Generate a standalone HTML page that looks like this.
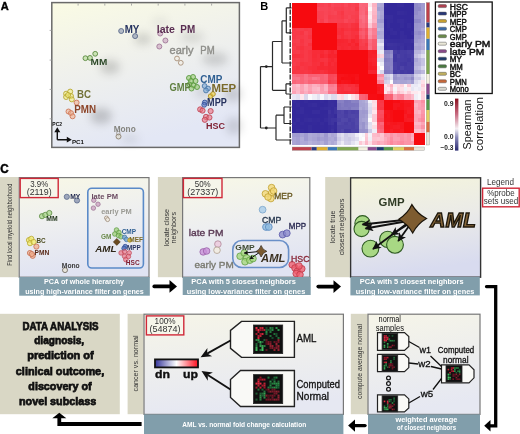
<!DOCTYPE html>
<html><head><meta charset="utf-8"><style>
html,body{margin:0;padding:0;background:#fff;}
body{width:520px;height:434px;overflow:hidden;}
svg{display:block;will-change:transform;font-family:"Liberation Sans", sans-serif;}
</style></head><body>
<svg width="520" height="434" viewBox="0 0 520 434">
<defs>
<linearGradient id="pg" x1="0" y1="0" x2="0.35" y2="1"><stop offset="0" stop-color="#fafbe4"/><stop offset="0.45" stop-color="#f0f1ec"/><stop offset="1" stop-color="#e3e7f5"/></linearGradient>
<filter id="blur4" x="-50%" y="-50%" width="200%" height="200%"><feGaussianBlur stdDeviation="4"/></filter>
<filter id="blur5" x="-50%" y="-50%" width="200%" height="200%"><feGaussianBlur stdDeviation="4.5"/></filter><filter id="blur2" x="-50%" y="-50%" width="200%" height="200%"><feGaussianBlur stdDeviation="2"/></filter>
<linearGradient id="cbar" x1="0" y1="1" x2="0" y2="0"><stop offset="0" stop-color="#2a2a70"/><stop offset="0.25" stop-color="#8888b8"/><stop offset="0.42" stop-color="#f4f0f4"/><stop offset="0.7" stop-color="#c86a80"/><stop offset="1" stop-color="#8a1020"/></linearGradient>
<linearGradient id="dnup" x1="0" y1="0" x2="1" y2="0"><stop offset="0" stop-color="#34349a"/><stop offset="0.5" stop-color="#ffffff"/><stop offset="1" stop-color="#ff1020"/></linearGradient>
</defs>
<text x="0.8" y="10.2" font-size="11.6" font-weight="bold" fill="#000" stroke="#000" stroke-width="0.4" textLength="8" lengthAdjust="spacingAndGlyphs">A</text>
<rect x="51.8" y="2.6" width="187.6" height="144.8" fill="url(#pg)" stroke="#6a6a6a" stroke-width="1.5"/>
<g filter="url(#blur5)">
<ellipse cx="110" cy="67" rx="10" ry="7" fill="#000" opacity="0.16"/>
<ellipse cx="143" cy="39" rx="9" ry="6" fill="#000" opacity="0.14"/>
<ellipse cx="192" cy="37" rx="12" ry="6" fill="#000" opacity="0.1"/>
<ellipse cx="215" cy="59" rx="13" ry="7" fill="#000" opacity="0.14"/>
<ellipse cx="101" cy="116" rx="11" ry="8" fill="#000" opacity="0.18"/>
<ellipse cx="233" cy="94" rx="9" ry="8" fill="#000" opacity="0.14"/>
<ellipse cx="234" cy="126" rx="8" ry="9" fill="#000" opacity="0.13"/>
<ellipse cx="130" cy="139" rx="9" ry="5" fill="#000" opacity="0.08"/>
<ellipse cx="203" cy="92" rx="9" ry="6" fill="#000" opacity="0.1"/>
<ellipse cx="160" cy="22" rx="8" ry="5" fill="#000" opacity="0.06"/>
</g>
<path d="M78.1 3.4v2.2M104.8 3.4v2.2M131.5 3.4v2.2M158.2 3.4v2.2M184.9 3.4v2.2M211.6 3.4v2.2M49.6 30.4h2.2M49.6 60.1h2.2M49.6 89.4h2.2M49.6 118.8h2.2" stroke="#999" stroke-width="0.8"/>
<circle cx="121.2" cy="31" r="2.5" fill="#8894b0" fill-opacity="0.6" stroke="#5a6a8a" stroke-width="0.9"/>
<circle cx="135.1" cy="36.1" r="2.5" fill="#8894b0" fill-opacity="0.6" stroke="#5a6a8a" stroke-width="0.9"/>
<circle cx="160.2" cy="33.5" r="2.5" fill="#c8a0bc" fill-opacity="0.6" stroke="#a07898" stroke-width="0.9"/>
<circle cx="165.4" cy="40.5" r="2.5" fill="#c8a0bc" fill-opacity="0.6" stroke="#a07898" stroke-width="0.9"/>
<circle cx="159.3" cy="46.5" r="2.5" fill="#c8a0bc" fill-opacity="0.6" stroke="#a07898" stroke-width="0.9"/>
<circle cx="177" cy="58.5" r="2.4" fill="#f4eee4" fill-opacity="0.6" stroke="#a89078" stroke-width="0.9"/>
<circle cx="180.8" cy="62.8" r="2.4" fill="#f4eee4" fill-opacity="0.6" stroke="#a89078" stroke-width="0.9"/>
<circle cx="85.4" cy="58.2" r="2.4" fill="#b0d890" fill-opacity="0.6" stroke="#5a8a40" stroke-width="0.9"/>
<circle cx="90" cy="57.9" r="2.4" fill="#b0d890" fill-opacity="0.6" stroke="#5a8a40" stroke-width="0.9"/>
<circle cx="95.2" cy="53.8" r="2.4" fill="#b0d890" fill-opacity="0.6" stroke="#5a8a40" stroke-width="0.9"/>
<circle cx="189" cy="78" r="2.5" fill="#98cc70" fill-opacity="0.6" stroke="#5a9a40" stroke-width="0.9"/>
<circle cx="193" cy="77" r="2.5" fill="#98cc70" fill-opacity="0.6" stroke="#5a9a40" stroke-width="0.9"/>
<circle cx="191" cy="81" r="2.5" fill="#98cc70" fill-opacity="0.6" stroke="#5a9a40" stroke-width="0.9"/>
<circle cx="195.5" cy="81" r="2.5" fill="#98cc70" fill-opacity="0.6" stroke="#5a9a40" stroke-width="0.9"/>
<circle cx="189.5" cy="84.5" r="2.5" fill="#98cc70" fill-opacity="0.6" stroke="#5a9a40" stroke-width="0.9"/>
<circle cx="193.5" cy="85.5" r="2.5" fill="#98cc70" fill-opacity="0.6" stroke="#5a9a40" stroke-width="0.9"/>
<circle cx="197" cy="87" r="2.5" fill="#98cc70" fill-opacity="0.6" stroke="#5a9a40" stroke-width="0.9"/>
<circle cx="191.5" cy="88.5" r="2.5" fill="#98cc70" fill-opacity="0.6" stroke="#5a9a40" stroke-width="0.9"/>
<circle cx="204.6" cy="86" r="2.4" fill="#7aa8d8" fill-opacity="0.6" stroke="#4a78a8" stroke-width="0.9"/>
<circle cx="208" cy="88.5" r="2.4" fill="#7aa8d8" fill-opacity="0.6" stroke="#4a78a8" stroke-width="0.9"/>
<circle cx="206" cy="90.5" r="2.4" fill="#7aa8d8" fill-opacity="0.6" stroke="#4a78a8" stroke-width="0.9"/>
<circle cx="210.6" cy="96.1" r="2.3" fill="#f0d040" fill-opacity="0.6" stroke="#b09020" stroke-width="0.9"/>
<circle cx="213" cy="94" r="2.3" fill="#f0d040" fill-opacity="0.6" stroke="#b09020" stroke-width="0.9"/>
<circle cx="204.8" cy="102.5" r="2.4" fill="#5a78c0" fill-opacity="0.6" stroke="#34509a" stroke-width="0.9"/>
<circle cx="204.2" cy="104.8" r="2.4" fill="#5a78c0" fill-opacity="0.6" stroke="#34509a" stroke-width="0.9"/>
<circle cx="200.2" cy="109.4" r="2.6" fill="#ec7080" fill-opacity="0.6" stroke="#c04858" stroke-width="0.9"/>
<circle cx="202.5" cy="110.6" r="2.6" fill="#ec7080" fill-opacity="0.6" stroke="#c04858" stroke-width="0.9"/>
<circle cx="210.6" cy="111.1" r="2.6" fill="#ec7080" fill-opacity="0.6" stroke="#c04858" stroke-width="0.9"/>
<circle cx="206" cy="116.9" r="2.6" fill="#ec7080" fill-opacity="0.6" stroke="#c04858" stroke-width="0.9"/>
<circle cx="209.4" cy="117.5" r="2.6" fill="#ec7080" fill-opacity="0.6" stroke="#c04858" stroke-width="0.9"/>
<circle cx="204.8" cy="119.8" r="2.6" fill="#ec7080" fill-opacity="0.6" stroke="#c04858" stroke-width="0.9"/>
<circle cx="66.1" cy="93.7" r="2.5" fill="#f4ec80" fill-opacity="0.6" stroke="#b8a830" stroke-width="0.9"/>
<circle cx="70.2" cy="91.6" r="2.5" fill="#f4ec80" fill-opacity="0.6" stroke="#b8a830" stroke-width="0.9"/>
<circle cx="66.1" cy="97" r="2.5" fill="#f4ec80" fill-opacity="0.6" stroke="#b8a830" stroke-width="0.9"/>
<circle cx="71" cy="96.1" r="2.5" fill="#f4ec80" fill-opacity="0.6" stroke="#b8a830" stroke-width="0.9"/>
<circle cx="71.8" cy="99.4" r="2.5" fill="#f4ec80" fill-opacity="0.6" stroke="#b8a830" stroke-width="0.9"/>
<circle cx="68" cy="95" r="2.5" fill="#f4ec80" fill-opacity="0.6" stroke="#b8a830" stroke-width="0.9"/>
<circle cx="76.6" cy="102.6" r="2.5" fill="#f0b090" fill-opacity="0.6" stroke="#d07858" stroke-width="0.9"/>
<circle cx="68.5" cy="111.5" r="2.5" fill="#f0b090" fill-opacity="0.6" stroke="#d07858" stroke-width="0.9"/>
<circle cx="71" cy="113.1" r="2.5" fill="#f0b090" fill-opacity="0.6" stroke="#d07858" stroke-width="0.9"/>
<circle cx="72.6" cy="116.3" r="2.5" fill="#f0b090" fill-opacity="0.6" stroke="#d07858" stroke-width="0.9"/>
<circle cx="118.5" cy="136.5" r="2.5" fill="#ded8c8" fill-opacity="0.6" stroke="#8a8070" stroke-width="0.9"/>
<circle cx="118.3" cy="133.2" r="1.8" fill="none" fill-opacity="0.6" stroke="#8a8070" stroke-width="0.6"/>
<text x="124.7" y="32.7" font-size="10.2" fill="#263360" font-weight="bold" font-style="normal" text-anchor="start" textLength="14.7" lengthAdjust="spacingAndGlyphs" >MY</text>
<text x="156.8" y="32.6" font-size="10.6" fill="#5a2e52" font-weight="bold" font-style="normal" text-anchor="start" textLength="18.2" lengthAdjust="spacingAndGlyphs" >late</text>
<text x="180.3" y="32.6" font-size="10.6" fill="#5a2e52" font-weight="bold" font-style="normal" text-anchor="start" textLength="14.8" lengthAdjust="spacingAndGlyphs" >PM</text>
<text x="169.5" y="54.3" font-size="10.6" fill="#929290" font-weight="normal" font-style="normal" text-anchor="start" textLength="24" lengthAdjust="spacingAndGlyphs"  stroke="#8a8a84" stroke-width="0.4">early</text>
<text x="200.3" y="54.3" font-size="10.6" fill="#929290" font-weight="normal" font-style="normal" text-anchor="start" textLength="14.3" lengthAdjust="spacingAndGlyphs"  stroke="#8a8a84" stroke-width="0.4">PM</text>
<text x="90.6" y="64.8" font-size="9" fill="#2e4a2a" font-weight="bold" font-style="normal" text-anchor="start" textLength="16.7" lengthAdjust="spacingAndGlyphs" >MM</text>
<text x="169.5" y="90.8" font-size="10" fill="#5e7e3e" font-weight="bold" font-style="normal" text-anchor="start" textLength="21.3" lengthAdjust="spacingAndGlyphs" >GMP</text>
<text x="200.3" y="82.9" font-size="10.4" fill="#2f5f92" font-weight="bold" font-style="normal" text-anchor="start" textLength="22" lengthAdjust="spacingAndGlyphs" >CMP</text>
<text x="211.5" y="92.1" font-size="10.4" fill="#7a6a2a" font-weight="bold" font-style="normal" text-anchor="start" textLength="24.7" lengthAdjust="spacingAndGlyphs" >MEP</text>
<text x="207.1" y="106.3" font-size="10.2" fill="#26325e" font-weight="bold" font-style="normal" text-anchor="start" textLength="19.6" lengthAdjust="spacingAndGlyphs" >MPP</text>
<text x="206" y="128.5" font-size="9.8" fill="#7e1e30" font-weight="bold" font-style="normal" text-anchor="start" textLength="19" lengthAdjust="spacingAndGlyphs" >HSC</text>
<text x="77.1" y="97.6" font-size="10" fill="#727238" font-weight="bold" font-style="normal" text-anchor="start" textLength="14" lengthAdjust="spacingAndGlyphs" >BC</text>
<text x="74.2" y="113.2" font-size="10.4" fill="#8c4428" font-weight="bold" font-style="normal" text-anchor="start" textLength="21.8" lengthAdjust="spacingAndGlyphs" >PMN</text>
<text x="113.7" y="132.3" font-size="9" fill="#84847e" font-weight="bold" font-style="normal" text-anchor="start" textLength="22" lengthAdjust="spacingAndGlyphs" >Mono</text>
<text x="52.3" y="126.3" font-size="6.2" font-weight="bold" fill="#111" textLength="9.8" lengthAdjust="spacingAndGlyphs">PC2</text>
<path d="M57.3 139.7 V130.5 M57.3 139.7 H68" stroke="#111" stroke-width="1.4" fill="none"/>
<path d="M57.3 127.2 L54.3 132.2 L60.3 132.2 Z M71.8 139.7 L66.8 136.8 L66.8 142.6 Z" fill="#111"/>
<text x="72" y="143.5" font-size="6.2" font-weight="bold" fill="#111" textLength="12" lengthAdjust="spacingAndGlyphs">PC1</text>
<text x="260.2" y="10.4" font-size="10" font-weight="bold" fill="#000" textLength="8" lengthAdjust="spacingAndGlyphs">B</text>
<g shape-rendering="crispEdges">
<rect x="292.00" y="2.50" width="4.22" height="4.30" fill="#f70a0f"/>
<rect x="295.92" y="2.50" width="4.22" height="4.30" fill="#f70a0f"/>
<rect x="299.84" y="2.50" width="4.22" height="4.30" fill="#f70a0f"/>
<rect x="303.76" y="2.50" width="4.22" height="4.30" fill="#f70a0f"/>
<rect x="307.68" y="2.50" width="4.22" height="4.30" fill="#f70a0f"/>
<rect x="311.60" y="2.50" width="5.50" height="4.30" fill="#f70a0f"/>
<rect x="316.80" y="2.50" width="3.93" height="4.30" fill="#f84151"/>
<rect x="320.43" y="2.50" width="3.93" height="4.30" fill="#f84252"/>
<rect x="324.07" y="2.50" width="3.93" height="4.30" fill="#f84656"/>
<rect x="327.70" y="2.50" width="3.47" height="4.30" fill="#f83f4e"/>
<rect x="330.87" y="2.50" width="3.47" height="4.30" fill="#f9495a"/>
<rect x="334.03" y="2.50" width="3.47" height="4.30" fill="#f84555"/>
<rect x="337.20" y="2.50" width="3.87" height="4.30" fill="#f84455"/>
<rect x="340.77" y="2.50" width="3.87" height="4.30" fill="#f84151"/>
<rect x="344.33" y="2.50" width="3.87" height="4.30" fill="#f94959"/>
<rect x="347.90" y="2.50" width="3.87" height="4.30" fill="#f84050"/>
<rect x="351.47" y="2.50" width="3.87" height="4.30" fill="#f84353"/>
<rect x="355.03" y="2.50" width="3.87" height="4.30" fill="#f83f4e"/>
<rect x="358.60" y="2.50" width="3.33" height="4.30" fill="#fa687c"/>
<rect x="361.63" y="2.50" width="3.33" height="4.30" fill="#fa6579"/>
<rect x="364.67" y="2.50" width="3.33" height="4.30" fill="#f96578"/>
<rect x="367.70" y="2.50" width="4.75" height="4.30" fill="#fee6ec"/>
<rect x="372.15" y="2.50" width="4.75" height="4.30" fill="#fcb2c2"/>
<rect x="376.60" y="2.50" width="3.95" height="4.30" fill="#afabd7"/>
<rect x="380.25" y="2.50" width="3.95" height="4.30" fill="#aba6d5"/>
<rect x="383.90" y="2.50" width="3.40" height="4.30" fill="#362b9b"/>
<rect x="387.00" y="2.50" width="3.40" height="4.30" fill="#33289a"/>
<rect x="390.10" y="2.50" width="3.40" height="4.30" fill="#33289a"/>
<rect x="393.20" y="2.50" width="3.90" height="4.30" fill="#33289a"/>
<rect x="396.80" y="2.50" width="3.90" height="4.30" fill="#362b9b"/>
<rect x="400.40" y="2.50" width="3.90" height="4.30" fill="#372c9c"/>
<rect x="404.00" y="2.50" width="3.70" height="4.30" fill="#33289a"/>
<rect x="407.40" y="2.50" width="3.70" height="4.30" fill="#33289a"/>
<rect x="410.80" y="2.50" width="3.70" height="4.30" fill="#33289a"/>
<rect x="414.20" y="2.50" width="3.73" height="4.30" fill="#908ac8"/>
<rect x="417.63" y="2.50" width="3.73" height="4.30" fill="#9590cb"/>
<rect x="421.07" y="2.50" width="3.73" height="4.30" fill="#a09ad0"/>
<rect x="292.00" y="6.50" width="4.22" height="4.30" fill="#f70a0f"/>
<rect x="295.92" y="6.50" width="4.22" height="4.30" fill="#f70a0f"/>
<rect x="299.84" y="6.50" width="4.22" height="4.30" fill="#f70a0f"/>
<rect x="303.76" y="6.50" width="4.22" height="4.30" fill="#f70a0f"/>
<rect x="307.68" y="6.50" width="4.22" height="4.30" fill="#f70a0f"/>
<rect x="311.60" y="6.50" width="5.50" height="4.30" fill="#f70a0f"/>
<rect x="316.80" y="6.50" width="3.93" height="4.30" fill="#f94859"/>
<rect x="320.43" y="6.50" width="3.93" height="4.30" fill="#f84657"/>
<rect x="324.07" y="6.50" width="3.93" height="4.30" fill="#f84757"/>
<rect x="327.70" y="6.50" width="3.47" height="4.30" fill="#f84353"/>
<rect x="330.87" y="6.50" width="3.47" height="4.30" fill="#f84555"/>
<rect x="334.03" y="6.50" width="3.47" height="4.30" fill="#f84050"/>
<rect x="337.20" y="6.50" width="3.87" height="4.30" fill="#f84050"/>
<rect x="340.77" y="6.50" width="3.87" height="4.30" fill="#f83e4d"/>
<rect x="344.33" y="6.50" width="3.87" height="4.30" fill="#f84454"/>
<rect x="347.90" y="6.50" width="3.87" height="4.30" fill="#f84252"/>
<rect x="351.47" y="6.50" width="3.87" height="4.30" fill="#f84555"/>
<rect x="355.03" y="6.50" width="3.87" height="4.30" fill="#f83947"/>
<rect x="358.60" y="6.50" width="3.33" height="4.30" fill="#f96579"/>
<rect x="361.63" y="6.50" width="3.33" height="4.30" fill="#fa677b"/>
<rect x="364.67" y="6.50" width="3.33" height="4.30" fill="#f95e71"/>
<rect x="367.70" y="6.50" width="4.75" height="4.30" fill="#fefafb"/>
<rect x="372.15" y="6.50" width="4.75" height="4.30" fill="#fcbac9"/>
<rect x="376.60" y="6.50" width="3.95" height="4.30" fill="#a39ed1"/>
<rect x="380.25" y="6.50" width="3.95" height="4.30" fill="#a6a1d3"/>
<rect x="383.90" y="6.50" width="3.40" height="4.30" fill="#33289a"/>
<rect x="387.00" y="6.50" width="3.40" height="4.30" fill="#33289a"/>
<rect x="390.10" y="6.50" width="3.40" height="4.30" fill="#33289a"/>
<rect x="393.20" y="6.50" width="3.90" height="4.30" fill="#33289a"/>
<rect x="396.80" y="6.50" width="3.90" height="4.30" fill="#33289a"/>
<rect x="400.40" y="6.50" width="3.90" height="4.30" fill="#33289a"/>
<rect x="404.00" y="6.50" width="3.70" height="4.30" fill="#33289a"/>
<rect x="407.40" y="6.50" width="3.70" height="4.30" fill="#33289a"/>
<rect x="410.80" y="6.50" width="3.70" height="4.30" fill="#33289a"/>
<rect x="414.20" y="6.50" width="3.73" height="4.30" fill="#8f89c7"/>
<rect x="417.63" y="6.50" width="3.73" height="4.30" fill="#8e88c7"/>
<rect x="421.07" y="6.50" width="3.73" height="4.30" fill="#a19cd0"/>
<rect x="292.00" y="10.50" width="4.22" height="4.30" fill="#f70a0f"/>
<rect x="295.92" y="10.50" width="4.22" height="4.30" fill="#f70a0f"/>
<rect x="299.84" y="10.50" width="4.22" height="4.30" fill="#f70a0f"/>
<rect x="303.76" y="10.50" width="4.22" height="4.30" fill="#f70a0f"/>
<rect x="307.68" y="10.50" width="4.22" height="4.30" fill="#f70a0f"/>
<rect x="311.60" y="10.50" width="5.50" height="4.30" fill="#f70a0f"/>
<rect x="316.80" y="10.50" width="3.93" height="4.30" fill="#f84251"/>
<rect x="320.43" y="10.50" width="3.93" height="4.30" fill="#f84252"/>
<rect x="324.07" y="10.50" width="3.93" height="4.30" fill="#f84656"/>
<rect x="327.70" y="10.50" width="3.47" height="4.30" fill="#f84151"/>
<rect x="330.87" y="10.50" width="3.47" height="4.30" fill="#f84454"/>
<rect x="334.03" y="10.50" width="3.47" height="4.30" fill="#f84757"/>
<rect x="337.20" y="10.50" width="3.87" height="4.30" fill="#f83c4b"/>
<rect x="340.77" y="10.50" width="3.87" height="4.30" fill="#f83745"/>
<rect x="344.33" y="10.50" width="3.87" height="4.30" fill="#f84353"/>
<rect x="347.90" y="10.50" width="3.87" height="4.30" fill="#f84251"/>
<rect x="351.47" y="10.50" width="3.87" height="4.30" fill="#f84252"/>
<rect x="355.03" y="10.50" width="3.87" height="4.30" fill="#f83f4e"/>
<rect x="358.60" y="10.50" width="3.33" height="4.30" fill="#fa667a"/>
<rect x="361.63" y="10.50" width="3.33" height="4.30" fill="#fa6a7e"/>
<rect x="364.67" y="10.50" width="3.33" height="4.30" fill="#f9596c"/>
<rect x="367.70" y="10.50" width="4.75" height="4.30" fill="#fee3e9"/>
<rect x="372.15" y="10.50" width="4.75" height="4.30" fill="#fcb5c5"/>
<rect x="376.60" y="10.50" width="3.95" height="4.30" fill="#b3afd9"/>
<rect x="380.25" y="10.50" width="3.95" height="4.30" fill="#aba6d5"/>
<rect x="383.90" y="10.50" width="3.40" height="4.30" fill="#33289a"/>
<rect x="387.00" y="10.50" width="3.40" height="4.30" fill="#33289a"/>
<rect x="390.10" y="10.50" width="3.40" height="4.30" fill="#33289a"/>
<rect x="393.20" y="10.50" width="3.90" height="4.30" fill="#33289a"/>
<rect x="396.80" y="10.50" width="3.90" height="4.30" fill="#372c9c"/>
<rect x="400.40" y="10.50" width="3.90" height="4.30" fill="#362b9b"/>
<rect x="404.00" y="10.50" width="3.70" height="4.30" fill="#342a9a"/>
<rect x="407.40" y="10.50" width="3.70" height="4.30" fill="#33289a"/>
<rect x="410.80" y="10.50" width="3.70" height="4.30" fill="#33289a"/>
<rect x="414.20" y="10.50" width="3.73" height="4.30" fill="#928cc9"/>
<rect x="417.63" y="10.50" width="3.73" height="4.30" fill="#9c96ce"/>
<rect x="421.07" y="10.50" width="3.73" height="4.30" fill="#a29dd1"/>
<rect x="292.00" y="14.50" width="4.22" height="4.30" fill="#f70a0f"/>
<rect x="295.92" y="14.50" width="4.22" height="4.30" fill="#f70a0f"/>
<rect x="299.84" y="14.50" width="4.22" height="4.30" fill="#f70a0f"/>
<rect x="303.76" y="14.50" width="4.22" height="4.30" fill="#f70a0f"/>
<rect x="307.68" y="14.50" width="4.22" height="4.30" fill="#f70a0f"/>
<rect x="311.60" y="14.50" width="5.50" height="4.30" fill="#f70a0f"/>
<rect x="316.80" y="14.50" width="3.93" height="4.30" fill="#f84151"/>
<rect x="320.43" y="14.50" width="3.93" height="4.30" fill="#f84251"/>
<rect x="324.07" y="14.50" width="3.93" height="4.30" fill="#f94758"/>
<rect x="327.70" y="14.50" width="3.47" height="4.30" fill="#f83d4c"/>
<rect x="330.87" y="14.50" width="3.47" height="4.30" fill="#f83f4e"/>
<rect x="334.03" y="14.50" width="3.47" height="4.30" fill="#f84050"/>
<rect x="337.20" y="14.50" width="3.87" height="4.30" fill="#f83e4d"/>
<rect x="340.77" y="14.50" width="3.87" height="4.30" fill="#f83a48"/>
<rect x="344.33" y="14.50" width="3.87" height="4.30" fill="#f84151"/>
<rect x="347.90" y="14.50" width="3.87" height="4.30" fill="#f84656"/>
<rect x="351.47" y="14.50" width="3.87" height="4.30" fill="#f83f4e"/>
<rect x="355.03" y="14.50" width="3.87" height="4.30" fill="#f83d4c"/>
<rect x="358.60" y="14.50" width="3.33" height="4.30" fill="#fa6c80"/>
<rect x="361.63" y="14.50" width="3.33" height="4.30" fill="#fa6f84"/>
<rect x="364.67" y="14.50" width="3.33" height="4.30" fill="#f96275"/>
<rect x="367.70" y="14.50" width="4.75" height="4.30" fill="#feecf1"/>
<rect x="372.15" y="14.50" width="4.75" height="4.30" fill="#fcaebf"/>
<rect x="376.60" y="14.50" width="3.95" height="4.30" fill="#b0acd8"/>
<rect x="380.25" y="14.50" width="3.95" height="4.30" fill="#a7a2d3"/>
<rect x="383.90" y="14.50" width="3.40" height="4.30" fill="#372c9c"/>
<rect x="387.00" y="14.50" width="3.40" height="4.30" fill="#372d9c"/>
<rect x="390.10" y="14.50" width="3.40" height="4.30" fill="#372c9c"/>
<rect x="393.20" y="14.50" width="3.90" height="4.30" fill="#33289a"/>
<rect x="396.80" y="14.50" width="3.90" height="4.30" fill="#33289a"/>
<rect x="400.40" y="14.50" width="3.90" height="4.30" fill="#33289a"/>
<rect x="404.00" y="14.50" width="3.70" height="4.30" fill="#33289a"/>
<rect x="407.40" y="14.50" width="3.70" height="4.30" fill="#33289a"/>
<rect x="410.80" y="14.50" width="3.70" height="4.30" fill="#34299a"/>
<rect x="414.20" y="14.50" width="3.73" height="4.30" fill="#9893cc"/>
<rect x="417.63" y="14.50" width="3.73" height="4.30" fill="#9a95cd"/>
<rect x="421.07" y="14.50" width="3.73" height="4.30" fill="#9f9acf"/>
<rect x="292.00" y="18.50" width="4.22" height="4.30" fill="#f70a0f"/>
<rect x="295.92" y="18.50" width="4.22" height="4.30" fill="#f70a0f"/>
<rect x="299.84" y="18.50" width="4.22" height="4.30" fill="#f70a0f"/>
<rect x="303.76" y="18.50" width="4.22" height="4.30" fill="#f70a0f"/>
<rect x="307.68" y="18.50" width="4.22" height="4.30" fill="#f70a0f"/>
<rect x="311.60" y="18.50" width="5.50" height="4.30" fill="#f70a0f"/>
<rect x="316.80" y="18.50" width="3.93" height="4.30" fill="#f84454"/>
<rect x="320.43" y="18.50" width="3.93" height="4.30" fill="#f83e4d"/>
<rect x="324.07" y="18.50" width="3.93" height="4.30" fill="#f94a5b"/>
<rect x="327.70" y="18.50" width="3.47" height="4.30" fill="#f84050"/>
<rect x="330.87" y="18.50" width="3.47" height="4.30" fill="#f84151"/>
<rect x="334.03" y="18.50" width="3.47" height="4.30" fill="#f84252"/>
<rect x="337.20" y="18.50" width="3.87" height="4.30" fill="#f8404f"/>
<rect x="340.77" y="18.50" width="3.87" height="4.30" fill="#f83f4e"/>
<rect x="344.33" y="18.50" width="3.87" height="4.30" fill="#f94859"/>
<rect x="347.90" y="18.50" width="3.87" height="4.30" fill="#f84151"/>
<rect x="351.47" y="18.50" width="3.87" height="4.30" fill="#f84252"/>
<rect x="355.03" y="18.50" width="3.87" height="4.30" fill="#f83a49"/>
<rect x="358.60" y="18.50" width="3.33" height="4.30" fill="#f96377"/>
<rect x="361.63" y="18.50" width="3.33" height="4.30" fill="#fa6e82"/>
<rect x="364.67" y="18.50" width="3.33" height="4.30" fill="#f96377"/>
<rect x="367.70" y="18.50" width="4.75" height="4.30" fill="#fddfe7"/>
<rect x="372.15" y="18.50" width="4.75" height="4.30" fill="#fcb4c5"/>
<rect x="376.60" y="18.50" width="3.95" height="4.30" fill="#a39ed1"/>
<rect x="380.25" y="18.50" width="3.95" height="4.30" fill="#a09acf"/>
<rect x="383.90" y="18.50" width="3.40" height="4.30" fill="#33289a"/>
<rect x="387.00" y="18.50" width="3.40" height="4.30" fill="#362c9b"/>
<rect x="390.10" y="18.50" width="3.40" height="4.30" fill="#362b9b"/>
<rect x="393.20" y="18.50" width="3.90" height="4.30" fill="#33289a"/>
<rect x="396.80" y="18.50" width="3.90" height="4.30" fill="#362b9b"/>
<rect x="400.40" y="18.50" width="3.90" height="4.30" fill="#372c9c"/>
<rect x="404.00" y="18.50" width="3.70" height="4.30" fill="#34299a"/>
<rect x="407.40" y="18.50" width="3.70" height="4.30" fill="#33289a"/>
<rect x="410.80" y="18.50" width="3.70" height="4.30" fill="#33289a"/>
<rect x="414.20" y="18.50" width="3.73" height="4.30" fill="#8c86c6"/>
<rect x="417.63" y="18.50" width="3.73" height="4.30" fill="#8e88c7"/>
<rect x="421.07" y="18.50" width="3.73" height="4.30" fill="#a29dd1"/>
<rect x="292.00" y="22.50" width="4.22" height="5.40" fill="#f70a0f"/>
<rect x="295.92" y="22.50" width="4.22" height="5.40" fill="#f70a0f"/>
<rect x="299.84" y="22.50" width="4.22" height="5.40" fill="#f70a0f"/>
<rect x="303.76" y="22.50" width="4.22" height="5.40" fill="#f70a0f"/>
<rect x="307.68" y="22.50" width="4.22" height="5.40" fill="#f70a0f"/>
<rect x="311.60" y="22.50" width="5.50" height="5.40" fill="#f70a0f"/>
<rect x="316.80" y="22.50" width="3.93" height="5.40" fill="#f70a0f"/>
<rect x="320.43" y="22.50" width="3.93" height="5.40" fill="#f70a0f"/>
<rect x="324.07" y="22.50" width="3.93" height="5.40" fill="#f70a0f"/>
<rect x="327.70" y="22.50" width="3.47" height="5.40" fill="#f70a0f"/>
<rect x="330.87" y="22.50" width="3.47" height="5.40" fill="#f70a0f"/>
<rect x="334.03" y="22.50" width="3.47" height="5.40" fill="#f70a0f"/>
<rect x="337.20" y="22.50" width="3.87" height="5.40" fill="#f83543"/>
<rect x="340.77" y="22.50" width="3.87" height="5.40" fill="#f83341"/>
<rect x="344.33" y="22.50" width="3.87" height="5.40" fill="#f83543"/>
<rect x="347.90" y="22.50" width="3.87" height="5.40" fill="#f83948"/>
<rect x="351.47" y="22.50" width="3.87" height="5.40" fill="#f8323f"/>
<rect x="355.03" y="22.50" width="3.87" height="5.40" fill="#f82f3c"/>
<rect x="358.60" y="22.50" width="3.33" height="5.40" fill="#f96477"/>
<rect x="361.63" y="22.50" width="3.33" height="5.40" fill="#fa667a"/>
<rect x="364.67" y="22.50" width="3.33" height="5.40" fill="#f95c6f"/>
<rect x="367.70" y="22.50" width="4.75" height="5.40" fill="#fdc8d5"/>
<rect x="372.15" y="22.50" width="4.75" height="5.40" fill="#fb9db0"/>
<rect x="376.60" y="22.50" width="3.95" height="5.40" fill="#b0abd7"/>
<rect x="380.25" y="22.50" width="3.95" height="5.40" fill="#aeaad7"/>
<rect x="383.90" y="22.50" width="3.40" height="5.40" fill="#33289a"/>
<rect x="387.00" y="22.50" width="3.40" height="5.40" fill="#372c9b"/>
<rect x="390.10" y="22.50" width="3.40" height="5.40" fill="#33289a"/>
<rect x="393.20" y="22.50" width="3.90" height="5.40" fill="#33289a"/>
<rect x="396.80" y="22.50" width="3.90" height="5.40" fill="#33289a"/>
<rect x="400.40" y="22.50" width="3.90" height="5.40" fill="#362c9b"/>
<rect x="404.00" y="22.50" width="3.70" height="5.40" fill="#33289a"/>
<rect x="407.40" y="22.50" width="3.70" height="5.40" fill="#372c9c"/>
<rect x="410.80" y="22.50" width="3.70" height="5.40" fill="#33289a"/>
<rect x="414.20" y="22.50" width="3.73" height="5.40" fill="#9a95cd"/>
<rect x="417.63" y="22.50" width="3.73" height="5.40" fill="#9d98ce"/>
<rect x="421.07" y="22.50" width="3.73" height="5.40" fill="#a09bd0"/>
<rect x="292.00" y="27.60" width="4.22" height="4.03" fill="#f83947"/>
<rect x="295.92" y="27.60" width="4.22" height="4.03" fill="#f83d4c"/>
<rect x="299.84" y="27.60" width="4.22" height="4.03" fill="#f83b4a"/>
<rect x="303.76" y="27.60" width="4.22" height="4.03" fill="#f83846"/>
<rect x="307.68" y="27.60" width="4.22" height="4.03" fill="#f83a49"/>
<rect x="311.60" y="27.60" width="5.50" height="4.03" fill="#f70a0f"/>
<rect x="316.80" y="27.60" width="3.93" height="4.03" fill="#f70a0f"/>
<rect x="320.43" y="27.60" width="3.93" height="4.03" fill="#f70a0f"/>
<rect x="324.07" y="27.60" width="3.93" height="4.03" fill="#f70a0f"/>
<rect x="327.70" y="27.60" width="3.47" height="4.03" fill="#f70a0f"/>
<rect x="330.87" y="27.60" width="3.47" height="4.03" fill="#f70a0f"/>
<rect x="334.03" y="27.60" width="3.47" height="4.03" fill="#f70a0f"/>
<rect x="337.20" y="27.60" width="3.87" height="4.03" fill="#f8303c"/>
<rect x="340.77" y="27.60" width="3.87" height="4.03" fill="#f82b36"/>
<rect x="344.33" y="27.60" width="3.87" height="4.03" fill="#f8313e"/>
<rect x="347.90" y="27.60" width="3.87" height="4.03" fill="#f83340"/>
<rect x="351.47" y="27.60" width="3.87" height="4.03" fill="#f82e3a"/>
<rect x="355.03" y="27.60" width="3.87" height="4.03" fill="#f82c37"/>
<rect x="358.60" y="27.60" width="3.33" height="4.03" fill="#f94d5e"/>
<rect x="361.63" y="27.60" width="3.33" height="4.03" fill="#f95669"/>
<rect x="364.67" y="27.60" width="3.33" height="4.03" fill="#f94a5b"/>
<rect x="367.70" y="27.60" width="4.75" height="4.03" fill="#fb92a6"/>
<rect x="372.15" y="27.60" width="4.75" height="4.03" fill="#fa7c91"/>
<rect x="376.60" y="27.60" width="3.95" height="4.03" fill="#bebbdf"/>
<rect x="380.25" y="27.60" width="3.95" height="4.03" fill="#b7b3db"/>
<rect x="383.90" y="27.60" width="3.40" height="4.03" fill="#33289a"/>
<rect x="387.00" y="27.60" width="3.40" height="4.03" fill="#352a9b"/>
<rect x="390.10" y="27.60" width="3.40" height="4.03" fill="#372c9c"/>
<rect x="393.20" y="27.60" width="3.90" height="4.03" fill="#33289a"/>
<rect x="396.80" y="27.60" width="3.90" height="4.03" fill="#34299a"/>
<rect x="400.40" y="27.60" width="3.90" height="4.03" fill="#33289a"/>
<rect x="404.00" y="27.60" width="3.70" height="4.03" fill="#33289a"/>
<rect x="407.40" y="27.60" width="3.70" height="4.03" fill="#34299a"/>
<rect x="410.80" y="27.60" width="3.70" height="4.03" fill="#33289a"/>
<rect x="414.20" y="27.60" width="3.73" height="4.03" fill="#9c97ce"/>
<rect x="417.63" y="27.60" width="3.73" height="4.03" fill="#9e99cf"/>
<rect x="421.07" y="27.60" width="3.73" height="4.03" fill="#ada9d6"/>
<rect x="292.00" y="31.33" width="4.22" height="4.03" fill="#f83a49"/>
<rect x="295.92" y="31.33" width="4.22" height="4.03" fill="#f83a48"/>
<rect x="299.84" y="31.33" width="4.22" height="4.03" fill="#f83543"/>
<rect x="303.76" y="31.33" width="4.22" height="4.03" fill="#f84150"/>
<rect x="307.68" y="31.33" width="4.22" height="4.03" fill="#f83a48"/>
<rect x="311.60" y="31.33" width="5.50" height="4.03" fill="#f70a0f"/>
<rect x="316.80" y="31.33" width="3.93" height="4.03" fill="#f70a0f"/>
<rect x="320.43" y="31.33" width="3.93" height="4.03" fill="#f70a0f"/>
<rect x="324.07" y="31.33" width="3.93" height="4.03" fill="#f70a0f"/>
<rect x="327.70" y="31.33" width="3.47" height="4.03" fill="#f70a0f"/>
<rect x="330.87" y="31.33" width="3.47" height="4.03" fill="#f70a0f"/>
<rect x="334.03" y="31.33" width="3.47" height="4.03" fill="#f70a0f"/>
<rect x="337.20" y="31.33" width="3.87" height="4.03" fill="#f82e3b"/>
<rect x="340.77" y="31.33" width="3.87" height="4.03" fill="#f82d39"/>
<rect x="344.33" y="31.33" width="3.87" height="4.03" fill="#f83846"/>
<rect x="347.90" y="31.33" width="3.87" height="4.03" fill="#f83846"/>
<rect x="351.47" y="31.33" width="3.87" height="4.03" fill="#f8323f"/>
<rect x="355.03" y="31.33" width="3.87" height="4.03" fill="#f83341"/>
<rect x="358.60" y="31.33" width="3.33" height="4.03" fill="#f9596b"/>
<rect x="361.63" y="31.33" width="3.33" height="4.03" fill="#f95d70"/>
<rect x="364.67" y="31.33" width="3.33" height="4.03" fill="#f94f60"/>
<rect x="367.70" y="31.33" width="4.75" height="4.03" fill="#fb97ab"/>
<rect x="372.15" y="31.33" width="4.75" height="4.03" fill="#fa7f94"/>
<rect x="376.60" y="31.33" width="3.95" height="4.03" fill="#aba7d5"/>
<rect x="380.25" y="31.33" width="3.95" height="4.03" fill="#aeaad7"/>
<rect x="383.90" y="31.33" width="3.40" height="4.03" fill="#34299a"/>
<rect x="387.00" y="31.33" width="3.40" height="4.03" fill="#33289a"/>
<rect x="390.10" y="31.33" width="3.40" height="4.03" fill="#362b9b"/>
<rect x="393.20" y="31.33" width="3.90" height="4.03" fill="#372c9c"/>
<rect x="396.80" y="31.33" width="3.90" height="4.03" fill="#33289a"/>
<rect x="400.40" y="31.33" width="3.90" height="4.03" fill="#372c9c"/>
<rect x="404.00" y="31.33" width="3.70" height="4.03" fill="#33289a"/>
<rect x="407.40" y="31.33" width="3.70" height="4.03" fill="#33289a"/>
<rect x="410.80" y="31.33" width="3.70" height="4.03" fill="#372d9c"/>
<rect x="414.20" y="31.33" width="3.73" height="4.03" fill="#9791cb"/>
<rect x="417.63" y="31.33" width="3.73" height="4.03" fill="#928cc9"/>
<rect x="421.07" y="31.33" width="3.73" height="4.03" fill="#9e99cf"/>
<rect x="292.00" y="35.07" width="4.22" height="4.03" fill="#f83948"/>
<rect x="295.92" y="35.07" width="4.22" height="4.03" fill="#f83d4c"/>
<rect x="299.84" y="35.07" width="4.22" height="4.03" fill="#f83a48"/>
<rect x="303.76" y="35.07" width="4.22" height="4.03" fill="#f83d4d"/>
<rect x="307.68" y="35.07" width="4.22" height="4.03" fill="#f83643"/>
<rect x="311.60" y="35.07" width="5.50" height="4.03" fill="#f70a0f"/>
<rect x="316.80" y="35.07" width="3.93" height="4.03" fill="#f70a0f"/>
<rect x="320.43" y="35.07" width="3.93" height="4.03" fill="#f70a0f"/>
<rect x="324.07" y="35.07" width="3.93" height="4.03" fill="#f70a0f"/>
<rect x="327.70" y="35.07" width="3.47" height="4.03" fill="#f70a0f"/>
<rect x="330.87" y="35.07" width="3.47" height="4.03" fill="#f70a0f"/>
<rect x="334.03" y="35.07" width="3.47" height="4.03" fill="#f70a0f"/>
<rect x="337.20" y="35.07" width="3.87" height="4.03" fill="#f83543"/>
<rect x="340.77" y="35.07" width="3.87" height="4.03" fill="#f82d39"/>
<rect x="344.33" y="35.07" width="3.87" height="4.03" fill="#f83340"/>
<rect x="347.90" y="35.07" width="3.87" height="4.03" fill="#f83744"/>
<rect x="351.47" y="35.07" width="3.87" height="4.03" fill="#f8313e"/>
<rect x="355.03" y="35.07" width="3.87" height="4.03" fill="#f82c38"/>
<rect x="358.60" y="35.07" width="3.33" height="4.03" fill="#f95163"/>
<rect x="361.63" y="35.07" width="3.33" height="4.03" fill="#f9596b"/>
<rect x="364.67" y="35.07" width="3.33" height="4.03" fill="#f94757"/>
<rect x="367.70" y="35.07" width="4.75" height="4.03" fill="#fb8ea2"/>
<rect x="372.15" y="35.07" width="4.75" height="4.03" fill="#fa768b"/>
<rect x="376.60" y="35.07" width="3.95" height="4.03" fill="#b3afd9"/>
<rect x="380.25" y="35.07" width="3.95" height="4.03" fill="#b1add8"/>
<rect x="383.90" y="35.07" width="3.40" height="4.03" fill="#33289a"/>
<rect x="387.00" y="35.07" width="3.40" height="4.03" fill="#352a9b"/>
<rect x="390.10" y="35.07" width="3.40" height="4.03" fill="#33289a"/>
<rect x="393.20" y="35.07" width="3.90" height="4.03" fill="#33289a"/>
<rect x="396.80" y="35.07" width="3.90" height="4.03" fill="#33289a"/>
<rect x="400.40" y="35.07" width="3.90" height="4.03" fill="#372c9b"/>
<rect x="404.00" y="35.07" width="3.70" height="4.03" fill="#362b9b"/>
<rect x="407.40" y="35.07" width="3.70" height="4.03" fill="#33289a"/>
<rect x="410.80" y="35.07" width="3.70" height="4.03" fill="#33289a"/>
<rect x="414.20" y="35.07" width="3.73" height="4.03" fill="#9e99cf"/>
<rect x="417.63" y="35.07" width="3.73" height="4.03" fill="#9d98ce"/>
<rect x="421.07" y="35.07" width="3.73" height="4.03" fill="#a8a3d4"/>
<rect x="292.00" y="38.80" width="4.22" height="4.03" fill="#f83e4d"/>
<rect x="295.92" y="38.80" width="4.22" height="4.03" fill="#f8404f"/>
<rect x="299.84" y="38.80" width="4.22" height="4.03" fill="#f83543"/>
<rect x="303.76" y="38.80" width="4.22" height="4.03" fill="#f83d4c"/>
<rect x="307.68" y="38.80" width="4.22" height="4.03" fill="#f83d4c"/>
<rect x="311.60" y="38.80" width="5.50" height="4.03" fill="#f70a0f"/>
<rect x="316.80" y="38.80" width="3.93" height="4.03" fill="#f70a0f"/>
<rect x="320.43" y="38.80" width="3.93" height="4.03" fill="#f70a0f"/>
<rect x="324.07" y="38.80" width="3.93" height="4.03" fill="#f70a0f"/>
<rect x="327.70" y="38.80" width="3.47" height="4.03" fill="#f70a0f"/>
<rect x="330.87" y="38.80" width="3.47" height="4.03" fill="#f70a0f"/>
<rect x="334.03" y="38.80" width="3.47" height="4.03" fill="#f70a0f"/>
<rect x="337.20" y="38.80" width="3.87" height="4.03" fill="#f7242f"/>
<rect x="340.77" y="38.80" width="3.87" height="4.03" fill="#f72530"/>
<rect x="344.33" y="38.80" width="3.87" height="4.03" fill="#f72732"/>
<rect x="347.90" y="38.80" width="3.87" height="4.03" fill="#f82e3a"/>
<rect x="351.47" y="38.80" width="3.87" height="4.03" fill="#f7242e"/>
<rect x="355.03" y="38.80" width="3.87" height="4.03" fill="#f82a36"/>
<rect x="358.60" y="38.80" width="3.33" height="4.03" fill="#f83d4b"/>
<rect x="361.63" y="38.80" width="3.33" height="4.03" fill="#f84352"/>
<rect x="364.67" y="38.80" width="3.33" height="4.03" fill="#f83e4d"/>
<rect x="367.70" y="38.80" width="4.75" height="4.03" fill="#fa6e82"/>
<rect x="372.15" y="38.80" width="4.75" height="4.03" fill="#f95b6e"/>
<rect x="376.60" y="38.80" width="3.95" height="4.03" fill="#d4d2e9"/>
<rect x="380.25" y="38.80" width="3.95" height="4.03" fill="#cdcae6"/>
<rect x="383.90" y="38.80" width="3.40" height="4.03" fill="#3a309d"/>
<rect x="387.00" y="38.80" width="3.40" height="4.03" fill="#382d9c"/>
<rect x="390.10" y="38.80" width="3.40" height="4.03" fill="#372d9c"/>
<rect x="393.20" y="38.80" width="3.90" height="4.03" fill="#372c9c"/>
<rect x="396.80" y="38.80" width="3.90" height="4.03" fill="#362c9b"/>
<rect x="400.40" y="38.80" width="3.90" height="4.03" fill="#382d9c"/>
<rect x="404.00" y="38.80" width="3.70" height="4.03" fill="#392e9d"/>
<rect x="407.40" y="38.80" width="3.70" height="4.03" fill="#392e9d"/>
<rect x="410.80" y="38.80" width="3.70" height="4.03" fill="#3d329f"/>
<rect x="414.20" y="38.80" width="3.73" height="4.03" fill="#a19cd0"/>
<rect x="417.63" y="38.80" width="3.73" height="4.03" fill="#a7a2d3"/>
<rect x="421.07" y="38.80" width="3.73" height="4.03" fill="#ada9d6"/>
<rect x="292.00" y="42.53" width="4.22" height="4.03" fill="#f83947"/>
<rect x="295.92" y="42.53" width="4.22" height="4.03" fill="#f83d4c"/>
<rect x="299.84" y="42.53" width="4.22" height="4.03" fill="#f83745"/>
<rect x="303.76" y="42.53" width="4.22" height="4.03" fill="#f83e4d"/>
<rect x="307.68" y="42.53" width="4.22" height="4.03" fill="#f83340"/>
<rect x="311.60" y="42.53" width="5.50" height="4.03" fill="#f70a0f"/>
<rect x="316.80" y="42.53" width="3.93" height="4.03" fill="#f70a0f"/>
<rect x="320.43" y="42.53" width="3.93" height="4.03" fill="#f70a0f"/>
<rect x="324.07" y="42.53" width="3.93" height="4.03" fill="#f70a0f"/>
<rect x="327.70" y="42.53" width="3.47" height="4.03" fill="#f70a0f"/>
<rect x="330.87" y="42.53" width="3.47" height="4.03" fill="#f70a0f"/>
<rect x="334.03" y="42.53" width="3.47" height="4.03" fill="#f70a0f"/>
<rect x="337.20" y="42.53" width="3.87" height="4.03" fill="#f72631"/>
<rect x="340.77" y="42.53" width="3.87" height="4.03" fill="#f72833"/>
<rect x="344.33" y="42.53" width="3.87" height="4.03" fill="#f82834"/>
<rect x="347.90" y="42.53" width="3.87" height="4.03" fill="#f7242e"/>
<rect x="351.47" y="42.53" width="3.87" height="4.03" fill="#f82935"/>
<rect x="355.03" y="42.53" width="3.87" height="4.03" fill="#f7212b"/>
<rect x="358.60" y="42.53" width="3.33" height="4.03" fill="#f83e4d"/>
<rect x="361.63" y="42.53" width="3.33" height="4.03" fill="#f83f4e"/>
<rect x="364.67" y="42.53" width="3.33" height="4.03" fill="#f83643"/>
<rect x="367.70" y="42.53" width="4.75" height="4.03" fill="#fa697d"/>
<rect x="372.15" y="42.53" width="4.75" height="4.03" fill="#f95a6d"/>
<rect x="376.60" y="42.53" width="3.95" height="4.03" fill="#e8e6f3"/>
<rect x="380.25" y="42.53" width="3.95" height="4.03" fill="#e7e5f3"/>
<rect x="383.90" y="42.53" width="3.40" height="4.03" fill="#392e9d"/>
<rect x="387.00" y="42.53" width="3.40" height="4.03" fill="#3e349f"/>
<rect x="390.10" y="42.53" width="3.40" height="4.03" fill="#3e339f"/>
<rect x="393.20" y="42.53" width="3.90" height="4.03" fill="#3c329e"/>
<rect x="396.80" y="42.53" width="3.90" height="4.03" fill="#3a309d"/>
<rect x="400.40" y="42.53" width="3.90" height="4.03" fill="#3a2f9d"/>
<rect x="404.00" y="42.53" width="3.70" height="4.03" fill="#372c9c"/>
<rect x="407.40" y="42.53" width="3.70" height="4.03" fill="#382d9c"/>
<rect x="410.80" y="42.53" width="3.70" height="4.03" fill="#362c9b"/>
<rect x="414.20" y="42.53" width="3.73" height="4.03" fill="#aeaad7"/>
<rect x="417.63" y="42.53" width="3.73" height="4.03" fill="#aba7d5"/>
<rect x="421.07" y="42.53" width="3.73" height="4.03" fill="#b5b1da"/>
<rect x="292.00" y="46.27" width="4.22" height="4.03" fill="#f83d4b"/>
<rect x="295.92" y="46.27" width="4.22" height="4.03" fill="#f83644"/>
<rect x="299.84" y="46.27" width="4.22" height="4.03" fill="#f8323f"/>
<rect x="303.76" y="46.27" width="4.22" height="4.03" fill="#f83947"/>
<rect x="307.68" y="46.27" width="4.22" height="4.03" fill="#f83947"/>
<rect x="311.60" y="46.27" width="5.50" height="4.03" fill="#f70a0f"/>
<rect x="316.80" y="46.27" width="3.93" height="4.03" fill="#f70a0f"/>
<rect x="320.43" y="46.27" width="3.93" height="4.03" fill="#f70a0f"/>
<rect x="324.07" y="46.27" width="3.93" height="4.03" fill="#f70a0f"/>
<rect x="327.70" y="46.27" width="3.47" height="4.03" fill="#f70a0f"/>
<rect x="330.87" y="46.27" width="3.47" height="4.03" fill="#f70a0f"/>
<rect x="334.03" y="46.27" width="3.47" height="4.03" fill="#f70a0f"/>
<rect x="337.20" y="46.27" width="3.87" height="4.03" fill="#f82a36"/>
<rect x="340.77" y="46.27" width="3.87" height="4.03" fill="#f72732"/>
<rect x="344.33" y="46.27" width="3.87" height="4.03" fill="#f82935"/>
<rect x="347.90" y="46.27" width="3.87" height="4.03" fill="#f82c38"/>
<rect x="351.47" y="46.27" width="3.87" height="4.03" fill="#f72732"/>
<rect x="355.03" y="46.27" width="3.87" height="4.03" fill="#f72732"/>
<rect x="358.60" y="46.27" width="3.33" height="4.03" fill="#f83a48"/>
<rect x="361.63" y="46.27" width="3.33" height="4.03" fill="#f83b4a"/>
<rect x="364.67" y="46.27" width="3.33" height="4.03" fill="#f83a48"/>
<rect x="367.70" y="46.27" width="4.75" height="4.03" fill="#fa6e82"/>
<rect x="372.15" y="46.27" width="4.75" height="4.03" fill="#f9576a"/>
<rect x="376.60" y="46.27" width="3.95" height="4.03" fill="#dcdaed"/>
<rect x="380.25" y="46.27" width="3.95" height="4.03" fill="#d7d5eb"/>
<rect x="383.90" y="46.27" width="3.40" height="4.03" fill="#362b9b"/>
<rect x="387.00" y="46.27" width="3.40" height="4.03" fill="#3a2f9d"/>
<rect x="390.10" y="46.27" width="3.40" height="4.03" fill="#3b319e"/>
<rect x="393.20" y="46.27" width="3.90" height="4.03" fill="#3b309e"/>
<rect x="396.80" y="46.27" width="3.90" height="4.03" fill="#382d9c"/>
<rect x="400.40" y="46.27" width="3.90" height="4.03" fill="#3b319e"/>
<rect x="404.00" y="46.27" width="3.70" height="4.03" fill="#362b9b"/>
<rect x="407.40" y="46.27" width="3.70" height="4.03" fill="#392e9d"/>
<rect x="410.80" y="46.27" width="3.70" height="4.03" fill="#362c9b"/>
<rect x="414.20" y="46.27" width="3.73" height="4.03" fill="#a7a2d3"/>
<rect x="417.63" y="46.27" width="3.73" height="4.03" fill="#a6a1d2"/>
<rect x="421.07" y="46.27" width="3.73" height="4.03" fill="#b0acd8"/>
<rect x="292.00" y="50.00" width="4.22" height="4.30" fill="#f83a49"/>
<rect x="295.92" y="50.00" width="4.22" height="4.30" fill="#f83c4b"/>
<rect x="299.84" y="50.00" width="4.22" height="4.30" fill="#f83543"/>
<rect x="303.76" y="50.00" width="4.22" height="4.30" fill="#f83a48"/>
<rect x="307.68" y="50.00" width="4.22" height="4.30" fill="#f83442"/>
<rect x="311.60" y="50.00" width="5.50" height="4.30" fill="#f82c38"/>
<rect x="316.80" y="50.00" width="3.93" height="4.30" fill="#f82d39"/>
<rect x="320.43" y="50.00" width="3.93" height="4.30" fill="#f82934"/>
<rect x="324.07" y="50.00" width="3.93" height="4.30" fill="#f8303d"/>
<rect x="327.70" y="50.00" width="3.47" height="4.30" fill="#f72833"/>
<rect x="330.87" y="50.00" width="3.47" height="4.30" fill="#f7232e"/>
<rect x="334.03" y="50.00" width="3.47" height="4.30" fill="#f82b37"/>
<rect x="337.20" y="50.00" width="3.87" height="4.30" fill="#f70a0f"/>
<rect x="340.77" y="50.00" width="3.87" height="4.30" fill="#f70a0f"/>
<rect x="344.33" y="50.00" width="3.87" height="4.30" fill="#f70a0f"/>
<rect x="347.90" y="50.00" width="3.87" height="4.30" fill="#f70a0f"/>
<rect x="351.47" y="50.00" width="3.87" height="4.30" fill="#f70a0f"/>
<rect x="355.03" y="50.00" width="3.87" height="4.30" fill="#f70a0f"/>
<rect x="358.60" y="50.00" width="3.33" height="4.30" fill="#f70a0f"/>
<rect x="361.63" y="50.00" width="3.33" height="4.30" fill="#f70a0f"/>
<rect x="364.67" y="50.00" width="3.33" height="4.30" fill="#f70a0f"/>
<rect x="367.70" y="50.00" width="4.75" height="4.30" fill="#f7212a"/>
<rect x="372.15" y="50.00" width="4.75" height="4.30" fill="#f71e28"/>
<rect x="376.60" y="50.00" width="3.95" height="4.30" fill="#e5e4f2"/>
<rect x="380.25" y="50.00" width="3.95" height="4.30" fill="#ecebf5"/>
<rect x="383.90" y="50.00" width="3.40" height="4.30" fill="#857ec2"/>
<rect x="387.00" y="50.00" width="3.40" height="4.30" fill="#857ec2"/>
<rect x="390.10" y="50.00" width="3.40" height="4.30" fill="#8e87c7"/>
<rect x="393.20" y="50.00" width="3.90" height="4.30" fill="#483ea4"/>
<rect x="396.80" y="50.00" width="3.90" height="4.30" fill="#4238a1"/>
<rect x="400.40" y="50.00" width="3.90" height="4.30" fill="#463ca3"/>
<rect x="404.00" y="50.00" width="3.70" height="4.30" fill="#453ba3"/>
<rect x="407.40" y="50.00" width="3.70" height="4.30" fill="#493fa5"/>
<rect x="410.80" y="50.00" width="3.70" height="4.30" fill="#473da4"/>
<rect x="414.20" y="50.00" width="3.73" height="4.30" fill="#b8b4dc"/>
<rect x="417.63" y="50.00" width="3.73" height="4.30" fill="#b9b5dc"/>
<rect x="421.07" y="50.00" width="3.73" height="4.30" fill="#cbc8e5"/>
<rect x="292.00" y="54.00" width="4.22" height="4.30" fill="#f8313e"/>
<rect x="295.92" y="54.00" width="4.22" height="4.30" fill="#f83240"/>
<rect x="299.84" y="54.00" width="4.22" height="4.30" fill="#f83341"/>
<rect x="303.76" y="54.00" width="4.22" height="4.30" fill="#f83a48"/>
<rect x="307.68" y="54.00" width="4.22" height="4.30" fill="#f83543"/>
<rect x="311.60" y="54.00" width="5.50" height="4.30" fill="#f82b37"/>
<rect x="316.80" y="54.00" width="3.93" height="4.30" fill="#f82f3c"/>
<rect x="320.43" y="54.00" width="3.93" height="4.30" fill="#f72530"/>
<rect x="324.07" y="54.00" width="3.93" height="4.30" fill="#f82b37"/>
<rect x="327.70" y="54.00" width="3.47" height="4.30" fill="#f7222c"/>
<rect x="330.87" y="54.00" width="3.47" height="4.30" fill="#f7242e"/>
<rect x="334.03" y="54.00" width="3.47" height="4.30" fill="#f7232d"/>
<rect x="337.20" y="54.00" width="3.87" height="4.30" fill="#f70a0f"/>
<rect x="340.77" y="54.00" width="3.87" height="4.30" fill="#f70a0f"/>
<rect x="344.33" y="54.00" width="3.87" height="4.30" fill="#f70a0f"/>
<rect x="347.90" y="54.00" width="3.87" height="4.30" fill="#f70a0f"/>
<rect x="351.47" y="54.00" width="3.87" height="4.30" fill="#f70a0f"/>
<rect x="355.03" y="54.00" width="3.87" height="4.30" fill="#f70a0f"/>
<rect x="358.60" y="54.00" width="3.33" height="4.30" fill="#f70a0f"/>
<rect x="361.63" y="54.00" width="3.33" height="4.30" fill="#f70a0f"/>
<rect x="364.67" y="54.00" width="3.33" height="4.30" fill="#f70a0f"/>
<rect x="367.70" y="54.00" width="4.75" height="4.30" fill="#f7202a"/>
<rect x="372.15" y="54.00" width="4.75" height="4.30" fill="#f7222c"/>
<rect x="376.60" y="54.00" width="3.95" height="4.30" fill="#fdc9d5"/>
<rect x="380.25" y="54.00" width="3.95" height="4.30" fill="#fdd4de"/>
<rect x="383.90" y="54.00" width="3.40" height="4.30" fill="#8b85c5"/>
<rect x="387.00" y="54.00" width="3.40" height="4.30" fill="#8e88c7"/>
<rect x="390.10" y="54.00" width="3.40" height="4.30" fill="#9792cb"/>
<rect x="393.20" y="54.00" width="3.90" height="4.30" fill="#4238a1"/>
<rect x="396.80" y="54.00" width="3.90" height="4.30" fill="#4b41a5"/>
<rect x="400.40" y="54.00" width="3.90" height="4.30" fill="#463ca3"/>
<rect x="404.00" y="54.00" width="3.70" height="4.30" fill="#4339a2"/>
<rect x="407.40" y="54.00" width="3.70" height="4.30" fill="#463ca3"/>
<rect x="410.80" y="54.00" width="3.70" height="4.30" fill="#493fa5"/>
<rect x="414.20" y="54.00" width="3.73" height="4.30" fill="#c3c0e1"/>
<rect x="417.63" y="54.00" width="3.73" height="4.30" fill="#cfcce7"/>
<rect x="421.07" y="54.00" width="3.73" height="4.30" fill="#e2e0f0"/>
<rect x="292.00" y="58.00" width="4.22" height="4.30" fill="#f83a48"/>
<rect x="295.92" y="58.00" width="4.22" height="4.30" fill="#f83c4b"/>
<rect x="299.84" y="58.00" width="4.22" height="4.30" fill="#f83745"/>
<rect x="303.76" y="58.00" width="4.22" height="4.30" fill="#f83a48"/>
<rect x="307.68" y="58.00" width="4.22" height="4.30" fill="#f83543"/>
<rect x="311.60" y="58.00" width="5.50" height="4.30" fill="#f82d39"/>
<rect x="316.80" y="58.00" width="3.93" height="4.30" fill="#f82f3b"/>
<rect x="320.43" y="58.00" width="3.93" height="4.30" fill="#f8323f"/>
<rect x="324.07" y="58.00" width="3.93" height="4.30" fill="#f83441"/>
<rect x="327.70" y="58.00" width="3.47" height="4.30" fill="#f82935"/>
<rect x="330.87" y="58.00" width="3.47" height="4.30" fill="#f72631"/>
<rect x="334.03" y="58.00" width="3.47" height="4.30" fill="#f82b36"/>
<rect x="337.20" y="58.00" width="3.87" height="4.30" fill="#f70a0f"/>
<rect x="340.77" y="58.00" width="3.87" height="4.30" fill="#f70a0f"/>
<rect x="344.33" y="58.00" width="3.87" height="4.30" fill="#f70a0f"/>
<rect x="347.90" y="58.00" width="3.87" height="4.30" fill="#f70a0f"/>
<rect x="351.47" y="58.00" width="3.87" height="4.30" fill="#f70a0f"/>
<rect x="355.03" y="58.00" width="3.87" height="4.30" fill="#f70a0f"/>
<rect x="358.60" y="58.00" width="3.33" height="4.30" fill="#f70a0f"/>
<rect x="361.63" y="58.00" width="3.33" height="4.30" fill="#f70a0f"/>
<rect x="364.67" y="58.00" width="3.33" height="4.30" fill="#f70a0f"/>
<rect x="367.70" y="58.00" width="4.75" height="4.30" fill="#f7232d"/>
<rect x="372.15" y="58.00" width="4.75" height="4.30" fill="#f72530"/>
<rect x="376.60" y="58.00" width="3.95" height="4.30" fill="#deddef"/>
<rect x="380.25" y="58.00" width="3.95" height="4.30" fill="#dcdaed"/>
<rect x="383.90" y="58.00" width="3.40" height="4.30" fill="#8079c0"/>
<rect x="387.00" y="58.00" width="3.40" height="4.30" fill="#837cc1"/>
<rect x="390.10" y="58.00" width="3.40" height="4.30" fill="#8a84c5"/>
<rect x="393.20" y="58.00" width="3.90" height="4.30" fill="#4238a1"/>
<rect x="396.80" y="58.00" width="3.90" height="4.30" fill="#463ca3"/>
<rect x="400.40" y="58.00" width="3.90" height="4.30" fill="#453ba3"/>
<rect x="404.00" y="58.00" width="3.70" height="4.30" fill="#443aa2"/>
<rect x="407.40" y="58.00" width="3.70" height="4.30" fill="#4137a1"/>
<rect x="410.80" y="58.00" width="3.70" height="4.30" fill="#483ea4"/>
<rect x="414.20" y="58.00" width="3.73" height="4.30" fill="#aca7d6"/>
<rect x="417.63" y="58.00" width="3.73" height="4.30" fill="#bab6dc"/>
<rect x="421.07" y="58.00" width="3.73" height="4.30" fill="#c6c3e3"/>
<rect x="292.00" y="62.00" width="4.22" height="4.30" fill="#f83c4b"/>
<rect x="295.92" y="62.00" width="4.22" height="4.30" fill="#f83947"/>
<rect x="299.84" y="62.00" width="4.22" height="4.30" fill="#f8323f"/>
<rect x="303.76" y="62.00" width="4.22" height="4.30" fill="#f83442"/>
<rect x="307.68" y="62.00" width="4.22" height="4.30" fill="#f83644"/>
<rect x="311.60" y="62.00" width="5.50" height="4.30" fill="#f82f3b"/>
<rect x="316.80" y="62.00" width="3.93" height="4.30" fill="#f8313e"/>
<rect x="320.43" y="62.00" width="3.93" height="4.30" fill="#f72833"/>
<rect x="324.07" y="62.00" width="3.93" height="4.30" fill="#f8313e"/>
<rect x="327.70" y="62.00" width="3.47" height="4.30" fill="#f72530"/>
<rect x="330.87" y="62.00" width="3.47" height="4.30" fill="#f82b37"/>
<rect x="334.03" y="62.00" width="3.47" height="4.30" fill="#f72732"/>
<rect x="337.20" y="62.00" width="3.87" height="4.30" fill="#f70a0f"/>
<rect x="340.77" y="62.00" width="3.87" height="4.30" fill="#f70a0f"/>
<rect x="344.33" y="62.00" width="3.87" height="4.30" fill="#f70a0f"/>
<rect x="347.90" y="62.00" width="3.87" height="4.30" fill="#f70a0f"/>
<rect x="351.47" y="62.00" width="3.87" height="4.30" fill="#f70a0f"/>
<rect x="355.03" y="62.00" width="3.87" height="4.30" fill="#f70a0f"/>
<rect x="358.60" y="62.00" width="3.33" height="4.30" fill="#f70a0f"/>
<rect x="361.63" y="62.00" width="3.33" height="4.30" fill="#f70a0f"/>
<rect x="364.67" y="62.00" width="3.33" height="4.30" fill="#f70a0f"/>
<rect x="367.70" y="62.00" width="4.75" height="4.30" fill="#f71e27"/>
<rect x="372.15" y="62.00" width="4.75" height="4.30" fill="#f7232d"/>
<rect x="376.60" y="62.00" width="3.95" height="4.30" fill="#fbfbfd"/>
<rect x="380.25" y="62.00" width="3.95" height="4.30" fill="#ececf6"/>
<rect x="383.90" y="62.00" width="3.40" height="4.30" fill="#8780c3"/>
<rect x="387.00" y="62.00" width="3.40" height="4.30" fill="#8881c4"/>
<rect x="390.10" y="62.00" width="3.40" height="4.30" fill="#8a84c5"/>
<rect x="393.20" y="62.00" width="3.90" height="4.30" fill="#493fa5"/>
<rect x="396.80" y="62.00" width="3.90" height="4.30" fill="#463ca3"/>
<rect x="400.40" y="62.00" width="3.90" height="4.30" fill="#4238a1"/>
<rect x="404.00" y="62.00" width="3.70" height="4.30" fill="#4136a1"/>
<rect x="407.40" y="62.00" width="3.70" height="4.30" fill="#463ca3"/>
<rect x="410.80" y="62.00" width="3.70" height="4.30" fill="#443aa2"/>
<rect x="414.20" y="62.00" width="3.73" height="4.30" fill="#b5b1da"/>
<rect x="417.63" y="62.00" width="3.73" height="4.30" fill="#b7b3db"/>
<rect x="421.07" y="62.00" width="3.73" height="4.30" fill="#c7c4e3"/>
<rect x="292.00" y="66.00" width="4.22" height="4.30" fill="#f83744"/>
<rect x="295.92" y="66.00" width="4.22" height="4.30" fill="#f83340"/>
<rect x="299.84" y="66.00" width="4.22" height="4.30" fill="#f83745"/>
<rect x="303.76" y="66.00" width="4.22" height="4.30" fill="#f83442"/>
<rect x="307.68" y="66.00" width="4.22" height="4.30" fill="#f8303c"/>
<rect x="311.60" y="66.00" width="5.50" height="4.30" fill="#f82e3b"/>
<rect x="316.80" y="66.00" width="3.93" height="4.30" fill="#f82834"/>
<rect x="320.43" y="66.00" width="3.93" height="4.30" fill="#f72833"/>
<rect x="324.07" y="66.00" width="3.93" height="4.30" fill="#f82934"/>
<rect x="327.70" y="66.00" width="3.47" height="4.30" fill="#f72631"/>
<rect x="330.87" y="66.00" width="3.47" height="4.30" fill="#f72732"/>
<rect x="334.03" y="66.00" width="3.47" height="4.30" fill="#f72732"/>
<rect x="337.20" y="66.00" width="3.87" height="4.30" fill="#f70a0f"/>
<rect x="340.77" y="66.00" width="3.87" height="4.30" fill="#f70a0f"/>
<rect x="344.33" y="66.00" width="3.87" height="4.30" fill="#f70a0f"/>
<rect x="347.90" y="66.00" width="3.87" height="4.30" fill="#f70a0f"/>
<rect x="351.47" y="66.00" width="3.87" height="4.30" fill="#f70a0f"/>
<rect x="355.03" y="66.00" width="3.87" height="4.30" fill="#f70a0f"/>
<rect x="358.60" y="66.00" width="3.33" height="4.30" fill="#f70a0f"/>
<rect x="361.63" y="66.00" width="3.33" height="4.30" fill="#f70a0f"/>
<rect x="364.67" y="66.00" width="3.33" height="4.30" fill="#f70a0f"/>
<rect x="367.70" y="66.00" width="4.75" height="4.30" fill="#f71c25"/>
<rect x="372.15" y="66.00" width="4.75" height="4.30" fill="#f71d26"/>
<rect x="376.60" y="66.00" width="3.95" height="4.30" fill="#fee8ed"/>
<rect x="380.25" y="66.00" width="3.95" height="4.30" fill="#fefdfd"/>
<rect x="383.90" y="66.00" width="3.40" height="4.30" fill="#857ec2"/>
<rect x="387.00" y="66.00" width="3.40" height="4.30" fill="#857fc2"/>
<rect x="390.10" y="66.00" width="3.40" height="4.30" fill="#8d87c7"/>
<rect x="393.20" y="66.00" width="3.90" height="4.30" fill="#4a40a5"/>
<rect x="396.80" y="66.00" width="3.90" height="4.30" fill="#453ba3"/>
<rect x="400.40" y="66.00" width="3.90" height="4.30" fill="#4c42a6"/>
<rect x="404.00" y="66.00" width="3.70" height="4.30" fill="#443aa2"/>
<rect x="407.40" y="66.00" width="3.70" height="4.30" fill="#453ba3"/>
<rect x="410.80" y="66.00" width="3.70" height="4.30" fill="#463ca3"/>
<rect x="414.20" y="66.00" width="3.73" height="4.30" fill="#bdb9de"/>
<rect x="417.63" y="66.00" width="3.73" height="4.30" fill="#c3c0e1"/>
<rect x="421.07" y="66.00" width="3.73" height="4.30" fill="#dad8ec"/>
<rect x="292.00" y="70.00" width="4.22" height="4.30" fill="#f83543"/>
<rect x="295.92" y="70.00" width="4.22" height="4.30" fill="#f83745"/>
<rect x="299.84" y="70.00" width="4.22" height="4.30" fill="#f83543"/>
<rect x="303.76" y="70.00" width="4.22" height="4.30" fill="#f83745"/>
<rect x="307.68" y="70.00" width="4.22" height="4.30" fill="#f83341"/>
<rect x="311.60" y="70.00" width="5.50" height="4.30" fill="#f82e3a"/>
<rect x="316.80" y="70.00" width="3.93" height="4.30" fill="#f82e3a"/>
<rect x="320.43" y="70.00" width="3.93" height="4.30" fill="#f8323f"/>
<rect x="324.07" y="70.00" width="3.93" height="4.30" fill="#f82e3a"/>
<rect x="327.70" y="70.00" width="3.47" height="4.30" fill="#f72732"/>
<rect x="330.87" y="70.00" width="3.47" height="4.30" fill="#f72631"/>
<rect x="334.03" y="70.00" width="3.47" height="4.30" fill="#f72732"/>
<rect x="337.20" y="70.00" width="3.87" height="4.30" fill="#f70a0f"/>
<rect x="340.77" y="70.00" width="3.87" height="4.30" fill="#f70a0f"/>
<rect x="344.33" y="70.00" width="3.87" height="4.30" fill="#f70a0f"/>
<rect x="347.90" y="70.00" width="3.87" height="4.30" fill="#f70a0f"/>
<rect x="351.47" y="70.00" width="3.87" height="4.30" fill="#f70a0f"/>
<rect x="355.03" y="70.00" width="3.87" height="4.30" fill="#f70a0f"/>
<rect x="358.60" y="70.00" width="3.33" height="4.30" fill="#f70a0f"/>
<rect x="361.63" y="70.00" width="3.33" height="4.30" fill="#f70a0f"/>
<rect x="364.67" y="70.00" width="3.33" height="4.30" fill="#f70a0f"/>
<rect x="367.70" y="70.00" width="4.75" height="4.30" fill="#f72530"/>
<rect x="372.15" y="70.00" width="4.75" height="4.30" fill="#f7242f"/>
<rect x="376.60" y="70.00" width="3.95" height="4.30" fill="#eeedf7"/>
<rect x="380.25" y="70.00" width="3.95" height="4.30" fill="#dbd9ed"/>
<rect x="383.90" y="70.00" width="3.40" height="4.30" fill="#7e77bf"/>
<rect x="387.00" y="70.00" width="3.40" height="4.30" fill="#8079c0"/>
<rect x="390.10" y="70.00" width="3.40" height="4.30" fill="#8780c3"/>
<rect x="393.20" y="70.00" width="3.90" height="4.30" fill="#473da3"/>
<rect x="396.80" y="70.00" width="3.90" height="4.30" fill="#4a41a5"/>
<rect x="400.40" y="70.00" width="3.90" height="4.30" fill="#4339a2"/>
<rect x="404.00" y="70.00" width="3.70" height="4.30" fill="#463ca3"/>
<rect x="407.40" y="70.00" width="3.70" height="4.30" fill="#4339a2"/>
<rect x="410.80" y="70.00" width="3.70" height="4.30" fill="#443aa2"/>
<rect x="414.20" y="70.00" width="3.73" height="4.30" fill="#afabd7"/>
<rect x="417.63" y="70.00" width="3.73" height="4.30" fill="#b0acd8"/>
<rect x="421.07" y="70.00" width="3.73" height="4.30" fill="#bdb9de"/>
<rect x="292.00" y="74.00" width="4.22" height="3.53" fill="#fa6e82"/>
<rect x="295.92" y="74.00" width="4.22" height="3.53" fill="#fa687c"/>
<rect x="299.84" y="74.00" width="4.22" height="3.53" fill="#f96478"/>
<rect x="303.76" y="74.00" width="4.22" height="3.53" fill="#fa7287"/>
<rect x="307.68" y="74.00" width="4.22" height="3.53" fill="#f96175"/>
<rect x="311.60" y="74.00" width="5.50" height="3.53" fill="#f96377"/>
<rect x="316.80" y="74.00" width="3.93" height="3.53" fill="#f96578"/>
<rect x="320.43" y="74.00" width="3.93" height="3.53" fill="#f96175"/>
<rect x="324.07" y="74.00" width="3.93" height="3.53" fill="#fa687c"/>
<rect x="327.70" y="74.00" width="3.47" height="3.53" fill="#f84657"/>
<rect x="330.87" y="74.00" width="3.47" height="3.53" fill="#f94758"/>
<rect x="334.03" y="74.00" width="3.47" height="3.53" fill="#f94a5b"/>
<rect x="337.20" y="74.00" width="3.87" height="3.53" fill="#f7131a"/>
<rect x="340.77" y="74.00" width="3.87" height="3.53" fill="#f7131a"/>
<rect x="344.33" y="74.00" width="3.87" height="3.53" fill="#f71117"/>
<rect x="347.90" y="74.00" width="3.87" height="3.53" fill="#f70e14"/>
<rect x="351.47" y="74.00" width="3.87" height="3.53" fill="#f70f15"/>
<rect x="355.03" y="74.00" width="3.87" height="3.53" fill="#f71118"/>
<rect x="358.60" y="74.00" width="3.33" height="3.53" fill="#f70a0f"/>
<rect x="361.63" y="74.00" width="3.33" height="3.53" fill="#f70a0f"/>
<rect x="364.67" y="74.00" width="3.33" height="3.53" fill="#f70a0f"/>
<rect x="367.70" y="74.00" width="4.75" height="3.53" fill="#f70a0f"/>
<rect x="372.15" y="74.00" width="4.75" height="3.53" fill="#f70a0f"/>
<rect x="376.60" y="74.00" width="3.95" height="3.53" fill="#fb8fa3"/>
<rect x="380.25" y="74.00" width="3.95" height="3.53" fill="#fb91a5"/>
<rect x="383.90" y="74.00" width="3.40" height="3.53" fill="#cecce7"/>
<rect x="387.00" y="74.00" width="3.40" height="3.53" fill="#d4d2ea"/>
<rect x="390.10" y="74.00" width="3.40" height="3.53" fill="#e3e1f1"/>
<rect x="393.20" y="74.00" width="3.90" height="3.53" fill="#9d98ce"/>
<rect x="396.80" y="74.00" width="3.90" height="3.53" fill="#aea9d6"/>
<rect x="400.40" y="74.00" width="3.90" height="3.53" fill="#a5a0d2"/>
<rect x="404.00" y="74.00" width="3.70" height="3.53" fill="#a49fd1"/>
<rect x="407.40" y="74.00" width="3.70" height="3.53" fill="#a9a4d4"/>
<rect x="410.80" y="74.00" width="3.70" height="3.53" fill="#a19cd0"/>
<rect x="414.20" y="74.00" width="3.73" height="3.53" fill="#d5d3ea"/>
<rect x="417.63" y="74.00" width="3.73" height="3.53" fill="#dcdaed"/>
<rect x="421.07" y="74.00" width="3.73" height="3.53" fill="#efeef7"/>
<rect x="292.00" y="77.23" width="4.22" height="3.53" fill="#fa7488"/>
<rect x="295.92" y="77.23" width="4.22" height="3.53" fill="#fa768b"/>
<rect x="299.84" y="77.23" width="4.22" height="3.53" fill="#fa677b"/>
<rect x="303.76" y="77.23" width="4.22" height="3.53" fill="#fa7387"/>
<rect x="307.68" y="77.23" width="4.22" height="3.53" fill="#fa6a7e"/>
<rect x="311.60" y="77.23" width="5.50" height="3.53" fill="#fa788c"/>
<rect x="316.80" y="77.23" width="3.93" height="3.53" fill="#fa7186"/>
<rect x="320.43" y="77.23" width="3.93" height="3.53" fill="#f96275"/>
<rect x="324.07" y="77.23" width="3.93" height="3.53" fill="#fa677b"/>
<rect x="327.70" y="77.23" width="3.47" height="3.53" fill="#f94757"/>
<rect x="330.87" y="77.23" width="3.47" height="3.53" fill="#f9495a"/>
<rect x="334.03" y="77.23" width="3.47" height="3.53" fill="#f94f61"/>
<rect x="337.20" y="77.23" width="3.87" height="3.53" fill="#f71319"/>
<rect x="340.77" y="77.23" width="3.87" height="3.53" fill="#f70d13"/>
<rect x="344.33" y="77.23" width="3.87" height="3.53" fill="#f70f15"/>
<rect x="347.90" y="77.23" width="3.87" height="3.53" fill="#f70f15"/>
<rect x="351.47" y="77.23" width="3.87" height="3.53" fill="#f70d13"/>
<rect x="355.03" y="77.23" width="3.87" height="3.53" fill="#f7131a"/>
<rect x="358.60" y="77.23" width="3.33" height="3.53" fill="#f70a0f"/>
<rect x="361.63" y="77.23" width="3.33" height="3.53" fill="#f70a0f"/>
<rect x="364.67" y="77.23" width="3.33" height="3.53" fill="#f70a0f"/>
<rect x="367.70" y="77.23" width="4.75" height="3.53" fill="#f70a0f"/>
<rect x="372.15" y="77.23" width="4.75" height="3.53" fill="#f70a0f"/>
<rect x="376.60" y="77.23" width="3.95" height="3.53" fill="#fba1b4"/>
<rect x="380.25" y="77.23" width="3.95" height="3.53" fill="#fca5b7"/>
<rect x="383.90" y="77.23" width="3.40" height="3.53" fill="#c2bee0"/>
<rect x="387.00" y="77.23" width="3.40" height="3.53" fill="#cac7e5"/>
<rect x="390.10" y="77.23" width="3.40" height="3.53" fill="#e0deef"/>
<rect x="393.20" y="77.23" width="3.90" height="3.53" fill="#9994cc"/>
<rect x="396.80" y="77.23" width="3.90" height="3.53" fill="#a09bd0"/>
<rect x="400.40" y="77.23" width="3.90" height="3.53" fill="#a39ed1"/>
<rect x="404.00" y="77.23" width="3.70" height="3.53" fill="#9a94cd"/>
<rect x="407.40" y="77.23" width="3.70" height="3.53" fill="#9e99cf"/>
<rect x="410.80" y="77.23" width="3.70" height="3.53" fill="#8f89c7"/>
<rect x="414.20" y="77.23" width="3.73" height="3.53" fill="#cdcae6"/>
<rect x="417.63" y="77.23" width="3.73" height="3.53" fill="#cbc8e5"/>
<rect x="421.07" y="77.23" width="3.73" height="3.53" fill="#e7e6f3"/>
<rect x="292.00" y="80.47" width="4.22" height="3.53" fill="#f96579"/>
<rect x="295.92" y="80.47" width="4.22" height="3.53" fill="#fa6c81"/>
<rect x="299.84" y="80.47" width="4.22" height="3.53" fill="#fa6679"/>
<rect x="303.76" y="80.47" width="4.22" height="3.53" fill="#fa6f83"/>
<rect x="307.68" y="80.47" width="4.22" height="3.53" fill="#f96275"/>
<rect x="311.60" y="80.47" width="5.50" height="3.53" fill="#f96477"/>
<rect x="316.80" y="80.47" width="3.93" height="3.53" fill="#fa667a"/>
<rect x="320.43" y="80.47" width="3.93" height="3.53" fill="#f95f72"/>
<rect x="324.07" y="80.47" width="3.93" height="3.53" fill="#f96175"/>
<rect x="327.70" y="80.47" width="3.47" height="3.53" fill="#f83f4f"/>
<rect x="330.87" y="80.47" width="3.47" height="3.53" fill="#f84555"/>
<rect x="334.03" y="80.47" width="3.47" height="3.53" fill="#f84757"/>
<rect x="337.20" y="80.47" width="3.87" height="3.53" fill="#f71016"/>
<rect x="340.77" y="80.47" width="3.87" height="3.53" fill="#f7151c"/>
<rect x="344.33" y="80.47" width="3.87" height="3.53" fill="#f7131a"/>
<rect x="347.90" y="80.47" width="3.87" height="3.53" fill="#f71118"/>
<rect x="351.47" y="80.47" width="3.87" height="3.53" fill="#f70c12"/>
<rect x="355.03" y="80.47" width="3.87" height="3.53" fill="#f70f15"/>
<rect x="358.60" y="80.47" width="3.33" height="3.53" fill="#f70a0f"/>
<rect x="361.63" y="80.47" width="3.33" height="3.53" fill="#f70a0f"/>
<rect x="364.67" y="80.47" width="3.33" height="3.53" fill="#f70a0f"/>
<rect x="367.70" y="80.47" width="4.75" height="3.53" fill="#f70a0f"/>
<rect x="372.15" y="80.47" width="4.75" height="3.53" fill="#f70a0f"/>
<rect x="376.60" y="80.47" width="3.95" height="3.53" fill="#fa8398"/>
<rect x="380.25" y="80.47" width="3.95" height="3.53" fill="#fb8da1"/>
<rect x="383.90" y="80.47" width="3.40" height="3.53" fill="#d3d0e9"/>
<rect x="387.00" y="80.47" width="3.40" height="3.53" fill="#d9d7ec"/>
<rect x="390.10" y="80.47" width="3.40" height="3.53" fill="#fdfdfe"/>
<rect x="393.20" y="80.47" width="3.90" height="3.53" fill="#a6a1d3"/>
<rect x="396.80" y="80.47" width="3.90" height="3.53" fill="#a9a5d4"/>
<rect x="400.40" y="80.47" width="3.90" height="3.53" fill="#a7a2d3"/>
<rect x="404.00" y="80.47" width="3.70" height="3.53" fill="#a7a3d3"/>
<rect x="407.40" y="80.47" width="3.70" height="3.53" fill="#ada9d6"/>
<rect x="410.80" y="80.47" width="3.70" height="3.53" fill="#a09bd0"/>
<rect x="414.20" y="80.47" width="3.73" height="3.53" fill="#dddbee"/>
<rect x="417.63" y="80.47" width="3.73" height="3.53" fill="#e9e8f4"/>
<rect x="421.07" y="80.47" width="3.73" height="3.53" fill="#fee2e9"/>
<rect x="292.00" y="83.70" width="4.22" height="3.87" fill="#fcb1c2"/>
<rect x="295.92" y="83.70" width="4.22" height="3.87" fill="#fcbdcc"/>
<rect x="299.84" y="83.70" width="4.22" height="3.87" fill="#fba2b5"/>
<rect x="303.76" y="83.70" width="4.22" height="3.87" fill="#fcb9c8"/>
<rect x="307.68" y="83.70" width="4.22" height="3.87" fill="#fba1b3"/>
<rect x="311.60" y="83.70" width="5.50" height="3.87" fill="#fcb0c1"/>
<rect x="316.80" y="83.70" width="3.93" height="3.87" fill="#fca9ba"/>
<rect x="320.43" y="83.70" width="3.93" height="3.87" fill="#fb99ac"/>
<rect x="324.07" y="83.70" width="3.93" height="3.87" fill="#fcafc0"/>
<rect x="327.70" y="83.70" width="3.47" height="3.87" fill="#fa7b90"/>
<rect x="330.87" y="83.70" width="3.47" height="3.87" fill="#fa7a8e"/>
<rect x="334.03" y="83.70" width="3.47" height="3.87" fill="#fa8297"/>
<rect x="337.20" y="83.70" width="3.87" height="3.87" fill="#f82c38"/>
<rect x="340.77" y="83.70" width="3.87" height="3.87" fill="#f82f3c"/>
<rect x="344.33" y="83.70" width="3.87" height="3.87" fill="#f83441"/>
<rect x="347.90" y="83.70" width="3.87" height="3.87" fill="#f82e3a"/>
<rect x="351.47" y="83.70" width="3.87" height="3.87" fill="#f8303c"/>
<rect x="355.03" y="83.70" width="3.87" height="3.87" fill="#f72732"/>
<rect x="358.60" y="83.70" width="3.33" height="3.87" fill="#f70a0f"/>
<rect x="361.63" y="83.70" width="3.33" height="3.87" fill="#f70a0f"/>
<rect x="364.67" y="83.70" width="3.33" height="3.87" fill="#f70a0f"/>
<rect x="367.70" y="83.70" width="4.75" height="3.87" fill="#f70a0f"/>
<rect x="372.15" y="83.70" width="4.75" height="3.87" fill="#f70a0f"/>
<rect x="376.60" y="83.70" width="3.95" height="3.87" fill="#f71821"/>
<rect x="380.25" y="83.70" width="3.95" height="3.87" fill="#f71c24"/>
<rect x="383.90" y="83.70" width="3.40" height="3.87" fill="#feeaef"/>
<rect x="387.00" y="83.70" width="3.40" height="3.87" fill="#fdd3dd"/>
<rect x="390.10" y="83.70" width="3.40" height="3.87" fill="#fcb1c1"/>
<rect x="393.20" y="83.70" width="3.90" height="3.87" fill="#fee8ee"/>
<rect x="396.80" y="83.70" width="3.90" height="3.87" fill="#fddee6"/>
<rect x="400.40" y="83.70" width="3.90" height="3.87" fill="#fdd2dd"/>
<rect x="404.00" y="83.70" width="3.70" height="3.87" fill="#fef5f7"/>
<rect x="407.40" y="83.70" width="3.70" height="3.87" fill="#fdc9d6"/>
<rect x="410.80" y="83.70" width="3.70" height="3.87" fill="#ecebf5"/>
<rect x="414.20" y="83.70" width="3.73" height="3.87" fill="#eae9f5"/>
<rect x="417.63" y="83.70" width="3.73" height="3.87" fill="#f2f1f8"/>
<rect x="421.07" y="83.70" width="3.73" height="3.87" fill="#fdcfda"/>
<rect x="292.00" y="87.27" width="4.22" height="3.87" fill="#fcadbe"/>
<rect x="295.92" y="87.27" width="4.22" height="3.87" fill="#fcb5c5"/>
<rect x="299.84" y="87.27" width="4.22" height="3.87" fill="#fca3b5"/>
<rect x="303.76" y="87.27" width="4.22" height="3.87" fill="#fcb6c6"/>
<rect x="307.68" y="87.27" width="4.22" height="3.87" fill="#fca4b6"/>
<rect x="311.60" y="87.27" width="5.50" height="3.87" fill="#fcb6c6"/>
<rect x="316.80" y="87.27" width="3.93" height="3.87" fill="#fcbccb"/>
<rect x="320.43" y="87.27" width="3.93" height="3.87" fill="#fb9db0"/>
<rect x="324.07" y="87.27" width="3.93" height="3.87" fill="#fcb2c3"/>
<rect x="327.70" y="87.27" width="3.47" height="3.87" fill="#fa8297"/>
<rect x="330.87" y="87.27" width="3.47" height="3.87" fill="#fa8297"/>
<rect x="334.03" y="87.27" width="3.47" height="3.87" fill="#fb869a"/>
<rect x="337.20" y="87.27" width="3.87" height="3.87" fill="#f8323f"/>
<rect x="340.77" y="87.27" width="3.87" height="3.87" fill="#f82f3c"/>
<rect x="344.33" y="87.27" width="3.87" height="3.87" fill="#f83643"/>
<rect x="347.90" y="87.27" width="3.87" height="3.87" fill="#f83745"/>
<rect x="351.47" y="87.27" width="3.87" height="3.87" fill="#f8313e"/>
<rect x="355.03" y="87.27" width="3.87" height="3.87" fill="#f82e3b"/>
<rect x="358.60" y="87.27" width="3.33" height="3.87" fill="#f70a0f"/>
<rect x="361.63" y="87.27" width="3.33" height="3.87" fill="#f70a0f"/>
<rect x="364.67" y="87.27" width="3.33" height="3.87" fill="#f70a0f"/>
<rect x="367.70" y="87.27" width="4.75" height="3.87" fill="#f70a0f"/>
<rect x="372.15" y="87.27" width="4.75" height="3.87" fill="#f70a0f"/>
<rect x="376.60" y="87.27" width="3.95" height="3.87" fill="#f7151c"/>
<rect x="380.25" y="87.27" width="3.95" height="3.87" fill="#f71d26"/>
<rect x="383.90" y="87.27" width="3.40" height="3.87" fill="#fee0e8"/>
<rect x="387.00" y="87.27" width="3.40" height="3.87" fill="#feebf0"/>
<rect x="390.10" y="87.27" width="3.40" height="3.87" fill="#fcc1cf"/>
<rect x="393.20" y="87.27" width="3.90" height="3.87" fill="#f6f5fa"/>
<rect x="396.80" y="87.27" width="3.90" height="3.87" fill="#fdd9e2"/>
<rect x="400.40" y="87.27" width="3.90" height="3.87" fill="#fee1e8"/>
<rect x="404.00" y="87.27" width="3.70" height="3.87" fill="#f0f0f7"/>
<rect x="407.40" y="87.27" width="3.70" height="3.87" fill="#fee9ee"/>
<rect x="410.80" y="87.27" width="3.70" height="3.87" fill="#e7e6f3"/>
<rect x="414.20" y="87.27" width="3.73" height="3.87" fill="#f1f0f8"/>
<rect x="417.63" y="87.27" width="3.73" height="3.87" fill="#ebeaf5"/>
<rect x="421.07" y="87.27" width="3.73" height="3.87" fill="#fddfe7"/>
<rect x="292.00" y="90.83" width="4.22" height="3.87" fill="#fba1b4"/>
<rect x="295.92" y="90.83" width="4.22" height="3.87" fill="#fcb8c8"/>
<rect x="299.84" y="90.83" width="4.22" height="3.87" fill="#fb9db0"/>
<rect x="303.76" y="90.83" width="4.22" height="3.87" fill="#fcacbe"/>
<rect x="307.68" y="90.83" width="4.22" height="3.87" fill="#fb9bae"/>
<rect x="311.60" y="90.83" width="5.50" height="3.87" fill="#fcaebf"/>
<rect x="316.80" y="90.83" width="3.93" height="3.87" fill="#fcb2c3"/>
<rect x="320.43" y="90.83" width="3.93" height="3.87" fill="#fba0b3"/>
<rect x="324.07" y="90.83" width="3.93" height="3.87" fill="#fca3b5"/>
<rect x="327.70" y="90.83" width="3.47" height="3.87" fill="#fa788d"/>
<rect x="330.87" y="90.83" width="3.47" height="3.87" fill="#fa7a8f"/>
<rect x="334.03" y="90.83" width="3.47" height="3.87" fill="#fa778c"/>
<rect x="337.20" y="90.83" width="3.87" height="3.87" fill="#f8303d"/>
<rect x="340.77" y="90.83" width="3.87" height="3.87" fill="#f82e3a"/>
<rect x="344.33" y="90.83" width="3.87" height="3.87" fill="#f82c38"/>
<rect x="347.90" y="90.83" width="3.87" height="3.87" fill="#f82f3b"/>
<rect x="351.47" y="90.83" width="3.87" height="3.87" fill="#f82f3c"/>
<rect x="355.03" y="90.83" width="3.87" height="3.87" fill="#f82934"/>
<rect x="358.60" y="90.83" width="3.33" height="3.87" fill="#f70a0f"/>
<rect x="361.63" y="90.83" width="3.33" height="3.87" fill="#f70a0f"/>
<rect x="364.67" y="90.83" width="3.33" height="3.87" fill="#f70a0f"/>
<rect x="367.70" y="90.83" width="4.75" height="3.87" fill="#f70a0f"/>
<rect x="372.15" y="90.83" width="4.75" height="3.87" fill="#f70a0f"/>
<rect x="376.60" y="90.83" width="3.95" height="3.87" fill="#f71a22"/>
<rect x="380.25" y="90.83" width="3.95" height="3.87" fill="#f71b23"/>
<rect x="383.90" y="90.83" width="3.40" height="3.87" fill="#fee8ed"/>
<rect x="387.00" y="90.83" width="3.40" height="3.87" fill="#fdc3d1"/>
<rect x="390.10" y="90.83" width="3.40" height="3.87" fill="#fca7b9"/>
<rect x="393.20" y="90.83" width="3.90" height="3.87" fill="#fee9ef"/>
<rect x="396.80" y="90.83" width="3.90" height="3.87" fill="#fcc1cf"/>
<rect x="400.40" y="90.83" width="3.90" height="3.87" fill="#fdd4de"/>
<rect x="404.00" y="90.83" width="3.70" height="3.87" fill="#fee5eb"/>
<rect x="407.40" y="90.83" width="3.70" height="3.87" fill="#fdceda"/>
<rect x="410.80" y="90.83" width="3.70" height="3.87" fill="#fee9ee"/>
<rect x="414.20" y="90.83" width="3.73" height="3.87" fill="#fee9ef"/>
<rect x="417.63" y="90.83" width="3.73" height="3.87" fill="#fef3f6"/>
<rect x="421.07" y="90.83" width="3.73" height="3.87" fill="#fdcbd7"/>
<rect x="292.00" y="94.40" width="4.22" height="5.40" fill="#e8e7f4"/>
<rect x="295.92" y="94.40" width="4.22" height="5.40" fill="#e2e0f0"/>
<rect x="299.84" y="94.40" width="4.22" height="5.40" fill="#fee7ed"/>
<rect x="303.76" y="94.40" width="4.22" height="5.40" fill="#dad8ec"/>
<rect x="307.68" y="94.40" width="4.22" height="5.40" fill="#fbfbfd"/>
<rect x="311.60" y="94.40" width="5.50" height="5.40" fill="#f0eff7"/>
<rect x="316.80" y="94.40" width="3.93" height="5.40" fill="#e3e2f1"/>
<rect x="320.43" y="94.40" width="3.93" height="5.40" fill="#f8f8fc"/>
<rect x="324.07" y="94.40" width="3.93" height="5.40" fill="#dfddef"/>
<rect x="327.70" y="94.40" width="3.47" height="5.40" fill="#ecebf5"/>
<rect x="330.87" y="94.40" width="3.47" height="5.40" fill="#dcdaed"/>
<rect x="334.03" y="94.40" width="3.47" height="5.40" fill="#dddbee"/>
<rect x="337.20" y="94.40" width="3.87" height="5.40" fill="#fee2e9"/>
<rect x="340.77" y="94.40" width="3.87" height="5.40" fill="#fdd8e1"/>
<rect x="344.33" y="94.40" width="3.87" height="5.40" fill="#ebeaf5"/>
<rect x="347.90" y="94.40" width="3.87" height="5.40" fill="#fbfbfd"/>
<rect x="351.47" y="94.40" width="3.87" height="5.40" fill="#fee3ea"/>
<rect x="355.03" y="94.40" width="3.87" height="5.40" fill="#fdd0db"/>
<rect x="358.60" y="94.40" width="3.33" height="5.40" fill="#f96478"/>
<rect x="361.63" y="94.40" width="3.33" height="5.40" fill="#f96174"/>
<rect x="364.67" y="94.40" width="3.33" height="5.40" fill="#f95a6d"/>
<rect x="367.70" y="94.40" width="4.75" height="5.40" fill="#f70d13"/>
<rect x="372.15" y="94.40" width="4.75" height="5.40" fill="#f70d13"/>
<rect x="376.60" y="94.40" width="3.95" height="5.40" fill="#f70a0f"/>
<rect x="380.25" y="94.40" width="3.95" height="5.40" fill="#f70a0f"/>
<rect x="383.90" y="94.40" width="3.40" height="5.40" fill="#f96073"/>
<rect x="387.00" y="94.40" width="3.40" height="5.40" fill="#fa6679"/>
<rect x="390.10" y="94.40" width="3.40" height="5.40" fill="#f96073"/>
<rect x="393.20" y="94.40" width="3.90" height="5.40" fill="#fb9caf"/>
<rect x="396.80" y="94.40" width="3.90" height="5.40" fill="#fb8a9f"/>
<rect x="400.40" y="94.40" width="3.90" height="5.40" fill="#fb869a"/>
<rect x="404.00" y="94.40" width="3.70" height="5.40" fill="#fcaebf"/>
<rect x="407.40" y="94.40" width="3.70" height="5.40" fill="#fcabbc"/>
<rect x="410.80" y="94.40" width="3.70" height="5.40" fill="#fcbccb"/>
<rect x="414.20" y="94.40" width="3.73" height="5.40" fill="#f0eff7"/>
<rect x="417.63" y="94.40" width="3.73" height="5.40" fill="#f8f8fb"/>
<rect x="421.07" y="94.40" width="3.73" height="5.40" fill="#fdcfdb"/>
<rect x="292.00" y="99.50" width="4.22" height="3.80" fill="#362b9b"/>
<rect x="295.92" y="99.50" width="4.22" height="3.80" fill="#34299a"/>
<rect x="299.84" y="99.50" width="4.22" height="3.80" fill="#33289a"/>
<rect x="303.76" y="99.50" width="4.22" height="3.80" fill="#362b9b"/>
<rect x="307.68" y="99.50" width="4.22" height="3.80" fill="#33289a"/>
<rect x="311.60" y="99.50" width="5.50" height="3.80" fill="#33289a"/>
<rect x="316.80" y="99.50" width="3.93" height="3.80" fill="#33289a"/>
<rect x="320.43" y="99.50" width="3.93" height="3.80" fill="#352a9b"/>
<rect x="324.07" y="99.50" width="3.93" height="3.80" fill="#33289a"/>
<rect x="327.70" y="99.50" width="3.47" height="3.80" fill="#382e9c"/>
<rect x="330.87" y="99.50" width="3.47" height="3.80" fill="#382d9c"/>
<rect x="334.03" y="99.50" width="3.47" height="3.80" fill="#372c9c"/>
<rect x="337.20" y="99.50" width="3.87" height="3.80" fill="#867fc3"/>
<rect x="340.77" y="99.50" width="3.87" height="3.80" fill="#8881c4"/>
<rect x="344.33" y="99.50" width="3.87" height="3.80" fill="#7c75be"/>
<rect x="347.90" y="99.50" width="3.87" height="3.80" fill="#7e77bf"/>
<rect x="351.47" y="99.50" width="3.87" height="3.80" fill="#8a84c5"/>
<rect x="355.03" y="99.50" width="3.87" height="3.80" fill="#8982c4"/>
<rect x="358.60" y="99.50" width="3.33" height="3.80" fill="#a9a4d4"/>
<rect x="361.63" y="99.50" width="3.33" height="3.80" fill="#aca8d6"/>
<rect x="364.67" y="99.50" width="3.33" height="3.80" fill="#b7b3db"/>
<rect x="367.70" y="99.50" width="4.75" height="3.80" fill="#f2f1f8"/>
<rect x="372.15" y="99.50" width="4.75" height="3.80" fill="#fdd9e2"/>
<rect x="376.60" y="99.50" width="3.95" height="3.80" fill="#f83947"/>
<rect x="380.25" y="99.50" width="3.95" height="3.80" fill="#f83745"/>
<rect x="383.90" y="99.50" width="3.40" height="3.80" fill="#f70a0f"/>
<rect x="387.00" y="99.50" width="3.40" height="3.80" fill="#f70a0f"/>
<rect x="390.10" y="99.50" width="3.40" height="3.80" fill="#f70a0f"/>
<rect x="393.20" y="99.50" width="3.90" height="3.80" fill="#f70e14"/>
<rect x="396.80" y="99.50" width="3.90" height="3.80" fill="#f70d13"/>
<rect x="400.40" y="99.50" width="3.90" height="3.80" fill="#f7151c"/>
<rect x="404.00" y="99.50" width="3.70" height="3.80" fill="#f71a23"/>
<rect x="407.40" y="99.50" width="3.70" height="3.80" fill="#f71b24"/>
<rect x="410.80" y="99.50" width="3.70" height="3.80" fill="#f71c25"/>
<rect x="414.20" y="99.50" width="3.73" height="3.80" fill="#fba2b5"/>
<rect x="417.63" y="99.50" width="3.73" height="3.80" fill="#fca3b6"/>
<rect x="421.07" y="99.50" width="3.73" height="3.80" fill="#fb8ea2"/>
<rect x="292.00" y="103.00" width="4.22" height="3.80" fill="#33289a"/>
<rect x="295.92" y="103.00" width="4.22" height="3.80" fill="#362b9b"/>
<rect x="299.84" y="103.00" width="4.22" height="3.80" fill="#33289a"/>
<rect x="303.76" y="103.00" width="4.22" height="3.80" fill="#33289a"/>
<rect x="307.68" y="103.00" width="4.22" height="3.80" fill="#352a9b"/>
<rect x="311.60" y="103.00" width="5.50" height="3.80" fill="#372c9c"/>
<rect x="316.80" y="103.00" width="3.93" height="3.80" fill="#33289a"/>
<rect x="320.43" y="103.00" width="3.93" height="3.80" fill="#33289a"/>
<rect x="324.07" y="103.00" width="3.93" height="3.80" fill="#34299a"/>
<rect x="327.70" y="103.00" width="3.47" height="3.80" fill="#382d9c"/>
<rect x="330.87" y="103.00" width="3.47" height="3.80" fill="#392e9d"/>
<rect x="334.03" y="103.00" width="3.47" height="3.80" fill="#372c9c"/>
<rect x="337.20" y="103.00" width="3.87" height="3.80" fill="#7d76be"/>
<rect x="340.77" y="103.00" width="3.87" height="3.80" fill="#837cc1"/>
<rect x="344.33" y="103.00" width="3.87" height="3.80" fill="#7d76bf"/>
<rect x="347.90" y="103.00" width="3.87" height="3.80" fill="#7f78c0"/>
<rect x="351.47" y="103.00" width="3.87" height="3.80" fill="#8079c0"/>
<rect x="355.03" y="103.00" width="3.87" height="3.80" fill="#827bc1"/>
<rect x="358.60" y="103.00" width="3.33" height="3.80" fill="#a8a3d4"/>
<rect x="361.63" y="103.00" width="3.33" height="3.80" fill="#a8a4d4"/>
<rect x="364.67" y="103.00" width="3.33" height="3.80" fill="#afaad7"/>
<rect x="367.70" y="103.00" width="4.75" height="3.80" fill="#e1e0f0"/>
<rect x="372.15" y="103.00" width="4.75" height="3.80" fill="#fddfe7"/>
<rect x="376.60" y="103.00" width="3.95" height="3.80" fill="#f83745"/>
<rect x="380.25" y="103.00" width="3.95" height="3.80" fill="#f83a49"/>
<rect x="383.90" y="103.00" width="3.40" height="3.80" fill="#f70a0f"/>
<rect x="387.00" y="103.00" width="3.40" height="3.80" fill="#f70a0f"/>
<rect x="390.10" y="103.00" width="3.40" height="3.80" fill="#f70a0f"/>
<rect x="393.20" y="103.00" width="3.90" height="3.80" fill="#f7151d"/>
<rect x="396.80" y="103.00" width="3.90" height="3.80" fill="#f7141c"/>
<rect x="400.40" y="103.00" width="3.90" height="3.80" fill="#f71218"/>
<rect x="404.00" y="103.00" width="3.70" height="3.80" fill="#f71820"/>
<rect x="407.40" y="103.00" width="3.70" height="3.80" fill="#f7171f"/>
<rect x="410.80" y="103.00" width="3.70" height="3.80" fill="#f71d26"/>
<rect x="414.20" y="103.00" width="3.73" height="3.80" fill="#fcb5c5"/>
<rect x="417.63" y="103.00" width="3.73" height="3.80" fill="#fca5b7"/>
<rect x="421.07" y="103.00" width="3.73" height="3.80" fill="#fb99ad"/>
<rect x="292.00" y="106.50" width="4.22" height="3.80" fill="#33289a"/>
<rect x="295.92" y="106.50" width="4.22" height="3.80" fill="#33289a"/>
<rect x="299.84" y="106.50" width="4.22" height="3.80" fill="#372c9c"/>
<rect x="303.76" y="106.50" width="4.22" height="3.80" fill="#33289a"/>
<rect x="307.68" y="106.50" width="4.22" height="3.80" fill="#33289a"/>
<rect x="311.60" y="106.50" width="5.50" height="3.80" fill="#33289a"/>
<rect x="316.80" y="106.50" width="3.93" height="3.80" fill="#33289a"/>
<rect x="320.43" y="106.50" width="3.93" height="3.80" fill="#362b9b"/>
<rect x="324.07" y="106.50" width="3.93" height="3.80" fill="#372d9c"/>
<rect x="327.70" y="106.50" width="3.47" height="3.80" fill="#392f9d"/>
<rect x="330.87" y="106.50" width="3.47" height="3.80" fill="#372d9c"/>
<rect x="334.03" y="106.50" width="3.47" height="3.80" fill="#3d329e"/>
<rect x="337.20" y="106.50" width="3.87" height="3.80" fill="#7d76be"/>
<rect x="340.77" y="106.50" width="3.87" height="3.80" fill="#8079c0"/>
<rect x="344.33" y="106.50" width="3.87" height="3.80" fill="#817ac0"/>
<rect x="347.90" y="106.50" width="3.87" height="3.80" fill="#7d76be"/>
<rect x="351.47" y="106.50" width="3.87" height="3.80" fill="#8680c3"/>
<rect x="355.03" y="106.50" width="3.87" height="3.80" fill="#8680c3"/>
<rect x="358.60" y="106.50" width="3.33" height="3.80" fill="#aeaad7"/>
<rect x="361.63" y="106.50" width="3.33" height="3.80" fill="#a5a1d2"/>
<rect x="364.67" y="106.50" width="3.33" height="3.80" fill="#aeaad7"/>
<rect x="367.70" y="106.50" width="4.75" height="3.80" fill="#dcdaee"/>
<rect x="372.15" y="106.50" width="4.75" height="3.80" fill="#fdd5df"/>
<rect x="376.60" y="106.50" width="3.95" height="3.80" fill="#f83847"/>
<rect x="380.25" y="106.50" width="3.95" height="3.80" fill="#f83745"/>
<rect x="383.90" y="106.50" width="3.40" height="3.80" fill="#f70a0f"/>
<rect x="387.00" y="106.50" width="3.40" height="3.80" fill="#f70a0f"/>
<rect x="390.10" y="106.50" width="3.40" height="3.80" fill="#f70a0f"/>
<rect x="393.20" y="106.50" width="3.90" height="3.80" fill="#f7151c"/>
<rect x="396.80" y="106.50" width="3.90" height="3.80" fill="#f71016"/>
<rect x="400.40" y="106.50" width="3.90" height="3.80" fill="#f71219"/>
<rect x="404.00" y="106.50" width="3.70" height="3.80" fill="#f71921"/>
<rect x="407.40" y="106.50" width="3.70" height="3.80" fill="#f71b24"/>
<rect x="410.80" y="106.50" width="3.70" height="3.80" fill="#f71b24"/>
<rect x="414.20" y="106.50" width="3.73" height="3.80" fill="#fcaebf"/>
<rect x="417.63" y="106.50" width="3.73" height="3.80" fill="#fba2b4"/>
<rect x="421.07" y="106.50" width="3.73" height="3.80" fill="#fb9eb1"/>
<rect x="292.00" y="110.00" width="4.22" height="4.23" fill="#33289a"/>
<rect x="295.92" y="110.00" width="4.22" height="4.23" fill="#352b9b"/>
<rect x="299.84" y="110.00" width="4.22" height="4.23" fill="#372c9c"/>
<rect x="303.76" y="110.00" width="4.22" height="4.23" fill="#33289a"/>
<rect x="307.68" y="110.00" width="4.22" height="4.23" fill="#33289a"/>
<rect x="311.60" y="110.00" width="5.50" height="4.23" fill="#372c9c"/>
<rect x="316.80" y="110.00" width="3.93" height="4.23" fill="#372c9c"/>
<rect x="320.43" y="110.00" width="3.93" height="4.23" fill="#33289a"/>
<rect x="324.07" y="110.00" width="3.93" height="4.23" fill="#33289a"/>
<rect x="327.70" y="110.00" width="3.47" height="4.23" fill="#3f34a0"/>
<rect x="330.87" y="110.00" width="3.47" height="4.23" fill="#392e9d"/>
<rect x="334.03" y="110.00" width="3.47" height="4.23" fill="#3e349f"/>
<rect x="337.20" y="110.00" width="3.87" height="4.23" fill="#4c42a6"/>
<rect x="340.77" y="110.00" width="3.87" height="4.23" fill="#5046a8"/>
<rect x="344.33" y="110.00" width="3.87" height="4.23" fill="#463ca3"/>
<rect x="347.90" y="110.00" width="3.87" height="4.23" fill="#4d43a7"/>
<rect x="351.47" y="110.00" width="3.87" height="4.23" fill="#493fa5"/>
<rect x="355.03" y="110.00" width="3.87" height="4.23" fill="#4c42a6"/>
<rect x="358.60" y="110.00" width="3.33" height="4.23" fill="#a19cd0"/>
<rect x="361.63" y="110.00" width="3.33" height="4.23" fill="#9e98cf"/>
<rect x="364.67" y="110.00" width="3.33" height="4.23" fill="#a19cd0"/>
<rect x="367.70" y="110.00" width="4.75" height="4.23" fill="#dad8ed"/>
<rect x="372.15" y="110.00" width="4.75" height="4.23" fill="#fee5eb"/>
<rect x="376.60" y="110.00" width="3.95" height="4.23" fill="#f94d5e"/>
<rect x="380.25" y="110.00" width="3.95" height="4.23" fill="#f95062"/>
<rect x="383.90" y="110.00" width="3.40" height="4.23" fill="#f7151c"/>
<rect x="387.00" y="110.00" width="3.40" height="4.23" fill="#f7131b"/>
<rect x="390.10" y="110.00" width="3.40" height="4.23" fill="#f70f15"/>
<rect x="393.20" y="110.00" width="3.90" height="4.23" fill="#f70a0f"/>
<rect x="396.80" y="110.00" width="3.90" height="4.23" fill="#f70a0f"/>
<rect x="400.40" y="110.00" width="3.90" height="4.23" fill="#f70a0f"/>
<rect x="404.00" y="110.00" width="3.70" height="4.23" fill="#f7151d"/>
<rect x="407.40" y="110.00" width="3.70" height="4.23" fill="#f71d26"/>
<rect x="410.80" y="110.00" width="3.70" height="4.23" fill="#f71921"/>
<rect x="414.20" y="110.00" width="3.73" height="4.23" fill="#fcafc0"/>
<rect x="417.63" y="110.00" width="3.73" height="4.23" fill="#fcb7c7"/>
<rect x="421.07" y="110.00" width="3.73" height="4.23" fill="#fb97ab"/>
<rect x="292.00" y="113.93" width="4.22" height="4.23" fill="#33289a"/>
<rect x="295.92" y="113.93" width="4.22" height="4.23" fill="#33299a"/>
<rect x="299.84" y="113.93" width="4.22" height="4.23" fill="#33289a"/>
<rect x="303.76" y="113.93" width="4.22" height="4.23" fill="#34299a"/>
<rect x="307.68" y="113.93" width="4.22" height="4.23" fill="#33289a"/>
<rect x="311.60" y="113.93" width="5.50" height="4.23" fill="#33289a"/>
<rect x="316.80" y="113.93" width="3.93" height="4.23" fill="#33289a"/>
<rect x="320.43" y="113.93" width="3.93" height="4.23" fill="#33289a"/>
<rect x="324.07" y="113.93" width="3.93" height="4.23" fill="#34299a"/>
<rect x="327.70" y="113.93" width="3.47" height="4.23" fill="#3b309d"/>
<rect x="330.87" y="113.93" width="3.47" height="4.23" fill="#3a2f9d"/>
<rect x="334.03" y="113.93" width="3.47" height="4.23" fill="#362b9b"/>
<rect x="337.20" y="113.93" width="3.87" height="4.23" fill="#4e44a7"/>
<rect x="340.77" y="113.93" width="3.87" height="4.23" fill="#4e44a7"/>
<rect x="344.33" y="113.93" width="3.87" height="4.23" fill="#493fa4"/>
<rect x="347.90" y="113.93" width="3.87" height="4.23" fill="#4e45a7"/>
<rect x="351.47" y="113.93" width="3.87" height="4.23" fill="#5047a8"/>
<rect x="355.03" y="113.93" width="3.87" height="4.23" fill="#4e45a7"/>
<rect x="358.60" y="113.93" width="3.33" height="4.23" fill="#a19cd0"/>
<rect x="361.63" y="113.93" width="3.33" height="4.23" fill="#a19cd0"/>
<rect x="364.67" y="113.93" width="3.33" height="4.23" fill="#a7a3d3"/>
<rect x="367.70" y="113.93" width="4.75" height="4.23" fill="#e9e8f4"/>
<rect x="372.15" y="113.93" width="4.75" height="4.23" fill="#fdc7d4"/>
<rect x="376.60" y="113.93" width="3.95" height="4.23" fill="#f94d5e"/>
<rect x="380.25" y="113.93" width="3.95" height="4.23" fill="#f94b5c"/>
<rect x="383.90" y="113.93" width="3.40" height="4.23" fill="#f71117"/>
<rect x="387.00" y="113.93" width="3.40" height="4.23" fill="#f7151c"/>
<rect x="390.10" y="113.93" width="3.40" height="4.23" fill="#f70f15"/>
<rect x="393.20" y="113.93" width="3.90" height="4.23" fill="#f70a0f"/>
<rect x="396.80" y="113.93" width="3.90" height="4.23" fill="#f70a0f"/>
<rect x="400.40" y="113.93" width="3.90" height="4.23" fill="#f70a0f"/>
<rect x="404.00" y="113.93" width="3.70" height="4.23" fill="#f71c25"/>
<rect x="407.40" y="113.93" width="3.70" height="4.23" fill="#f7151d"/>
<rect x="410.80" y="113.93" width="3.70" height="4.23" fill="#f7161e"/>
<rect x="414.20" y="113.93" width="3.73" height="4.23" fill="#fca5b7"/>
<rect x="417.63" y="113.93" width="3.73" height="4.23" fill="#fca7b9"/>
<rect x="421.07" y="113.93" width="3.73" height="4.23" fill="#fb90a4"/>
<rect x="292.00" y="117.87" width="4.22" height="4.23" fill="#33289a"/>
<rect x="295.92" y="117.87" width="4.22" height="4.23" fill="#372c9c"/>
<rect x="299.84" y="117.87" width="4.22" height="4.23" fill="#33289a"/>
<rect x="303.76" y="117.87" width="4.22" height="4.23" fill="#362b9b"/>
<rect x="307.68" y="117.87" width="4.22" height="4.23" fill="#372d9c"/>
<rect x="311.60" y="117.87" width="5.50" height="4.23" fill="#352a9b"/>
<rect x="316.80" y="117.87" width="3.93" height="4.23" fill="#362b9b"/>
<rect x="320.43" y="117.87" width="3.93" height="4.23" fill="#33289a"/>
<rect x="324.07" y="117.87" width="3.93" height="4.23" fill="#372c9c"/>
<rect x="327.70" y="117.87" width="3.47" height="4.23" fill="#3b319e"/>
<rect x="330.87" y="117.87" width="3.47" height="4.23" fill="#3f35a0"/>
<rect x="334.03" y="117.87" width="3.47" height="4.23" fill="#3f35a0"/>
<rect x="337.20" y="117.87" width="3.87" height="4.23" fill="#4940a5"/>
<rect x="340.77" y="117.87" width="3.87" height="4.23" fill="#5148a9"/>
<rect x="344.33" y="117.87" width="3.87" height="4.23" fill="#5047a8"/>
<rect x="347.90" y="117.87" width="3.87" height="4.23" fill="#483ea4"/>
<rect x="351.47" y="117.87" width="3.87" height="4.23" fill="#4c43a6"/>
<rect x="355.03" y="117.87" width="3.87" height="4.23" fill="#5248a9"/>
<rect x="358.60" y="117.87" width="3.33" height="4.23" fill="#a29dd1"/>
<rect x="361.63" y="117.87" width="3.33" height="4.23" fill="#a8a3d4"/>
<rect x="364.67" y="117.87" width="3.33" height="4.23" fill="#aba7d5"/>
<rect x="367.70" y="117.87" width="4.75" height="4.23" fill="#fdfdfe"/>
<rect x="372.15" y="117.87" width="4.75" height="4.23" fill="#fdc7d4"/>
<rect x="376.60" y="117.87" width="3.95" height="4.23" fill="#f94758"/>
<rect x="380.25" y="117.87" width="3.95" height="4.23" fill="#f84555"/>
<rect x="383.90" y="117.87" width="3.40" height="4.23" fill="#f7131b"/>
<rect x="387.00" y="117.87" width="3.40" height="4.23" fill="#f7131a"/>
<rect x="390.10" y="117.87" width="3.40" height="4.23" fill="#f71016"/>
<rect x="393.20" y="117.87" width="3.90" height="4.23" fill="#f70a0f"/>
<rect x="396.80" y="117.87" width="3.90" height="4.23" fill="#f70a0f"/>
<rect x="400.40" y="117.87" width="3.90" height="4.23" fill="#f70a0f"/>
<rect x="404.00" y="117.87" width="3.70" height="4.23" fill="#f71922"/>
<rect x="407.40" y="117.87" width="3.70" height="4.23" fill="#f71c24"/>
<rect x="410.80" y="117.87" width="3.70" height="4.23" fill="#f71b24"/>
<rect x="414.20" y="117.87" width="3.73" height="4.23" fill="#fca7b9"/>
<rect x="417.63" y="117.87" width="3.73" height="4.23" fill="#fb95a9"/>
<rect x="421.07" y="117.87" width="3.73" height="4.23" fill="#fb8a9e"/>
<rect x="292.00" y="121.80" width="4.22" height="3.87" fill="#362c9b"/>
<rect x="295.92" y="121.80" width="4.22" height="3.87" fill="#33289a"/>
<rect x="299.84" y="121.80" width="4.22" height="3.87" fill="#352a9b"/>
<rect x="303.76" y="121.80" width="4.22" height="3.87" fill="#33289a"/>
<rect x="307.68" y="121.80" width="4.22" height="3.87" fill="#33289a"/>
<rect x="311.60" y="121.80" width="5.50" height="3.87" fill="#34299a"/>
<rect x="316.80" y="121.80" width="3.93" height="3.87" fill="#33289a"/>
<rect x="320.43" y="121.80" width="3.93" height="3.87" fill="#362b9b"/>
<rect x="324.07" y="121.80" width="3.93" height="3.87" fill="#33289a"/>
<rect x="327.70" y="121.80" width="3.47" height="3.87" fill="#3b319e"/>
<rect x="330.87" y="121.80" width="3.47" height="3.87" fill="#3e349f"/>
<rect x="334.03" y="121.80" width="3.47" height="3.87" fill="#362b9b"/>
<rect x="337.20" y="121.80" width="3.87" height="3.87" fill="#5047a8"/>
<rect x="340.77" y="121.80" width="3.87" height="3.87" fill="#4e44a7"/>
<rect x="344.33" y="121.80" width="3.87" height="3.87" fill="#493fa4"/>
<rect x="347.90" y="121.80" width="3.87" height="3.87" fill="#4d44a7"/>
<rect x="351.47" y="121.80" width="3.87" height="3.87" fill="#4940a5"/>
<rect x="355.03" y="121.80" width="3.87" height="3.87" fill="#5249a9"/>
<rect x="358.60" y="121.80" width="3.33" height="3.87" fill="#9e99cf"/>
<rect x="361.63" y="121.80" width="3.33" height="3.87" fill="#9893cc"/>
<rect x="364.67" y="121.80" width="3.33" height="3.87" fill="#a8a4d4"/>
<rect x="367.70" y="121.80" width="4.75" height="3.87" fill="#dfddef"/>
<rect x="372.15" y="121.80" width="4.75" height="3.87" fill="#feedf1"/>
<rect x="376.60" y="121.80" width="3.95" height="3.87" fill="#f95e71"/>
<rect x="380.25" y="121.80" width="3.95" height="3.87" fill="#fa687c"/>
<rect x="383.90" y="121.80" width="3.40" height="3.87" fill="#f7171e"/>
<rect x="387.00" y="121.80" width="3.40" height="3.87" fill="#f71b24"/>
<rect x="390.10" y="121.80" width="3.40" height="3.87" fill="#f7171e"/>
<rect x="393.20" y="121.80" width="3.90" height="3.87" fill="#f7151c"/>
<rect x="396.80" y="121.80" width="3.90" height="3.87" fill="#f71820"/>
<rect x="400.40" y="121.80" width="3.90" height="3.87" fill="#f7171e"/>
<rect x="404.00" y="121.80" width="3.70" height="3.87" fill="#f70a0f"/>
<rect x="407.40" y="121.80" width="3.70" height="3.87" fill="#f70a0f"/>
<rect x="410.80" y="121.80" width="3.70" height="3.87" fill="#f70a0f"/>
<rect x="414.20" y="121.80" width="3.73" height="3.87" fill="#fcb7c7"/>
<rect x="417.63" y="121.80" width="3.73" height="3.87" fill="#fcb7c7"/>
<rect x="421.07" y="121.80" width="3.73" height="3.87" fill="#fca4b6"/>
<rect x="292.00" y="125.37" width="4.22" height="3.87" fill="#33289a"/>
<rect x="295.92" y="125.37" width="4.22" height="3.87" fill="#34299a"/>
<rect x="299.84" y="125.37" width="4.22" height="3.87" fill="#33289a"/>
<rect x="303.76" y="125.37" width="4.22" height="3.87" fill="#33289a"/>
<rect x="307.68" y="125.37" width="4.22" height="3.87" fill="#362c9b"/>
<rect x="311.60" y="125.37" width="5.50" height="3.87" fill="#33289a"/>
<rect x="316.80" y="125.37" width="3.93" height="3.87" fill="#33289a"/>
<rect x="320.43" y="125.37" width="3.93" height="3.87" fill="#34299a"/>
<rect x="324.07" y="125.37" width="3.93" height="3.87" fill="#33289a"/>
<rect x="327.70" y="125.37" width="3.47" height="3.87" fill="#362b9b"/>
<rect x="330.87" y="125.37" width="3.47" height="3.87" fill="#392e9d"/>
<rect x="334.03" y="125.37" width="3.47" height="3.87" fill="#362c9b"/>
<rect x="337.20" y="125.37" width="3.87" height="3.87" fill="#4a41a5"/>
<rect x="340.77" y="125.37" width="3.87" height="3.87" fill="#4b41a5"/>
<rect x="344.33" y="125.37" width="3.87" height="3.87" fill="#4b42a6"/>
<rect x="347.90" y="125.37" width="3.87" height="3.87" fill="#4c42a6"/>
<rect x="351.47" y="125.37" width="3.87" height="3.87" fill="#4a40a5"/>
<rect x="355.03" y="125.37" width="3.87" height="3.87" fill="#4f46a8"/>
<rect x="358.60" y="125.37" width="3.33" height="3.87" fill="#a19cd0"/>
<rect x="361.63" y="125.37" width="3.33" height="3.87" fill="#9994cc"/>
<rect x="364.67" y="125.37" width="3.33" height="3.87" fill="#aeaad7"/>
<rect x="367.70" y="125.37" width="4.75" height="3.87" fill="#e3e2f1"/>
<rect x="372.15" y="125.37" width="4.75" height="3.87" fill="#fddbe3"/>
<rect x="376.60" y="125.37" width="3.95" height="3.87" fill="#f96276"/>
<rect x="380.25" y="125.37" width="3.95" height="3.87" fill="#f95e71"/>
<rect x="383.90" y="125.37" width="3.40" height="3.87" fill="#f7161d"/>
<rect x="387.00" y="125.37" width="3.40" height="3.87" fill="#f7161e"/>
<rect x="390.10" y="125.37" width="3.40" height="3.87" fill="#f71820"/>
<rect x="393.20" y="125.37" width="3.90" height="3.87" fill="#f71b24"/>
<rect x="396.80" y="125.37" width="3.90" height="3.87" fill="#f71c25"/>
<rect x="400.40" y="125.37" width="3.90" height="3.87" fill="#f7161e"/>
<rect x="404.00" y="125.37" width="3.70" height="3.87" fill="#f70a0f"/>
<rect x="407.40" y="125.37" width="3.70" height="3.87" fill="#f70a0f"/>
<rect x="410.80" y="125.37" width="3.70" height="3.87" fill="#f70a0f"/>
<rect x="414.20" y="125.37" width="3.73" height="3.87" fill="#fcaabc"/>
<rect x="417.63" y="125.37" width="3.73" height="3.87" fill="#fca9ba"/>
<rect x="421.07" y="125.37" width="3.73" height="3.87" fill="#fb93a7"/>
<rect x="292.00" y="128.93" width="4.22" height="3.87" fill="#33289a"/>
<rect x="295.92" y="128.93" width="4.22" height="3.87" fill="#372c9c"/>
<rect x="299.84" y="128.93" width="4.22" height="3.87" fill="#352a9b"/>
<rect x="303.76" y="128.93" width="4.22" height="3.87" fill="#33289a"/>
<rect x="307.68" y="128.93" width="4.22" height="3.87" fill="#362c9b"/>
<rect x="311.60" y="128.93" width="5.50" height="3.87" fill="#33289a"/>
<rect x="316.80" y="128.93" width="3.93" height="3.87" fill="#33289a"/>
<rect x="320.43" y="128.93" width="3.93" height="3.87" fill="#33289a"/>
<rect x="324.07" y="128.93" width="3.93" height="3.87" fill="#33289a"/>
<rect x="327.70" y="128.93" width="3.47" height="3.87" fill="#362b9b"/>
<rect x="330.87" y="128.93" width="3.47" height="3.87" fill="#3c329e"/>
<rect x="334.03" y="128.93" width="3.47" height="3.87" fill="#352a9b"/>
<rect x="337.20" y="128.93" width="3.87" height="3.87" fill="#4a40a5"/>
<rect x="340.77" y="128.93" width="3.87" height="3.87" fill="#4f46a8"/>
<rect x="344.33" y="128.93" width="3.87" height="3.87" fill="#443aa2"/>
<rect x="347.90" y="128.93" width="3.87" height="3.87" fill="#453ba3"/>
<rect x="351.47" y="128.93" width="3.87" height="3.87" fill="#4b42a6"/>
<rect x="355.03" y="128.93" width="3.87" height="3.87" fill="#4b42a6"/>
<rect x="358.60" y="128.93" width="3.33" height="3.87" fill="#9792cb"/>
<rect x="361.63" y="128.93" width="3.33" height="3.87" fill="#9690cb"/>
<rect x="364.67" y="128.93" width="3.33" height="3.87" fill="#9994cc"/>
<rect x="367.70" y="128.93" width="4.75" height="3.87" fill="#cdcae6"/>
<rect x="372.15" y="128.93" width="4.75" height="3.87" fill="#eeedf6"/>
<rect x="376.60" y="128.93" width="3.95" height="3.87" fill="#fa6d81"/>
<rect x="380.25" y="128.93" width="3.95" height="3.87" fill="#f96579"/>
<rect x="383.90" y="128.93" width="3.40" height="3.87" fill="#f71820"/>
<rect x="387.00" y="128.93" width="3.40" height="3.87" fill="#f71820"/>
<rect x="390.10" y="128.93" width="3.40" height="3.87" fill="#f71d27"/>
<rect x="393.20" y="128.93" width="3.90" height="3.87" fill="#f7171f"/>
<rect x="396.80" y="128.93" width="3.90" height="3.87" fill="#f7171f"/>
<rect x="400.40" y="128.93" width="3.90" height="3.87" fill="#f71a22"/>
<rect x="404.00" y="128.93" width="3.70" height="3.87" fill="#f70a0f"/>
<rect x="407.40" y="128.93" width="3.70" height="3.87" fill="#f70a0f"/>
<rect x="410.80" y="128.93" width="3.70" height="3.87" fill="#f70a0f"/>
<rect x="414.20" y="128.93" width="3.73" height="3.87" fill="#fcc0ce"/>
<rect x="417.63" y="128.93" width="3.73" height="3.87" fill="#fcc0ce"/>
<rect x="421.07" y="128.93" width="3.73" height="3.87" fill="#fcb0c1"/>
<rect x="292.00" y="132.50" width="4.22" height="4.47" fill="#a29dd1"/>
<rect x="295.92" y="132.50" width="4.22" height="4.47" fill="#a09bd0"/>
<rect x="299.84" y="132.50" width="4.22" height="4.47" fill="#a8a4d4"/>
<rect x="303.76" y="132.50" width="4.22" height="4.47" fill="#a09bd0"/>
<rect x="307.68" y="132.50" width="4.22" height="4.47" fill="#aeaad7"/>
<rect x="311.60" y="132.50" width="5.50" height="4.47" fill="#aaa6d5"/>
<rect x="316.80" y="132.50" width="3.93" height="4.47" fill="#a6a1d2"/>
<rect x="320.43" y="132.50" width="3.93" height="4.47" fill="#ada9d6"/>
<rect x="324.07" y="132.50" width="3.93" height="4.47" fill="#9e99cf"/>
<rect x="327.70" y="132.50" width="3.47" height="4.47" fill="#b4b0da"/>
<rect x="330.87" y="132.50" width="3.47" height="4.47" fill="#aba6d5"/>
<rect x="334.03" y="132.50" width="3.47" height="4.47" fill="#afabd7"/>
<rect x="337.20" y="132.50" width="3.87" height="4.47" fill="#d6d4eb"/>
<rect x="340.77" y="132.50" width="3.87" height="4.47" fill="#e0dfef"/>
<rect x="344.33" y="132.50" width="3.87" height="4.47" fill="#cecce7"/>
<rect x="347.90" y="132.50" width="3.87" height="4.47" fill="#d6d4ea"/>
<rect x="351.47" y="132.50" width="3.87" height="4.47" fill="#d9d6ec"/>
<rect x="355.03" y="132.50" width="3.87" height="4.47" fill="#efeef7"/>
<rect x="358.60" y="132.50" width="3.33" height="4.47" fill="#fbfbfd"/>
<rect x="361.63" y="132.50" width="3.33" height="4.47" fill="#f6f5fa"/>
<rect x="364.67" y="132.50" width="3.33" height="4.47" fill="#fdcdd8"/>
<rect x="367.70" y="132.50" width="4.75" height="4.47" fill="#f4f3f9"/>
<rect x="372.15" y="132.50" width="4.75" height="4.47" fill="#fcbbca"/>
<rect x="376.60" y="132.50" width="3.95" height="4.47" fill="#fcb5c5"/>
<rect x="380.25" y="132.50" width="3.95" height="4.47" fill="#fdc6d3"/>
<rect x="383.90" y="132.50" width="3.40" height="4.47" fill="#fba1b4"/>
<rect x="387.00" y="132.50" width="3.40" height="4.47" fill="#fca4b6"/>
<rect x="390.10" y="132.50" width="3.40" height="4.47" fill="#fb94a8"/>
<rect x="393.20" y="132.50" width="3.90" height="4.47" fill="#fb9fb2"/>
<rect x="396.80" y="132.50" width="3.90" height="4.47" fill="#fb95a9"/>
<rect x="400.40" y="132.50" width="3.90" height="4.47" fill="#fb93a6"/>
<rect x="404.00" y="132.50" width="3.70" height="4.47" fill="#fb9caf"/>
<rect x="407.40" y="132.50" width="3.70" height="4.47" fill="#fb91a5"/>
<rect x="410.80" y="132.50" width="3.70" height="4.47" fill="#fcaabc"/>
<rect x="414.20" y="132.50" width="3.73" height="4.47" fill="#f70a0f"/>
<rect x="417.63" y="132.50" width="3.73" height="4.47" fill="#f70a0f"/>
<rect x="421.07" y="132.50" width="3.73" height="4.47" fill="#f70a0f"/>
<rect x="292.00" y="136.67" width="4.22" height="4.47" fill="#aaa5d5"/>
<rect x="295.92" y="136.67" width="4.22" height="4.47" fill="#a5a0d2"/>
<rect x="299.84" y="136.67" width="4.22" height="4.47" fill="#b1add8"/>
<rect x="303.76" y="136.67" width="4.22" height="4.47" fill="#a09bd0"/>
<rect x="307.68" y="136.67" width="4.22" height="4.47" fill="#ada9d6"/>
<rect x="311.60" y="136.67" width="5.50" height="4.47" fill="#a8a3d3"/>
<rect x="316.80" y="136.67" width="3.93" height="4.47" fill="#9e99cf"/>
<rect x="320.43" y="136.67" width="3.93" height="4.47" fill="#a6a1d3"/>
<rect x="324.07" y="136.67" width="3.93" height="4.47" fill="#a19cd0"/>
<rect x="327.70" y="136.67" width="3.47" height="4.47" fill="#ada9d6"/>
<rect x="330.87" y="136.67" width="3.47" height="4.47" fill="#afabd7"/>
<rect x="334.03" y="136.67" width="3.47" height="4.47" fill="#a6a2d3"/>
<rect x="337.20" y="136.67" width="3.87" height="4.47" fill="#cdcbe6"/>
<rect x="340.77" y="136.67" width="3.87" height="4.47" fill="#dcdaed"/>
<rect x="344.33" y="136.67" width="3.87" height="4.47" fill="#d0cee8"/>
<rect x="347.90" y="136.67" width="3.87" height="4.47" fill="#cbc9e5"/>
<rect x="351.47" y="136.67" width="3.87" height="4.47" fill="#d6d3ea"/>
<rect x="355.03" y="136.67" width="3.87" height="4.47" fill="#dfddef"/>
<rect x="358.60" y="136.67" width="3.33" height="4.47" fill="#f8f8fb"/>
<rect x="361.63" y="136.67" width="3.33" height="4.47" fill="#fdfdfe"/>
<rect x="364.67" y="136.67" width="3.33" height="4.47" fill="#fdc6d3"/>
<rect x="367.70" y="136.67" width="4.75" height="4.47" fill="#f0eff7"/>
<rect x="372.15" y="136.67" width="4.75" height="4.47" fill="#fdc3d0"/>
<rect x="376.60" y="136.67" width="3.95" height="4.47" fill="#fdc7d4"/>
<rect x="380.25" y="136.67" width="3.95" height="4.47" fill="#fdc2d0"/>
<rect x="383.90" y="136.67" width="3.40" height="4.47" fill="#fcacbe"/>
<rect x="387.00" y="136.67" width="3.40" height="4.47" fill="#fb9eb1"/>
<rect x="390.10" y="136.67" width="3.40" height="4.47" fill="#fb8da1"/>
<rect x="393.20" y="136.67" width="3.90" height="4.47" fill="#fba1b4"/>
<rect x="396.80" y="136.67" width="3.90" height="4.47" fill="#fba0b3"/>
<rect x="400.40" y="136.67" width="3.90" height="4.47" fill="#fb92a6"/>
<rect x="404.00" y="136.67" width="3.70" height="4.47" fill="#fb9aad"/>
<rect x="407.40" y="136.67" width="3.70" height="4.47" fill="#fb93a7"/>
<rect x="410.80" y="136.67" width="3.70" height="4.47" fill="#fcb3c4"/>
<rect x="414.20" y="136.67" width="3.73" height="4.47" fill="#f70a0f"/>
<rect x="417.63" y="136.67" width="3.73" height="4.47" fill="#f70a0f"/>
<rect x="421.07" y="136.67" width="3.73" height="4.47" fill="#f70a0f"/>
<rect x="292.00" y="140.83" width="4.22" height="4.47" fill="#aaa5d4"/>
<rect x="295.92" y="140.83" width="4.22" height="4.47" fill="#a5a0d2"/>
<rect x="299.84" y="140.83" width="4.22" height="4.47" fill="#aeaad7"/>
<rect x="303.76" y="140.83" width="4.22" height="4.47" fill="#aca8d6"/>
<rect x="307.68" y="140.83" width="4.22" height="4.47" fill="#b6b2da"/>
<rect x="311.60" y="140.83" width="5.50" height="4.47" fill="#b0abd7"/>
<rect x="316.80" y="140.83" width="3.93" height="4.47" fill="#aba7d5"/>
<rect x="320.43" y="140.83" width="3.93" height="4.47" fill="#b3afd9"/>
<rect x="324.07" y="140.83" width="3.93" height="4.47" fill="#a4a0d2"/>
<rect x="327.70" y="140.83" width="3.47" height="4.47" fill="#b6b2da"/>
<rect x="330.87" y="140.83" width="3.47" height="4.47" fill="#ada9d6"/>
<rect x="334.03" y="140.83" width="3.47" height="4.47" fill="#b6b2db"/>
<rect x="337.20" y="140.83" width="3.87" height="4.47" fill="#dbd9ed"/>
<rect x="340.77" y="140.83" width="3.87" height="4.47" fill="#ecebf5"/>
<rect x="344.33" y="140.83" width="3.87" height="4.47" fill="#d5d2ea"/>
<rect x="347.90" y="140.83" width="3.87" height="4.47" fill="#d2d0e8"/>
<rect x="351.47" y="140.83" width="3.87" height="4.47" fill="#e3e2f1"/>
<rect x="355.03" y="140.83" width="3.87" height="4.47" fill="#f1f0f8"/>
<rect x="358.60" y="140.83" width="3.33" height="4.47" fill="#fdc8d4"/>
<rect x="361.63" y="140.83" width="3.33" height="4.47" fill="#fddfe7"/>
<rect x="364.67" y="140.83" width="3.33" height="4.47" fill="#fcb9c9"/>
<rect x="367.70" y="140.83" width="4.75" height="4.47" fill="#fddee6"/>
<rect x="372.15" y="140.83" width="4.75" height="4.47" fill="#fcb4c5"/>
<rect x="376.60" y="140.83" width="3.95" height="4.47" fill="#fca7b9"/>
<rect x="380.25" y="140.83" width="3.95" height="4.47" fill="#fcb1c2"/>
<rect x="383.90" y="140.83" width="3.40" height="4.47" fill="#fca5b7"/>
<rect x="387.00" y="140.83" width="3.40" height="4.47" fill="#fb98ac"/>
<rect x="390.10" y="140.83" width="3.40" height="4.47" fill="#fb889c"/>
<rect x="393.20" y="140.83" width="3.90" height="4.47" fill="#fb97aa"/>
<rect x="396.80" y="140.83" width="3.90" height="4.47" fill="#fb90a4"/>
<rect x="400.40" y="140.83" width="3.90" height="4.47" fill="#fb899e"/>
<rect x="404.00" y="140.83" width="3.70" height="4.47" fill="#fb94a8"/>
<rect x="407.40" y="140.83" width="3.70" height="4.47" fill="#fb93a7"/>
<rect x="410.80" y="140.83" width="3.70" height="4.47" fill="#fb99ad"/>
<rect x="414.20" y="140.83" width="3.73" height="4.47" fill="#f70a0f"/>
<rect x="417.63" y="140.83" width="3.73" height="4.47" fill="#f70a0f"/>
<rect x="421.07" y="140.83" width="3.73" height="4.47" fill="#f70a0f"/>
</g>
<rect x="292.0" y="147" width="19.6" height="3.4" fill="#c0404a"/>
<rect x="311.6" y="147" width="5.2" height="3.4" fill="#2a3a80"/>
<rect x="316.8" y="147" width="10.9" height="3.4" fill="#e0b030"/>
<rect x="327.7" y="147" width="9.5" height="3.4" fill="#3a78b8"/>
<rect x="337.2" y="147" width="21.4" height="3.4" fill="#80a850"/>
<rect x="358.6" y="147" width="9.1" height="3.4" fill="#f4f0e0"/>
<rect x="367.7" y="147" width="8.9" height="3.4" fill="#8a4a90"/>
<rect x="376.6" y="147" width="7.3" height="3.4" fill="#1a3a70"/>
<rect x="383.9" y="147" width="9.3" height="3.4" fill="#5a9a4a"/>
<rect x="393.2" y="147" width="10.8" height="3.4" fill="#e0d060"/>
<rect x="404.0" y="147" width="10.2" height="3.4" fill="#d87040"/>
<rect x="414.2" y="147" width="10.3" height="3.4" fill="#e8e4d8"/>
<rect x="292.5" y="147" width="132" height="3.4" fill="none" stroke="#999" stroke-width="0.4"/>
<rect x="426.2" y="2.5" width="3.5" height="20.0" fill="#c0404a"/>
<rect x="426.2" y="22.5" width="3.5" height="5.1" fill="#2a3a80"/>
<rect x="426.2" y="27.6" width="3.5" height="11.2" fill="#e0b030"/>
<rect x="426.2" y="38.8" width="3.5" height="11.2" fill="#3a78b8"/>
<rect x="426.2" y="50.0" width="3.5" height="24.0" fill="#80a850"/>
<rect x="426.2" y="74.0" width="3.5" height="9.7" fill="#f4f0e0"/>
<rect x="426.2" y="83.7" width="3.5" height="10.7" fill="#8a4a90"/>
<rect x="426.2" y="94.4" width="3.5" height="5.1" fill="#1a3a70"/>
<rect x="426.2" y="99.5" width="3.5" height="10.5" fill="#5a9a4a"/>
<rect x="426.2" y="110.0" width="3.5" height="11.8" fill="#e0d060"/>
<rect x="426.2" y="121.8" width="3.5" height="10.7" fill="#d87040"/>
<rect x="426.2" y="132.5" width="3.5" height="12.5" fill="#e8e4d8"/>
<rect x="426.2" y="2.5" width="3.5" height="142.5" fill="none" stroke="#999" stroke-width="0.4"/>
<path d="M260.5 66.6V128M260.5 66.6H272.5M260.5 128H276M272.5 41.5V90.3M272.5 41.5H282M272.5 90.3H286M282 20.8V63M282 20.8H286.3M282 63H291.5M286.3 7.8V32.9M286.3 7.8H291.5M286.3 32.9H291.5M286 83.8V94M286 83.8H291.5M286 94H291.5M276 115.2V140M276 115.2H284M276 140H291.5M284 107V123.5M284 107H291.5M284 123.5H291.5" stroke="#2a2a2a" stroke-width="1.2" fill="none"/>
<circle cx="266.3" cy="66.6" r="1.4" fill="#222"/><circle cx="266.3" cy="128" r="1.4" fill="#222"/>
<path d="M290.2 3V145" stroke="#222" stroke-width="1.3" stroke-dasharray="5 1.5" fill="none"/>
<rect x="435.4" y="2" width="56.8" height="91.5" fill="#fff" stroke="#111" stroke-width="1.3"/>
<rect x="438.2" y="4.6" width="8.3" height="3" rx="1.2" fill="#b04050" stroke="#555" stroke-width="0.5"/>
<text x="449.8" y="9.5" font-size="9.6" fill="#111" font-weight="normal" font-style="normal" text-anchor="start" textLength="18" lengthAdjust="spacingAndGlyphs"  stroke="#111" stroke-width="0.5">HSC</text>
<rect x="438.2" y="12.1" width="8.3" height="3" rx="1.2" fill="#283878" stroke="#555" stroke-width="0.5"/>
<text x="449.8" y="17.0" font-size="9.6" fill="#111" font-weight="normal" font-style="normal" text-anchor="start" textLength="17" lengthAdjust="spacingAndGlyphs"  stroke="#111" stroke-width="0.5">MPP</text>
<rect x="438.2" y="19.6" width="8.3" height="3" rx="1.2" fill="#c8a030" stroke="#555" stroke-width="0.5"/>
<text x="449.8" y="24.5" font-size="9.6" fill="#111" font-weight="normal" font-style="normal" text-anchor="start" textLength="17" lengthAdjust="spacingAndGlyphs"  stroke="#111" stroke-width="0.5">MEP</text>
<rect x="438.2" y="27.2" width="8.3" height="3" rx="1.2" fill="#3a6aa8" stroke="#555" stroke-width="0.5"/>
<text x="449.8" y="32.1" font-size="9.6" fill="#111" font-weight="normal" font-style="normal" text-anchor="start" textLength="17" lengthAdjust="spacingAndGlyphs"  stroke="#111" stroke-width="0.5">CMP</text>
<rect x="438.2" y="34.7" width="8.3" height="3" rx="1.2" fill="#6a8a4a" stroke="#555" stroke-width="0.5"/>
<text x="449.8" y="39.6" font-size="9.6" fill="#111" font-weight="normal" font-style="normal" text-anchor="start" textLength="17" lengthAdjust="spacingAndGlyphs"  stroke="#111" stroke-width="0.5">GMP</text>
<rect x="438.2" y="42.2" width="8.3" height="3" rx="1.2" fill="#eae8d8" stroke="#555" stroke-width="0.5"/>
<text x="449.8" y="47.1" font-size="9.6" fill="#111" font-weight="normal" font-style="normal" text-anchor="start" textLength="40.5" lengthAdjust="spacingAndGlyphs"  stroke="#111" stroke-width="0.5">early  PM</text>
<rect x="438.2" y="49.7" width="8.3" height="3" rx="1.2" fill="#8a4a8a" stroke="#555" stroke-width="0.5"/>
<text x="449.8" y="54.6" font-size="9.6" fill="#111" font-weight="normal" font-style="normal" text-anchor="start" textLength="34.5" lengthAdjust="spacingAndGlyphs"  stroke="#111" stroke-width="0.5">late  PM</text>
<rect x="438.2" y="57.2" width="8.3" height="3" rx="1.2" fill="#1e3a6a" stroke="#555" stroke-width="0.5"/>
<text x="449.8" y="62.1" font-size="9.6" fill="#111" font-weight="normal" font-style="normal" text-anchor="start" textLength="12" lengthAdjust="spacingAndGlyphs"  stroke="#111" stroke-width="0.5">MY</text>
<rect x="438.2" y="64.8" width="8.3" height="3" rx="1.2" fill="#4a7a40" stroke="#555" stroke-width="0.5"/>
<text x="449.8" y="69.7" font-size="9.6" fill="#111" font-weight="normal" font-style="normal" text-anchor="start" textLength="13" lengthAdjust="spacingAndGlyphs"  stroke="#111" stroke-width="0.5">MM</text>
<rect x="438.2" y="72.3" width="8.3" height="3" rx="1.2" fill="#c0b060" stroke="#555" stroke-width="0.5"/>
<text x="449.8" y="77.2" font-size="9.6" fill="#111" font-weight="normal" font-style="normal" text-anchor="start" textLength="11" lengthAdjust="spacingAndGlyphs"  stroke="#111" stroke-width="0.5">BC</text>
<rect x="438.2" y="79.8" width="8.3" height="3" rx="1.2" fill="#c86838" stroke="#555" stroke-width="0.5"/>
<text x="449.8" y="84.7" font-size="9.6" fill="#111" font-weight="normal" font-style="normal" text-anchor="start" textLength="17" lengthAdjust="spacingAndGlyphs"  stroke="#111" stroke-width="0.5">PMN</text>
<rect x="438.2" y="87.3" width="8.3" height="3" rx="1.2" fill="#d8d8d0" stroke="#555" stroke-width="0.5"/>
<text x="449.8" y="92.2" font-size="9.6" fill="#111" font-weight="normal" font-style="normal" text-anchor="start" textLength="19" lengthAdjust="spacingAndGlyphs"  stroke="#111" stroke-width="0.5">Mono</text>
<rect x="455" y="98.6" width="3.4" height="52" fill="url(#cbar)"/>
<text x="444" y="105.6" font-size="6.6" fill="#222" font-weight="bold" font-style="normal" text-anchor="start" textLength="9.5" lengthAdjust="spacingAndGlyphs" >0.9</text>
<text x="444" y="138.5" font-size="6.6" fill="#222" font-weight="bold" font-style="normal" text-anchor="start" textLength="9.5" lengthAdjust="spacingAndGlyphs" >0.0</text>
<text x="440.5" y="149.5" font-size="6.6" fill="#222" font-weight="bold" font-style="normal" text-anchor="start" textLength="13" lengthAdjust="spacingAndGlyphs" >−0.3</text>
<text transform="translate(471,149.5) rotate(-90)" font-size="10" fill="#111" textLength="50" lengthAdjust="spacingAndGlyphs">Spearman</text>
<text transform="translate(482.5,151) rotate(-90)" font-size="10" fill="#111" textLength="54" lengthAdjust="spacingAndGlyphs">correlation</text>
<defs>
<linearGradient id="cg" x1="0" y1="0" x2="0.2" y2="1"><stop offset="0" stop-color="#f8f8e6"/><stop offset="0.5" stop-color="#eeeff0"/><stop offset="1" stop-color="#e0e3f2"/></linearGradient>
<linearGradient id="cg3" x1="0" y1="0" x2="0.2" y2="1"><stop offset="0" stop-color="#f5f5da"/><stop offset="0.5" stop-color="#ebebe8"/><stop offset="1" stop-color="#d8dbef"/></linearGradient>
<linearGradient id="cg4" x1="0" y1="0" x2="0.2" y2="1"><stop offset="0" stop-color="#f6f5e8"/><stop offset="1" stop-color="#e6e8f2"/></linearGradient>
<linearGradient id="amlg" x1="0" y1="0" x2="0" y2="1"><stop offset="0" stop-color="#a07838"/><stop offset="1" stop-color="#6a4a20"/></linearGradient>
<marker id="ah" viewBox="0 0 10 10" refX="9" refY="5" markerWidth="4.5" markerHeight="4.5" orient="auto"><path d="M0 0 L10 5 L0 10 L3 5 Z" fill="#111"/></marker>
<filter id="mblur" x="-5%" y="-5%" width="110%" height="110%"><feGaussianBlur stdDeviation="0.55"/></filter>
</defs>
<text x="0.2" y="173.4" font-size="12.8" font-weight="bold" fill="#000" stroke="#000" stroke-width="0.5" textLength="8.4" lengthAdjust="spacingAndGlyphs">C</text>
<rect x="0" y="177" width="18.6" height="100.2" fill="#d9d7c5"/>
<text transform="translate(11.8,224.7) rotate(-90)" font-size="6.8" fill="#333" text-anchor="middle" textLength="82.3" lengthAdjust="spacingAndGlyphs">Find local myeloid neighborhood</text>
<rect x="19.2" y="177.6" width="129.8" height="99.6" fill="url(#cg)" stroke="#777" stroke-width="1.2"/>
<rect x="20.2" y="178.4" width="38.0" height="19.19999999999999" fill="#f6f6ea" stroke="#d02838" stroke-width="1.4"/>
<text x="39.2" y="186.6" font-size="8.6" fill="#333" font-weight="normal" font-style="normal" text-anchor="middle" textLength="18" lengthAdjust="spacingAndGlyphs">3.9%</text>
<text x="39.2" y="195.1" font-size="8.6" fill="#333" font-weight="normal" font-style="normal" text-anchor="middle" textLength="25" lengthAdjust="spacingAndGlyphs">(2119)</text>
<rect x="87.8" y="188.2" width="55.6" height="79.8" rx="4" fill="none" stroke="#5a8ac8" stroke-width="1.6"/>
<circle cx="66.8" cy="196.8" r="2.6" fill="#8894b0" fill-opacity="0.8" stroke="#5a6a8a" stroke-width="0.8"/>
<circle cx="77" cy="200.5" r="2.6" fill="#8894b0" fill-opacity="0.8" stroke="#5a6a8a" stroke-width="0.8"/>
<circle cx="42" cy="216.2" r="2.6" fill="#a8d488" fill-opacity="0.75" stroke="#5a8a40" stroke-width="0.8"/>
<circle cx="45.3" cy="214.9" r="2.6" fill="#a8d488" fill-opacity="0.75" stroke="#5a8a40" stroke-width="0.8"/>
<circle cx="49.3" cy="213" r="2.6" fill="#a8d488" fill-opacity="0.75" stroke="#5a8a40" stroke-width="0.8"/>
<circle cx="29" cy="240.1" r="2.6" fill="#f4ec70" fill-opacity="0.75" stroke="#b8a830" stroke-width="0.8"/>
<circle cx="31.3" cy="238.8" r="2.6" fill="#f4ec70" fill-opacity="0.75" stroke="#b8a830" stroke-width="0.8"/>
<circle cx="30" cy="243.2" r="2.6" fill="#f4ec70" fill-opacity="0.75" stroke="#b8a830" stroke-width="0.8"/>
<circle cx="33.7" cy="242" r="2.6" fill="#f4ec70" fill-opacity="0.75" stroke="#b8a830" stroke-width="0.8"/>
<circle cx="36.4" cy="246.6" r="2.6" fill="#f0b090" fill-opacity="0.75" stroke="#c87050" stroke-width="0.8"/>
<circle cx="30" cy="253" r="2.6" fill="#f0b090" fill-opacity="0.75" stroke="#c87050" stroke-width="0.8"/>
<circle cx="32.7" cy="255.8" r="2.6" fill="#f0b090" fill-opacity="0.75" stroke="#c87050" stroke-width="0.8"/>
<circle cx="31.8" cy="254" r="2.6" fill="#f0b090" fill-opacity="0.75" stroke="#c87050" stroke-width="0.8"/>
<circle cx="65" cy="270.1" r="2.5" fill="#e8e4d8" fill-opacity="0.85" stroke="#6a6258" stroke-width="0.8"/>
<circle cx="93.8" cy="200.3" r="2.2" fill="#d0a8c4" fill-opacity="0.85" stroke="#a07898" stroke-width="0.8"/>
<circle cx="98" cy="204.2" r="2.2" fill="#d0a8c4" fill-opacity="0.85" stroke="#a07898" stroke-width="0.8"/>
<circle cx="93.4" cy="208.1" r="2.2" fill="#d0a8c4" fill-opacity="0.85" stroke="#a07898" stroke-width="0.8"/>
<circle cx="106.5" cy="218" r="2.0" fill="#f4eee4" fill-opacity="0.85" stroke="#9a8a78" stroke-width="0.8"/>
<circle cx="107.6" cy="219.6" r="2.0" fill="#f4eee4" fill-opacity="0.85" stroke="#9a8a78" stroke-width="0.8"/>
<circle cx="116.5" cy="230" r="2.3" fill="#98cc70" fill-opacity="0.7" stroke="#5a9a40" stroke-width="0.7"/>
<circle cx="119" cy="232.5" r="2.3" fill="#98cc70" fill-opacity="0.7" stroke="#5a9a40" stroke-width="0.7"/>
<circle cx="114.8" cy="234" r="2.3" fill="#98cc70" fill-opacity="0.7" stroke="#5a9a40" stroke-width="0.7"/>
<circle cx="118.5" cy="235.5" r="2.3" fill="#98cc70" fill-opacity="0.7" stroke="#5a9a40" stroke-width="0.7"/>
<circle cx="121" cy="236.8" r="2.3" fill="#98cc70" fill-opacity="0.7" stroke="#5a9a40" stroke-width="0.7"/>
<circle cx="124.6" cy="237.3" r="2.2" fill="#7aaad0" fill-opacity="0.85" stroke="#4a7aa8" stroke-width="0.8"/>
<circle cx="126.5" cy="239.5" r="2.2" fill="#7aaad0" fill-opacity="0.85" stroke="#4a7aa8" stroke-width="0.8"/>
<circle cx="129.8" cy="240.2" r="2.0" fill="#f0d040" fill-opacity="0.85" stroke="#b09020" stroke-width="0.8"/>
<circle cx="125.2" cy="246.5" r="2.2" fill="#5a78c0" fill-opacity="0.85" stroke="#34509a" stroke-width="0.8"/>
<circle cx="124" cy="248.3" r="2.2" fill="#5a78c0" fill-opacity="0.85" stroke="#34509a" stroke-width="0.8"/>
<circle cx="121.1" cy="252.9" r="2.3" fill="#ec7080" fill-opacity="0.65" stroke="#c04858" stroke-width="0.7"/>
<circle cx="124.6" cy="251.7" r="2.3" fill="#ec7080" fill-opacity="0.65" stroke="#c04858" stroke-width="0.7"/>
<circle cx="129.2" cy="252.9" r="2.3" fill="#ec7080" fill-opacity="0.65" stroke="#c04858" stroke-width="0.7"/>
<circle cx="124.6" cy="256.3" r="2.3" fill="#ec7080" fill-opacity="0.65" stroke="#c04858" stroke-width="0.7"/>
<circle cx="128.4" cy="256.5" r="2.3" fill="#ec7080" fill-opacity="0.65" stroke="#c04858" stroke-width="0.7"/>
<circle cx="125.8" cy="259.6" r="2.3" fill="#ec7080" fill-opacity="0.65" stroke="#c04858" stroke-width="0.7"/>
<path d="M116.8 238.4 L120.3 241.9 L116.8 245.4 L113.3 241.9 Z" fill="#6a4a20" stroke="#3a2a10" stroke-width="0.5"/>
<text x="70.2" y="198.5" font-size="7.2" fill="#222a50" font-weight="bold" font-style="normal" text-anchor="start" textLength="10" lengthAdjust="spacingAndGlyphs">MY</text>
<text x="46.3" y="221.2" font-size="7.2" fill="#24381e" font-weight="bold" font-style="normal" text-anchor="start" textLength="11.4" lengthAdjust="spacingAndGlyphs">MM</text>
<text x="36.4" y="243.1" font-size="7.2" fill="#4e4e22" font-weight="bold" font-style="normal" text-anchor="start" textLength="9.2" lengthAdjust="spacingAndGlyphs">BC</text>
<text x="34.6" y="254.5" font-size="7.2" fill="#5a2a18" font-weight="bold" font-style="normal" text-anchor="start" textLength="14.7" lengthAdjust="spacingAndGlyphs">PMN</text>
<text x="61.8" y="268.0" font-size="7.2" fill="#3a3a3a" font-weight="bold" font-style="normal" text-anchor="start" textLength="17.9" lengthAdjust="spacingAndGlyphs">Mono</text>
<text x="91.5" y="198.8" font-size="7" fill="#6a4a60" font-weight="bold" font-style="normal" text-anchor="start" textLength="26.5" lengthAdjust="spacingAndGlyphs">late  PM</text>
<text x="101.2" y="213.8" font-size="7" fill="#9a9a94" font-weight="bold" font-style="normal" text-anchor="start" textLength="30.6" lengthAdjust="spacingAndGlyphs">early  PM</text>
<text x="101" y="238.6" font-size="7" fill="#6a8a4a" font-weight="bold" font-style="normal" text-anchor="start" textLength="10.5" lengthAdjust="spacingAndGlyphs">GM</text>
<text x="121.7" y="233.8" font-size="7" fill="#2f5f92" font-weight="bold" font-style="normal" text-anchor="start" textLength="14.4" lengthAdjust="spacingAndGlyphs">CMP</text>
<text x="129.2" y="242.0" font-size="7" fill="#7a6a2a" font-weight="bold" font-style="normal" text-anchor="start" textLength="13.8" lengthAdjust="spacingAndGlyphs">MEF</text>
<text x="126.9" y="249.8" font-size="7" fill="#26325e" font-weight="bold" font-style="normal" text-anchor="start" textLength="13.8" lengthAdjust="spacingAndGlyphs">MPP</text>
<text x="125.8" y="264.8" font-size="7" fill="#7e1e30" font-weight="bold" font-style="normal" text-anchor="start" textLength="13.8" lengthAdjust="spacingAndGlyphs">HSC</text>
<text x="95.2" y="251.7" font-size="9.6" fill="#2e2618" font-weight="bold" font-style="italic" text-anchor="start" textLength="21.3" lengthAdjust="spacingAndGlyphs">AML</text>
<rect x="19.2" y="277" width="130.60000000000002" height="18.69999999999999" fill="#819eab"/>
<text x="84.1" y="284.1" font-size="7.6" font-weight="bold" fill="#fff" text-anchor="middle" textLength="80" lengthAdjust="spacingAndGlyphs">PCA of whole hierarchy</text>
<text x="84.5" y="293.6" font-size="7.6" font-weight="bold" fill="#fff" text-anchor="middle" textLength="118.6" lengthAdjust="spacingAndGlyphs">using high-variance filter on genes</text>
<rect x="157.9" y="177" width="24.3" height="100.2" fill="#d9d7c5"/>
<text transform="translate(168.5,227.7) rotate(-90)" font-size="7" fill="#333" text-anchor="middle" textLength="37.5" lengthAdjust="spacingAndGlyphs">locate close</text>
<text transform="translate(175.5,227.7) rotate(-90)" font-size="7" fill="#333" text-anchor="middle" textLength="31.5" lengthAdjust="spacingAndGlyphs">neighbors</text>
<rect x="182.6" y="177.6" width="127.2" height="99.6" fill="url(#cg)" stroke="#777" stroke-width="1.2"/>
<rect x="183.4" y="178.4" width="38.599999999999994" height="19.19999999999999" fill="#f6f6ea" stroke="#d02838" stroke-width="1.4"/>
<text x="202.7" y="186.6" font-size="8.6" fill="#333" font-weight="normal" font-style="normal" text-anchor="middle" textLength="16" lengthAdjust="spacingAndGlyphs">50%</text>
<text x="202.7" y="195.1" font-size="8.6" fill="#333" font-weight="normal" font-style="normal" text-anchor="middle" textLength="31" lengthAdjust="spacingAndGlyphs">(27337)</text>
<circle cx="271.6" cy="187.6" r="3.3" fill="#f2d878" fill-opacity="0.8" stroke="#c0a030" stroke-width="0.8"/>
<circle cx="265.4" cy="193.8" r="3.3" fill="#f2d878" fill-opacity="0.8" stroke="#c0a030" stroke-width="0.8"/>
<circle cx="271.6" cy="193.1" r="3.3" fill="#f2d878" fill-opacity="0.8" stroke="#c0a030" stroke-width="0.8"/>
<circle cx="270.9" cy="198.6" r="3.3" fill="#f2d878" fill-opacity="0.8" stroke="#c0a030" stroke-width="0.8"/>
<circle cx="273.6" cy="191" r="3.3" fill="#f2d878" fill-opacity="0.8" stroke="#c0a030" stroke-width="0.8"/>
<circle cx="268" cy="197" r="3.3" fill="#f2d878" fill-opacity="0.8" stroke="#c0a030" stroke-width="0.8"/>
<circle cx="262.6" cy="209.7" r="3.4" fill="#a8cce8" fill-opacity="0.8" stroke="#7aa4cc" stroke-width="0.8"/>
<circle cx="266" cy="227" r="3.4" fill="#90bce0" fill-opacity="0.8" stroke="#5a8ac0" stroke-width="0.8"/>
<circle cx="268.8" cy="227" r="3.4" fill="#90bce0" fill-opacity="0.8" stroke="#5a8ac0" stroke-width="0.8"/>
<circle cx="282.6" cy="234.6" r="3.4" fill="#8a88cc" fill-opacity="0.8" stroke="#5a58a8" stroke-width="0.8"/>
<circle cx="286.8" cy="233.2" r="3.4" fill="#8a88cc" fill-opacity="0.8" stroke="#5a58a8" stroke-width="0.8"/>
<circle cx="203.2" cy="251.9" r="3.3" fill="#c890d8" fill-opacity="0.8" stroke="#9a60a8" stroke-width="0.8"/>
<circle cx="206.6" cy="251" r="3.3" fill="#c890d8" fill-opacity="0.8" stroke="#9a60a8" stroke-width="0.8"/>
<circle cx="217.9" cy="244.1" r="3.3" fill="#ecc8dc" fill-opacity="0.8" stroke="#b08898" stroke-width="0.8"/>
<circle cx="217" cy="250.2" r="3.3" fill="#f4ece0" fill-opacity="0.8" stroke="#b0a090" stroke-width="0.8"/>
<circle cx="292.2" cy="264.8" r="3.3" fill="#f06070" fill-opacity="0.8" stroke="#c03848" stroke-width="0.8"/>
<circle cx="295" cy="268" r="3.3" fill="#f06070" fill-opacity="0.8" stroke="#c03848" stroke-width="0.8"/>
<circle cx="297.5" cy="271" r="3.3" fill="#f06070" fill-opacity="0.8" stroke="#c03848" stroke-width="0.8"/>
<circle cx="296.2" cy="273.5" r="3.3" fill="#f06070" fill-opacity="0.8" stroke="#c03848" stroke-width="0.8"/>
<circle cx="300" cy="274.6" r="3.3" fill="#f06070" fill-opacity="0.8" stroke="#c03848" stroke-width="0.8"/>
<circle cx="301.8" cy="268.8" r="3.3" fill="#f06070" fill-opacity="0.8" stroke="#c03848" stroke-width="0.8"/>
<circle cx="299" cy="266" r="3.3" fill="#f06070" fill-opacity="0.8" stroke="#c03848" stroke-width="0.8"/>
<text x="274.3" y="198.7" font-size="9" fill="#6a5a22" font-weight="normal" font-style="normal" text-anchor="start" textLength="18.3" lengthAdjust="spacingAndGlyphs" stroke="#6a5a22" stroke-width="0.35">MEP</text>
<text x="261.9" y="222.8" font-size="9.2" fill="#2c3c52" font-weight="normal" font-style="normal" text-anchor="start" textLength="19.3" lengthAdjust="spacingAndGlyphs" stroke="#2c3c52" stroke-width="0.35">CMP</text>
<text x="288.8" y="229.4" font-size="9.2" fill="#2a2a52" font-weight="normal" font-style="normal" text-anchor="start" textLength="17.3" lengthAdjust="spacingAndGlyphs" stroke="#2a2a52" stroke-width="0.35">MPP</text>
<text x="188.8" y="235.5" font-size="9.6" fill="#5a3a55" font-weight="normal" font-style="normal" text-anchor="start" textLength="34.6" lengthAdjust="spacingAndGlyphs" stroke="#5a3a55" stroke-width="0.35">late  PM</text>
<text x="194.5" y="267.5" font-size="9.6" fill="#7a7a70" font-weight="normal" font-style="normal" text-anchor="start" textLength="39.3" lengthAdjust="spacingAndGlyphs" stroke="#7a7a70" stroke-width="0.35">early  PM</text>
<text x="291" y="261.8" font-size="9.4" fill="#8a2838" font-weight="normal" font-style="normal" text-anchor="start" textLength="18.5" lengthAdjust="spacingAndGlyphs" stroke="#8a2838" stroke-width="0.35">HSC</text>
<rect x="232.8" y="240.5" width="55.8" height="27" rx="9" fill="none" stroke="#6a90c8" stroke-width="1.6"/>
<circle cx="240.1" cy="256.2" r="3.3" fill="#a8d880" fill-opacity="0.8" stroke="#60a040" stroke-width="0.8"/>
<circle cx="244.2" cy="253" r="3.3" fill="#a8d880" fill-opacity="0.8" stroke="#60a040" stroke-width="0.8"/>
<circle cx="246.6" cy="257.8" r="3.3" fill="#a8d880" fill-opacity="0.8" stroke="#60a040" stroke-width="0.8"/>
<circle cx="245" cy="261.8" r="3.3" fill="#a8d880" fill-opacity="0.8" stroke="#60a040" stroke-width="0.8"/>
<circle cx="249.8" cy="260.2" r="3.3" fill="#a8d880" fill-opacity="0.8" stroke="#60a040" stroke-width="0.8"/>
<circle cx="253" cy="258.6" r="3.3" fill="#a8d880" fill-opacity="0.8" stroke="#60a040" stroke-width="0.8"/>
<path d="M261.1 251.3 L244.2 253" stroke="#111" stroke-width="1" marker-end="url(#ah)"/>
<path d="M261.1 251.3 L249.8 259" stroke="#111" stroke-width="1" marker-end="url(#ah)"/>
<path d="M261.1 245.5 Q262.5 250 266.8 251.3 Q262.5 252.6 261.1 257 Q259.7 252.6 256.3 251.3 Q259.7 250 261.1 245.5 Z" fill="#7a5a30" stroke="#2a2010" stroke-width="0.7"/>
<text x="235.3" y="249.8" font-size="8" fill="#3e4a30" font-weight="bold" font-style="normal" text-anchor="start" textLength="19.4" lengthAdjust="spacingAndGlyphs">GMP</text>
<text x="261.1" y="261.7" font-size="11" fill="#3a3020" font-weight="bold" font-style="italic" text-anchor="start" textLength="24.3" lengthAdjust="spacingAndGlyphs">AML</text>
<rect x="182.7" y="277" width="128.0" height="18" fill="#819eab"/>
<text x="243.6" y="283.9" font-size="7.6" font-weight="bold" fill="#fff" text-anchor="middle" textLength="104.6" lengthAdjust="spacingAndGlyphs">PCA with 5 closest neighbors</text>
<text x="246" y="293.5" font-size="7.6" font-weight="bold" fill="#fff" text-anchor="middle" textLength="118.6" lengthAdjust="spacingAndGlyphs">using low-variance filter on genes</text>
<rect x="325.2" y="177" width="24.6" height="100.2" fill="#d9d7c5"/>
<text transform="translate(334.5,227.0) rotate(-90)" font-size="7" fill="#333" text-anchor="middle" textLength="32.6" lengthAdjust="spacingAndGlyphs">locate true</text>
<text transform="translate(344.2,227.0) rotate(-90)" font-size="7" fill="#333" text-anchor="middle" textLength="56.7" lengthAdjust="spacingAndGlyphs">closest neighbors</text>
<rect x="350.6" y="177.8" width="130" height="99.4" fill="url(#cg3)" stroke="#333" stroke-width="1.4"/>
<circle cx="362.5" cy="223.2" r="7.6" fill="#a8d884" stroke="#2e5a22" stroke-width="1.1"/>
<circle cx="361.6" cy="229" r="7.6" fill="#a8d884" stroke="#2e5a22" stroke-width="1.1"/>
<circle cx="387.7" cy="239.4" r="8.1" fill="#a8d884" stroke="#2e5a22" stroke-width="1.1"/>
<circle cx="395" cy="244.8" r="8.4" fill="#a8d884" stroke="#2e5a22" stroke-width="1.1"/>
<circle cx="370.4" cy="248.6" r="8.4" fill="#a8d884" stroke="#2e5a22" stroke-width="1.1"/>
<marker id="ah2" viewBox="0 0 10 10" refX="9" refY="5" markerWidth="9" markerHeight="8.5" markerUnits="userSpaceOnUse" orient="auto"><path d="M0 0 L10 5 L0 10 L2.5 5 Z" fill="#111"/></marker>
<path d="M408 219.5 L362.5 224.5" stroke="#111" stroke-width="1.8" marker-end="url(#ah2)"/>
<path d="M408 221 L365.5 228.5" stroke="#111" stroke-width="1.8" marker-end="url(#ah2)"/>
<path d="M409 222 L373 249" stroke="#111" stroke-width="1.8" marker-end="url(#ah2)"/>
<path d="M410 223 L391.5 234.8" stroke="#111" stroke-width="1.8" marker-end="url(#ah2)"/>
<path d="M410.5 224 L398.2 241" stroke="#111" stroke-width="1.8" marker-end="url(#ah2)"/>
<path d="M411.9 204.6 Q417.2 213.8 426.5 218.5 Q417.5 223.7 412.7 233 Q407.8 224.0 398.8 219.2 Q407.5 214.0 411.9 204.6 Z" fill="#7e5c30" stroke="#1a140a" stroke-width="1.2"/>
<text x="378.6" y="205.8" font-size="11.5" fill="#2e3a24" font-weight="bold" font-style="normal" text-anchor="start" textLength="26" lengthAdjust="spacingAndGlyphs">GMP</text>
<text x="430.3" y="226.6" font-size="20" font-weight="bold" font-style="italic" fill="#86663a" stroke="#1e180c" stroke-width="1.3" textLength="45.5" lengthAdjust="spacingAndGlyphs">AML</text>
<rect x="350.4" y="277" width="129.40000000000003" height="18.399999999999977" fill="#819eab"/>
<text x="411.7" y="283.9" font-size="7.6" font-weight="bold" fill="#fff" text-anchor="middle" textLength="103.8" lengthAdjust="spacingAndGlyphs">PCA with 5 closest neighbors</text>
<text x="415.1" y="293.5" font-size="7.6" font-weight="bold" fill="#fff" text-anchor="middle" textLength="118.6" lengthAdjust="spacingAndGlyphs">using low-variance filter on genes</text>
<text x="500.5" y="184.8" font-size="8.2" fill="#333" font-weight="normal" font-style="normal" text-anchor="middle" textLength="27" lengthAdjust="spacingAndGlyphs">Legend</text>
<rect x="482.6" y="188.2" width="36.6" height="18.6" fill="#fff" stroke="#d02838" stroke-width="1.4"/>
<text x="500.9" y="195.8" font-size="8.2" fill="#333" font-weight="normal" font-style="normal" text-anchor="middle" textLength="27.5" lengthAdjust="spacingAndGlyphs">%probe</text>
<text x="500.9" y="204.3" font-size="8.2" fill="#333" font-weight="normal" font-style="normal" text-anchor="middle" textLength="34.5" lengthAdjust="spacingAndGlyphs">sets used</text>
<path d="M154.2 286.4H170.5" stroke="#000" stroke-width="3.6" stroke-linecap="round"/>
<path d="M177 286.4 L169.5 280.09999999999997 L169.5 292.7 Z" fill="#000"/>
<path d="M318.2 286.6H334.5" stroke="#000" stroke-width="3.6" stroke-linecap="round"/>
<path d="M341 286.6 L333.5 280.3 L333.5 292.90000000000003 Z" fill="#000"/>
<path d="M486.5 286.6 H495.7 V425.8 H489" stroke="#000" stroke-width="3.3" fill="none" stroke-linecap="round" stroke-linejoin="miter"/>
<path d="M484.2 425.8 L490.5 420 L490.5 431.6 Z" fill="#000"/>
<rect x="0" y="313.8" width="119.8" height="100.4" fill="#d9d7c5"/>
<text x="60.5" y="329.5" font-size="11.6" font-weight="bold" fill="#111" stroke="#111" stroke-width="0.75" text-anchor="middle" textLength="76" lengthAdjust="spacingAndGlyphs">DATA ANALYSIS</text>
<text x="59.2" y="343.9" font-size="11.6" font-weight="bold" fill="#111" stroke="#111" stroke-width="0.75" text-anchor="middle" textLength="50" lengthAdjust="spacingAndGlyphs">diagnosis,</text>
<text x="60.5" y="359.4" font-size="11.6" font-weight="bold" fill="#111" stroke="#111" stroke-width="0.75" text-anchor="middle" textLength="66.4" lengthAdjust="spacingAndGlyphs">prediction of</text>
<text x="60" y="375" font-size="11.6" font-weight="bold" fill="#111" stroke="#111" stroke-width="0.75" text-anchor="middle" textLength="88.4" lengthAdjust="spacingAndGlyphs">clinical outcome,</text>
<text x="60" y="389.8" font-size="11.6" font-weight="bold" fill="#111" stroke="#111" stroke-width="0.75" text-anchor="middle" textLength="63.3" lengthAdjust="spacingAndGlyphs">discovery of</text>
<text x="57.6" y="404.6" font-size="11.6" font-weight="bold" fill="#111" stroke="#111" stroke-width="0.75" text-anchor="middle" textLength="77.2" lengthAdjust="spacingAndGlyphs">novel subclass</text>
<path d="M141.6 424 H59.3 V417" stroke="#000" stroke-width="3.8" fill="none" stroke-linejoin="miter"/>
<path d="M59.3 412.8 L52.3 418.2 L66.3 418.2 Z" fill="#000"/>
<rect x="127.6" y="313.8" width="16" height="100.4" fill="#d9d7c5"/>
<text transform="translate(138.0,363.4) rotate(-90)" font-size="7" fill="#333" text-anchor="middle" textLength="56" lengthAdjust="spacingAndGlyphs">cancer vs. normal</text>
<rect x="144" y="314.2" width="199.4" height="100.2" fill="url(#cg4)" stroke="#777" stroke-width="1.2"/>
<rect x="146.4" y="315.9" width="37.400000000000006" height="19.0" fill="#f6f6ea" stroke="#d02838" stroke-width="1.4"/>
<text x="165.10000000000002" y="324.09999999999997" font-size="8.6" fill="#333" font-weight="normal" font-style="normal" text-anchor="middle" textLength="21" lengthAdjust="spacingAndGlyphs">100%</text>
<text x="165.10000000000002" y="332.4" font-size="8.6" fill="#333" font-weight="normal" font-style="normal" text-anchor="middle" textLength="31" lengthAdjust="spacingAndGlyphs">(54874)</text>
<rect x="155" y="359.4" width="43" height="8" fill="url(#dnup)" stroke="#111" stroke-width="1.8"/>
<text x="155" y="378.4" font-size="11.5" fill="#111" font-weight="bold" font-style="normal" text-anchor="start" textLength="15" lengthAdjust="spacingAndGlyphs" stroke="#111" stroke-width="0.4">dn</text>
<text x="183" y="378.4" font-size="11.5" fill="#111" font-weight="bold" font-style="normal" text-anchor="start" textLength="15" lengthAdjust="spacingAndGlyphs" stroke="#111" stroke-width="0.4">up</text>
<path d="M241.5 321.4 H294.4 V357.4 H241.5 L230.5 348.4 V330.4 Z" fill="#f9f9f6" stroke="#222" stroke-width="1.4"/>
<path d="M240.5 370.5 H294.4 V406.5 H240.5 L230.5 397.5 V379.5 Z" fill="#f9f9f6" stroke="#222" stroke-width="1.4"/>
<path d="M230.5 340.5 L207.1 353.6" stroke="#111" stroke-width="1.9"/>
<path d="M200.6 357.3 L207.4 348.0 L207.1 353.6 L212.1 356.3 Z" fill="#111"/>
<path d="M230.5 389.5 L207.8 375.0" stroke="#111" stroke-width="1.9"/>
<path d="M201.5 371 L212.9 372.6 L207.8 375.0 L207.8 380.7 Z" fill="#111"/>
<rect x="253.5" y="325" width="29.2" height="28.6" fill="#101010" stroke="#2a2a2a" stroke-width="0.8"/>
<g filter="url(#mblur)"><rect x="255.5" y="327.0" width="2.0" height="2.0" fill="#df2940"/><rect x="259.5" y="327.0" width="2.0" height="2.0" fill="#b82034"/><rect x="261.5" y="327.0" width="2.0" height="2.0" fill="#c92439"/><rect x="265.5" y="327.0" width="2.0" height="2.0" fill="#144828"/><rect x="269.5" y="327.0" width="2.0" height="2.0" fill="#278242"/><rect x="271.5" y="327.0" width="2.0" height="2.0" fill="#1f6937"/><rect x="275.5" y="327.0" width="2.0" height="2.0" fill="#2b9149"/><rect x="255.5" y="329.0" width="2.0" height="2.0" fill="#841423"/><rect x="257.5" y="329.0" width="2.0" height="2.0" fill="#e92b43"/><rect x="259.5" y="329.0" width="2.0" height="2.0" fill="#99192a"/><rect x="261.5" y="329.0" width="2.0" height="2.0" fill="#851424"/><rect x="263.5" y="329.0" width="2.0" height="2.0" fill="#b21e32"/><rect x="265.5" y="329.0" width="2.0" height="2.0" fill="#195830"/><rect x="267.5" y="329.0" width="2.0" height="2.0" fill="#19572f"/><rect x="269.5" y="329.0" width="2.0" height="2.0" fill="#1b5d32"/><rect x="271.5" y="329.0" width="2.0" height="2.0" fill="#288945"/><rect x="277.5" y="329.0" width="2.0" height="2.0" fill="#2c954a"/><rect x="257.5" y="331.0" width="2.0" height="2.0" fill="#a61c2e"/><rect x="265.5" y="331.0" width="2.0" height="2.0" fill="#288845"/><rect x="269.5" y="331.0" width="2.0" height="2.0" fill="#22753c"/><rect x="255.5" y="333.0" width="2.0" height="2.0" fill="#9c1a2b"/><rect x="259.5" y="333.0" width="2.0" height="2.0" fill="#951829"/><rect x="261.5" y="333.0" width="2.0" height="2.0" fill="#cf253b"/><rect x="265.5" y="333.0" width="2.0" height="2.0" fill="#1e6937"/><rect x="273.5" y="333.0" width="2.0" height="2.0" fill="#206d39"/><rect x="275.5" y="333.0" width="2.0" height="2.0" fill="#154929"/><rect x="257.5" y="335.0" width="2.0" height="2.0" fill="#ad1d30"/><rect x="259.5" y="335.0" width="2.0" height="2.0" fill="#b92034"/><rect x="269.5" y="335.0" width="2.0" height="2.0" fill="#206f39"/><rect x="275.5" y="335.0" width="2.0" height="2.0" fill="#1a5b31"/><rect x="257.5" y="337.0" width="2.0" height="2.0" fill="#d8273e"/><rect x="271.5" y="337.0" width="2.0" height="2.0" fill="#154a29"/><rect x="277.5" y="337.0" width="2.0" height="2.0" fill="#206e39"/><rect x="255.5" y="339.0" width="2.0" height="2.0" fill="#2c8143"/><rect x="257.5" y="339.0" width="2.0" height="2.0" fill="#33954c"/><rect x="263.5" y="339.0" width="2.0" height="2.0" fill="#1f5d33"/><rect x="265.5" y="339.0" width="2.0" height="2.0" fill="#5c1221"/><rect x="277.5" y="339.0" width="2.0" height="2.0" fill="#8a1f2e"/><rect x="257.5" y="341.0" width="2.0" height="2.0" fill="#1e5b32"/><rect x="259.5" y="341.0" width="2.0" height="2.0" fill="#3cad57"/><rect x="261.5" y="341.0" width="2.0" height="2.0" fill="#226637"/><rect x="265.5" y="341.0" width="2.0" height="2.0" fill="#54101f"/><rect x="267.5" y="341.0" width="2.0" height="2.0" fill="#741928"/><rect x="269.5" y="341.0" width="2.0" height="2.0" fill="#631423"/><rect x="273.5" y="341.0" width="2.0" height="2.0" fill="#661524"/><rect x="275.5" y="341.0" width="2.0" height="2.0" fill="#510f1e"/><rect x="277.5" y="341.0" width="2.0" height="2.0" fill="#6d1726"/><rect x="255.5" y="343.0" width="2.0" height="2.0" fill="#226537"/><rect x="259.5" y="343.0" width="2.0" height="2.0" fill="#26713c"/><rect x="265.5" y="343.0" width="2.0" height="2.0" fill="#510f1e"/><rect x="267.5" y="343.0" width="2.0" height="2.0" fill="#821d2c"/><rect x="269.5" y="343.0" width="2.0" height="2.0" fill="#811d2c"/><rect x="275.5" y="343.0" width="2.0" height="2.0" fill="#942231"/><rect x="255.5" y="345.0" width="2.0" height="2.0" fill="#26723d"/><rect x="259.5" y="345.0" width="2.0" height="2.0" fill="#35994e"/><rect x="261.5" y="345.0" width="2.0" height="2.0" fill="#379f51"/><rect x="263.5" y="345.0" width="2.0" height="2.0" fill="#297a40"/><rect x="269.5" y="345.0" width="2.0" height="2.0" fill="#8c202f"/><rect x="271.5" y="345.0" width="2.0" height="2.0" fill="#912130"/><rect x="275.5" y="345.0" width="2.0" height="2.0" fill="#611423"/><rect x="277.5" y="345.0" width="2.0" height="2.0" fill="#8d202f"/><rect x="255.5" y="347.0" width="2.0" height="2.0" fill="#3eb45a"/><rect x="261.5" y="347.0" width="2.0" height="2.0" fill="#40b95d"/><rect x="269.5" y="347.0" width="2.0" height="2.0" fill="#681524"/><rect x="271.5" y="347.0" width="2.0" height="2.0" fill="#7f1c2b"/><rect x="273.5" y="347.0" width="2.0" height="2.0" fill="#5d1221"/><rect x="275.5" y="347.0" width="2.0" height="2.0" fill="#7e1c2b"/><rect x="277.5" y="347.0" width="2.0" height="2.0" fill="#721827"/><rect x="255.5" y="349.0" width="2.0" height="2.0" fill="#40b95d"/><rect x="259.5" y="349.0" width="2.0" height="2.0" fill="#26703c"/><rect x="261.5" y="349.0" width="2.0" height="2.0" fill="#45c663"/><rect x="265.5" y="349.0" width="2.0" height="2.0" fill="#5e1322"/><rect x="273.5" y="349.0" width="2.0" height="2.0" fill="#8d202f"/><rect x="277.5" y="349.0" width="2.0" height="2.0" fill="#942231"/></g>
<rect x="253.5" y="374.6" width="29.2" height="29" fill="#101010" stroke="#2a2a2a" stroke-width="0.8"/>
<g filter="url(#mblur)"><rect x="259.5" y="376.6" width="2.0" height="2.0" fill="#8b1625"/><rect x="267.5" y="376.6" width="2.0" height="2.0" fill="#23763d"/><rect x="273.5" y="376.6" width="2.0" height="2.0" fill="#1e6837"/><rect x="275.5" y="376.6" width="2.0" height="2.0" fill="#267f41"/><rect x="257.5" y="378.6" width="2.0" height="2.0" fill="#b21f32"/><rect x="259.5" y="378.6" width="2.0" height="2.0" fill="#851424"/><rect x="261.5" y="378.6" width="2.0" height="2.0" fill="#b51f33"/><rect x="263.5" y="378.6" width="2.0" height="2.0" fill="#ab1d30"/><rect x="271.5" y="378.6" width="2.0" height="2.0" fill="#144728"/><rect x="273.5" y="378.6" width="2.0" height="2.0" fill="#17502c"/><rect x="257.5" y="380.6" width="2.0" height="2.0" fill="#e42a42"/><rect x="269.5" y="380.6" width="2.0" height="2.0" fill="#2c944a"/><rect x="273.5" y="380.6" width="2.0" height="2.0" fill="#268242"/><rect x="277.5" y="380.6" width="2.0" height="2.0" fill="#21703a"/><rect x="255.5" y="382.6" width="2.0" height="2.0" fill="#e72b43"/><rect x="257.5" y="382.6" width="2.0" height="2.0" fill="#dd2840"/><rect x="259.5" y="382.6" width="2.0" height="2.0" fill="#e32a41"/><rect x="263.5" y="382.6" width="2.0" height="2.0" fill="#c02236"/><rect x="269.5" y="382.6" width="2.0" height="2.0" fill="#19572f"/><rect x="271.5" y="382.6" width="2.0" height="2.0" fill="#257d40"/><rect x="273.5" y="382.6" width="2.0" height="2.0" fill="#2a8e47"/><rect x="275.5" y="382.6" width="2.0" height="2.0" fill="#2a8e47"/><rect x="277.5" y="382.6" width="2.0" height="2.0" fill="#2b9249"/><rect x="257.5" y="384.6" width="2.0" height="2.0" fill="#ba2035"/><rect x="261.5" y="384.6" width="2.0" height="2.0" fill="#a41b2d"/><rect x="263.5" y="384.6" width="2.0" height="2.0" fill="#ba2034"/><rect x="269.5" y="384.6" width="2.0" height="2.0" fill="#288744"/><rect x="275.5" y="384.6" width="2.0" height="2.0" fill="#268142"/><rect x="277.5" y="384.6" width="2.0" height="2.0" fill="#247a3e"/><rect x="255.5" y="386.6" width="2.0" height="2.0" fill="#9a192a"/><rect x="259.5" y="386.6" width="2.0" height="2.0" fill="#bb2135"/><rect x="263.5" y="386.6" width="2.0" height="2.0" fill="#99192a"/><rect x="267.5" y="386.6" width="2.0" height="2.0" fill="#257f41"/><rect x="269.5" y="386.6" width="2.0" height="2.0" fill="#1d6234"/><rect x="271.5" y="386.6" width="2.0" height="2.0" fill="#247b3f"/><rect x="273.5" y="386.6" width="2.0" height="2.0" fill="#2b9249"/><rect x="275.5" y="386.6" width="2.0" height="2.0" fill="#268041"/><rect x="277.5" y="386.6" width="2.0" height="2.0" fill="#1a5a30"/><rect x="257.5" y="388.6" width="2.0" height="2.0" fill="#256e3b"/><rect x="261.5" y="388.6" width="2.0" height="2.0" fill="#1f5e34"/><rect x="265.5" y="388.6" width="2.0" height="2.0" fill="#520f1e"/><rect x="267.5" y="388.6" width="2.0" height="2.0" fill="#7b1b2a"/><rect x="271.5" y="388.6" width="2.0" height="2.0" fill="#671524"/><rect x="273.5" y="388.6" width="2.0" height="2.0" fill="#6f1726"/><rect x="263.5" y="390.6" width="2.0" height="2.0" fill="#27723d"/><rect x="267.5" y="390.6" width="2.0" height="2.0" fill="#571120"/><rect x="269.5" y="390.6" width="2.0" height="2.0" fill="#8d202f"/><rect x="271.5" y="390.6" width="2.0" height="2.0" fill="#781a29"/><rect x="273.5" y="390.6" width="2.0" height="2.0" fill="#741928"/><rect x="275.5" y="390.6" width="2.0" height="2.0" fill="#932231"/><rect x="277.5" y="390.6" width="2.0" height="2.0" fill="#7a1b2a"/><rect x="255.5" y="392.6" width="2.0" height="2.0" fill="#1e5b32"/><rect x="259.5" y="392.6" width="2.0" height="2.0" fill="#206034"/><rect x="261.5" y="392.6" width="2.0" height="2.0" fill="#246b3a"/><rect x="263.5" y="392.6" width="2.0" height="2.0" fill="#379f51"/><rect x="273.5" y="392.6" width="2.0" height="2.0" fill="#6f1726"/><rect x="275.5" y="392.6" width="2.0" height="2.0" fill="#791a29"/><rect x="259.5" y="394.6" width="2.0" height="2.0" fill="#2e8847"/><rect x="261.5" y="394.6" width="2.0" height="2.0" fill="#1e5a32"/><rect x="263.5" y="394.6" width="2.0" height="2.0" fill="#2e8646"/><rect x="265.5" y="394.6" width="2.0" height="2.0" fill="#821d2c"/><rect x="267.5" y="394.6" width="2.0" height="2.0" fill="#56101f"/><rect x="269.5" y="394.6" width="2.0" height="2.0" fill="#601322"/><rect x="271.5" y="394.6" width="2.0" height="2.0" fill="#741928"/><rect x="273.5" y="394.6" width="2.0" height="2.0" fill="#651524"/><rect x="277.5" y="394.6" width="2.0" height="2.0" fill="#8f2130"/><rect x="259.5" y="396.6" width="2.0" height="2.0" fill="#32924b"/><rect x="263.5" y="396.6" width="2.0" height="2.0" fill="#2e8746"/><rect x="267.5" y="396.6" width="2.0" height="2.0" fill="#56101f"/><rect x="271.5" y="396.6" width="2.0" height="2.0" fill="#741928"/><rect x="277.5" y="396.6" width="2.0" height="2.0" fill="#942231"/><rect x="255.5" y="398.6" width="2.0" height="2.0" fill="#1e5c32"/><rect x="259.5" y="398.6" width="2.0" height="2.0" fill="#2a7b41"/><rect x="265.5" y="398.6" width="2.0" height="2.0" fill="#6f1827"/><rect x="267.5" y="398.6" width="2.0" height="2.0" fill="#721827"/><rect x="269.5" y="398.6" width="2.0" height="2.0" fill="#791a29"/><rect x="271.5" y="398.6" width="2.0" height="2.0" fill="#631423"/><rect x="273.5" y="398.6" width="2.0" height="2.0" fill="#912130"/><rect x="275.5" y="398.6" width="2.0" height="2.0" fill="#841e2d"/><rect x="277.5" y="398.6" width="2.0" height="2.0" fill="#781a29"/></g>
<text x="296.5" y="341.5" font-size="10.2" fill="#111" font-weight="normal" font-style="normal" text-anchor="start" textLength="20" lengthAdjust="spacingAndGlyphs" stroke="#111" stroke-width="0.3">AML</text>
<text x="296.5" y="388.4" font-size="10.2" fill="#111" font-weight="normal" font-style="normal" text-anchor="start" textLength="43.5" lengthAdjust="spacingAndGlyphs" stroke="#111" stroke-width="0.3">Computed</text>
<text x="296.5" y="400.4" font-size="10.2" fill="#111" font-weight="normal" font-style="normal" text-anchor="start" textLength="32.5" lengthAdjust="spacingAndGlyphs" stroke="#111" stroke-width="0.3">Normal</text>
<rect x="144" y="414.4" width="199.39999999999998" height="19.600000000000023" fill="#819eab"/>
<text x="244.2" y="426.5" font-size="7.4" font-weight="bold" fill="#fff" text-anchor="middle" textLength="124" lengthAdjust="spacingAndGlyphs">AML vs. normal fold change calculation</text>
<path d="M365 425.6 H353" stroke="#000" stroke-width="3.4" stroke-linecap="round"/>
<path d="M348.1 425.6 L355 419.5 L355 431.7 Z" fill="#000"/>
<rect x="350.8" y="313.8" width="17" height="100.4" fill="#d9d7c5"/>
<text transform="translate(362.1,361.5) rotate(-90)" font-size="7" fill="#333" text-anchor="middle" textLength="75" lengthAdjust="spacingAndGlyphs">compute average normal</text>
<rect x="368" y="314.2" width="112" height="100.2" fill="url(#cg4)" stroke="#777" stroke-width="1.2"/>
<text x="389.8" y="321.8" font-size="8.2" fill="#111" font-weight="normal" font-style="normal" text-anchor="middle" textLength="22.4" lengthAdjust="spacingAndGlyphs">normal</text>
<text x="389.9" y="330.8" font-size="8.2" fill="#111" font-weight="normal" font-style="normal" text-anchor="middle" textLength="28.2" lengthAdjust="spacingAndGlyphs">samples</text>
<path d="M377.5 332.6 H404.5 L408.8 336.6 V346.4 L404.5 350.4 H377.5 Z" fill="#f9f9f6" stroke="#222" stroke-width="1.2"/>
<path d="M377.5 354.3 H404.5 L408.8 358.3 V367.6 L404.5 371.6 H377.5 Z" fill="#f9f9f6" stroke="#222" stroke-width="1.2"/>
<path d="M377.5 394.9 H404.5 L408.8 398.9 V407.9 L404.5 411.9 H377.5 Z" fill="#f9f9f6" stroke="#222" stroke-width="1.2"/>
<path d="M441.5 364.8 H469 L474 369.8 V377.8 L469 382.8 H441.5 Z" fill="#f9f9f6" stroke="#222" stroke-width="1.2"/>
<rect x="382.1" y="333.5" width="15.6" height="16" fill="#101010" stroke="#2a2a2a" stroke-width="0.8"/>
<g filter="url(#mblur)"><rect x="383.7" y="335.1" width="1.6" height="1.6" fill="#bd2136"/><rect x="385.3" y="335.1" width="1.6" height="1.6" fill="#c42338"/><rect x="388.5" y="335.1" width="1.6" height="1.6" fill="#144728"/><rect x="391.7" y="335.1" width="1.6" height="1.6" fill="#195830"/><rect x="383.7" y="336.7" width="1.6" height="1.6" fill="#de2840"/><rect x="385.3" y="336.7" width="1.6" height="1.6" fill="#c82339"/><rect x="386.9" y="336.7" width="1.6" height="1.6" fill="#c72339"/><rect x="383.7" y="338.3" width="1.6" height="1.6" fill="#d5263d"/><rect x="385.3" y="338.3" width="1.6" height="1.6" fill="#a31b2d"/><rect x="386.9" y="338.3" width="1.6" height="1.6" fill="#e12941"/><rect x="388.5" y="338.3" width="1.6" height="1.6" fill="#257f41"/><rect x="383.7" y="339.9" width="1.6" height="1.6" fill="#da283f"/><rect x="385.3" y="339.9" width="1.6" height="1.6" fill="#e82b43"/><rect x="388.5" y="339.9" width="1.6" height="1.6" fill="#17502c"/><rect x="390.1" y="339.9" width="1.6" height="1.6" fill="#2c9349"/><rect x="391.7" y="339.9" width="1.6" height="1.6" fill="#23783d"/><rect x="393.3" y="339.9" width="1.6" height="1.6" fill="#206e39"/><rect x="383.7" y="341.5" width="1.6" height="1.6" fill="#2c8043"/><rect x="386.9" y="343.1" width="1.6" height="1.6" fill="#40b85d"/><rect x="383.7" y="344.7" width="1.6" height="1.6" fill="#3fb55b"/><rect x="386.9" y="344.7" width="1.6" height="1.6" fill="#206035"/><rect x="391.7" y="344.7" width="1.6" height="1.6" fill="#881f2e"/><rect x="393.3" y="344.7" width="1.6" height="1.6" fill="#5a1221"/><rect x="383.7" y="346.3" width="1.6" height="1.6" fill="#3cae58"/><rect x="386.9" y="346.3" width="1.6" height="1.6" fill="#369d50"/><rect x="388.5" y="346.3" width="1.6" height="1.6" fill="#821d2c"/><rect x="390.1" y="346.3" width="1.6" height="1.6" fill="#8d202f"/></g>
<rect x="382.1" y="355.2" width="15.6" height="16" fill="#101010" stroke="#2a2a2a" stroke-width="0.8"/>
<g filter="url(#mblur)"><rect x="383.7" y="356.8" width="1.6" height="1.6" fill="#8d1626"/><rect x="385.3" y="356.8" width="1.6" height="1.6" fill="#931728"/><rect x="386.9" y="356.8" width="1.6" height="1.6" fill="#ae1e31"/><rect x="393.3" y="356.8" width="1.6" height="1.6" fill="#21703a"/><rect x="383.7" y="358.4" width="1.6" height="1.6" fill="#941829"/><rect x="385.3" y="358.4" width="1.6" height="1.6" fill="#99192a"/><rect x="393.3" y="358.4" width="1.6" height="1.6" fill="#1b5e32"/><rect x="390.1" y="360.0" width="1.6" height="1.6" fill="#23763d"/><rect x="383.7" y="361.6" width="1.6" height="1.6" fill="#b61f33"/><rect x="385.3" y="361.6" width="1.6" height="1.6" fill="#e82b43"/><rect x="390.1" y="361.6" width="1.6" height="1.6" fill="#2a8e47"/><rect x="385.3" y="363.2" width="1.6" height="1.6" fill="#2e8746"/><rect x="388.5" y="363.2" width="1.6" height="1.6" fill="#5b1221"/><rect x="390.1" y="363.2" width="1.6" height="1.6" fill="#881f2e"/><rect x="391.7" y="363.2" width="1.6" height="1.6" fill="#530f1e"/><rect x="383.7" y="364.8" width="1.6" height="1.6" fill="#33944c"/><rect x="385.3" y="364.8" width="1.6" height="1.6" fill="#2b7f43"/><rect x="388.5" y="364.8" width="1.6" height="1.6" fill="#6c1726"/><rect x="390.1" y="364.8" width="1.6" height="1.6" fill="#7c1b2a"/><rect x="391.7" y="364.8" width="1.6" height="1.6" fill="#681625"/><rect x="383.7" y="366.4" width="1.6" height="1.6" fill="#34974d"/><rect x="386.9" y="366.4" width="1.6" height="1.6" fill="#206035"/><rect x="388.5" y="366.4" width="1.6" height="1.6" fill="#851e2d"/><rect x="391.7" y="366.4" width="1.6" height="1.6" fill="#671524"/><rect x="393.3" y="366.4" width="1.6" height="1.6" fill="#701827"/><rect x="383.7" y="368.0" width="1.6" height="1.6" fill="#39a654"/><rect x="391.7" y="368.0" width="1.6" height="1.6" fill="#641423"/></g>
<rect x="382.1" y="395.8" width="15.6" height="16" fill="#101010" stroke="#2a2a2a" stroke-width="0.8"/>
<g filter="url(#mblur)"><rect x="393.3" y="397.4" width="1.6" height="1.6" fill="#1f6b38"/><rect x="388.5" y="399.0" width="1.6" height="1.6" fill="#1f6b38"/><rect x="390.1" y="399.0" width="1.6" height="1.6" fill="#21713b"/><rect x="393.3" y="399.0" width="1.6" height="1.6" fill="#19572f"/><rect x="383.7" y="400.6" width="1.6" height="1.6" fill="#e62a43"/><rect x="386.9" y="400.6" width="1.6" height="1.6" fill="#d9273e"/><rect x="388.5" y="400.6" width="1.6" height="1.6" fill="#23773d"/><rect x="390.1" y="400.6" width="1.6" height="1.6" fill="#144628"/><rect x="393.3" y="400.6" width="1.6" height="1.6" fill="#19572f"/><rect x="386.9" y="402.2" width="1.6" height="1.6" fill="#eb2c44"/><rect x="391.7" y="402.2" width="1.6" height="1.6" fill="#2b9148"/><rect x="386.9" y="403.8" width="1.6" height="1.6" fill="#2c8144"/><rect x="388.5" y="403.8" width="1.6" height="1.6" fill="#5a1120"/><rect x="390.1" y="403.8" width="1.6" height="1.6" fill="#651524"/><rect x="393.3" y="403.8" width="1.6" height="1.6" fill="#7f1c2b"/><rect x="383.7" y="405.4" width="1.6" height="1.6" fill="#2a7c41"/><rect x="386.9" y="405.4" width="1.6" height="1.6" fill="#2a7c41"/><rect x="388.5" y="405.4" width="1.6" height="1.6" fill="#811d2c"/><rect x="390.1" y="405.4" width="1.6" height="1.6" fill="#942231"/><rect x="391.7" y="405.4" width="1.6" height="1.6" fill="#841d2c"/><rect x="383.7" y="407.0" width="1.6" height="1.6" fill="#3db059"/><rect x="385.3" y="407.0" width="1.6" height="1.6" fill="#35994e"/><rect x="386.9" y="407.0" width="1.6" height="1.6" fill="#1f5f34"/><rect x="388.5" y="407.0" width="1.6" height="1.6" fill="#922231"/><rect x="390.1" y="407.0" width="1.6" height="1.6" fill="#841e2d"/><rect x="383.7" y="408.6" width="1.6" height="1.6" fill="#2c8143"/><rect x="385.3" y="408.6" width="1.6" height="1.6" fill="#3daf58"/><rect x="386.9" y="408.6" width="1.6" height="1.6" fill="#3bac57"/><rect x="391.7" y="408.6" width="1.6" height="1.6" fill="#922130"/><rect x="393.3" y="408.6" width="1.6" height="1.6" fill="#671524"/></g>
<rect x="446" y="365.6" width="16" height="16.4" fill="#101010" stroke="#2a2a2a" stroke-width="0.8"/>
<g filter="url(#mblur)"><rect x="450.8" y="367.2" width="1.6" height="1.6" fill="#9e1a2c"/><rect x="452.4" y="367.2" width="1.6" height="1.6" fill="#ca243a"/><rect x="454.0" y="367.2" width="1.6" height="1.6" fill="#268242"/><rect x="455.6" y="367.2" width="1.6" height="1.6" fill="#278342"/><rect x="457.2" y="367.2" width="1.6" height="1.6" fill="#288644"/><rect x="447.6" y="368.8" width="1.6" height="1.6" fill="#bd2135"/><rect x="450.8" y="368.8" width="1.6" height="1.6" fill="#be2136"/><rect x="454.0" y="368.8" width="1.6" height="1.6" fill="#288644"/><rect x="458.8" y="368.8" width="1.6" height="1.6" fill="#164d2b"/><rect x="450.8" y="370.4" width="1.6" height="1.6" fill="#8c1626"/><rect x="452.4" y="370.4" width="1.6" height="1.6" fill="#c72339"/><rect x="454.0" y="370.4" width="1.6" height="1.6" fill="#2b9249"/><rect x="457.2" y="370.4" width="1.6" height="1.6" fill="#247a3e"/><rect x="458.8" y="370.4" width="1.6" height="1.6" fill="#2b9048"/><rect x="449.2" y="372.0" width="1.6" height="1.6" fill="#c82439"/><rect x="455.6" y="372.0" width="1.6" height="1.6" fill="#1d6234"/><rect x="458.8" y="372.0" width="1.6" height="1.6" fill="#22753c"/><rect x="447.6" y="373.6" width="1.6" height="1.6" fill="#41ba5e"/><rect x="449.2" y="373.6" width="1.6" height="1.6" fill="#226637"/><rect x="452.4" y="373.6" width="1.6" height="1.6" fill="#5d1221"/><rect x="454.0" y="373.6" width="1.6" height="1.6" fill="#591120"/><rect x="455.6" y="373.6" width="1.6" height="1.6" fill="#8c202f"/><rect x="458.8" y="373.6" width="1.6" height="1.6" fill="#861e2d"/><rect x="447.6" y="375.2" width="1.6" height="1.6" fill="#2b7e42"/><rect x="452.4" y="375.2" width="1.6" height="1.6" fill="#6a1625"/><rect x="454.0" y="375.2" width="1.6" height="1.6" fill="#581120"/><rect x="457.2" y="375.2" width="1.6" height="1.6" fill="#6d1726"/><rect x="447.6" y="376.8" width="1.6" height="1.6" fill="#45c563"/><rect x="449.2" y="376.8" width="1.6" height="1.6" fill="#45c562"/><rect x="455.6" y="376.8" width="1.6" height="1.6" fill="#8a1f2e"/><rect x="447.6" y="378.4" width="1.6" height="1.6" fill="#3aa755"/><rect x="449.2" y="378.4" width="1.6" height="1.6" fill="#216336"/><rect x="452.4" y="378.4" width="1.6" height="1.6" fill="#721827"/><rect x="455.6" y="378.4" width="1.6" height="1.6" fill="#510f1e"/><rect x="457.2" y="378.4" width="1.6" height="1.6" fill="#791a29"/><rect x="458.8" y="378.4" width="1.6" height="1.6" fill="#611423"/></g>
<circle cx="388.5" cy="378" r="1.9" fill="none" stroke="#111" stroke-width="1.2"/>
<circle cx="388.5" cy="383.6" r="1.9" fill="none" stroke="#111" stroke-width="1.2"/>
<circle cx="388.5" cy="389.2" r="1.9" fill="none" stroke="#111" stroke-width="1.2"/>
<path d="M408.8 341.5 L419.5 347.5 M430.5 356 L441.5 366.5 M408.8 363 L418 364 M431 366.5 L441.5 369 M408.8 403 L420 396.5 M433 389.5 L441.5 378.5" stroke="#111" stroke-width="1.3"/>
<text x="419.6" y="352.6" font-size="9.2" fill="#111" font-weight="normal" font-style="normal" text-anchor="start" textLength="11.5" lengthAdjust="spacingAndGlyphs" stroke="#111" stroke-width="0.3">w1</text>
<text x="418.2" y="367.4" font-size="9.2" fill="#111" font-weight="normal" font-style="normal" text-anchor="start" textLength="12.4" lengthAdjust="spacingAndGlyphs" stroke="#111" stroke-width="0.3">w2</text>
<text x="420.8" y="397" font-size="9.2" fill="#111" font-weight="normal" font-style="normal" text-anchor="start" textLength="12.5" lengthAdjust="spacingAndGlyphs" stroke="#111" stroke-width="0.3">w5</text>
<text x="456" y="353.3" font-size="9.2" fill="#111" font-weight="normal" font-style="normal" text-anchor="middle" textLength="36.4" lengthAdjust="spacingAndGlyphs" stroke="#111" stroke-width="0.3">Computed</text>
<text x="455.8" y="363" font-size="9.2" fill="#111" font-weight="normal" font-style="normal" text-anchor="middle" textLength="25.5" lengthAdjust="spacingAndGlyphs" stroke="#111" stroke-width="0.3">normal</text>
<rect x="368" y="414.4" width="112" height="19.600000000000023" fill="#819eab"/>
<text x="426.4" y="421.5" font-size="7.4" font-weight="bold" fill="#fff" text-anchor="middle" textLength="61.8" lengthAdjust="spacingAndGlyphs">weighted average</text>
<text x="426.5" y="430.0" font-size="7.4" font-weight="bold" fill="#fff" text-anchor="middle" textLength="59" lengthAdjust="spacingAndGlyphs">of  closest neighbors</text>
</svg>
</body></html>
